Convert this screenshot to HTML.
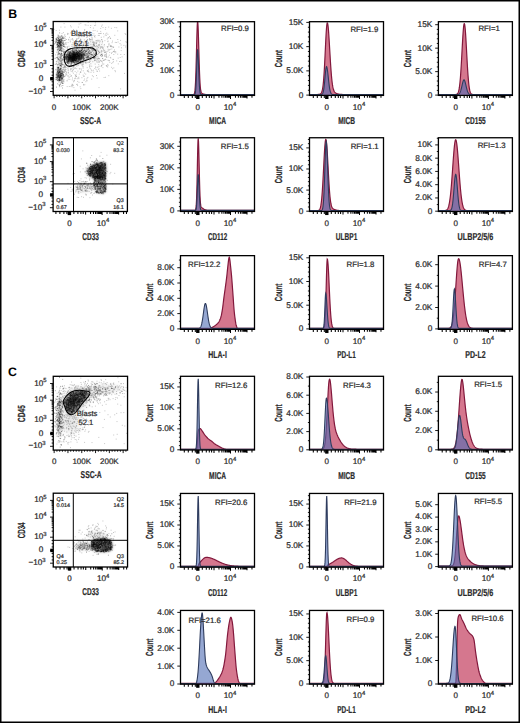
<!DOCTYPE html><html><head><meta charset="utf-8"><style>html,body{margin:0;padding:0;background:#fff;}svg{display:block;}text{font-family:"Liberation Sans",sans-serif;text-rendering:geometricPrecision;}.t{stroke:#2a2a2a;stroke-width:.22}</style></head><body><svg width="520" height="723" viewBox="0 0 520 723" font-family="Liberation Sans, sans-serif">
<rect width="520" height="723" fill="#fff"/>
<defs><filter id="b0" x="-5%" y="-5%" width="110%" height="110%"><feGaussianBlur stdDeviation="0.35"/></filter><filter id="b1" x="-50%" y="-50%" width="200%" height="200%"><feGaussianBlur stdDeviation="0.9"/></filter><filter id="b2" x="-50%" y="-50%" width="200%" height="200%"><feGaussianBlur stdDeviation="1.8"/></filter><filter id="b3" x="-50%" y="-50%" width="200%" height="200%"><feGaussianBlur stdDeviation="3.5"/></filter></defs>
<clipPath id="c0"><rect x="180.5" y="21.7" width="74" height="73.7"/></clipPath>
<g clip-path="url(#c0)">
<path d="M178.5,98.2L178.5,94.65L193,94.64L193.25,94.62L193.5,94.57L193.75,94.48L194,94.29L194.25,93.92L194.5,93.24L194.75,92.06L195,90.13L195.25,87.14L195.5,82.8L195.75,76.88L196,69.31L196.25,60.31L196.5,50.44L196.75,40.56L197,31.78L197.25,25.2L197.5,21.74L197.75,21.8L198,24.93L198.25,30.7L198.5,38.41L198.75,47.18L199,56.13L199.25,64.56L199.5,71.96L199.75,78.06L200,82.81L200.25,86.33L200.5,88.81L200.75,90.49L201,91.6L201.25,92.31L201.5,92.77L201.75,93.08L202,93.3L202.25,93.47L202.5,93.61L202.75,93.73L203,93.84L203.25,93.94L203.5,94.03L203.75,94.11L204,94.18L204.25,94.25L204.5,94.31L204.75,94.36L205,94.41L205.25,94.45L205.5,94.49L205.75,94.52L206,94.54L206.25,94.56L206.5,94.58L206.75,94.59L207,94.6L207.25,94.61L207.5,94.62L207.75,94.63L208,94.63L256.5,94.65L256.5,98.2Z" fill="rgba(192,48,84,0.66)" stroke="#82183c" stroke-width="1.2"/>
<path d="M178.5,98.2L178.5,94.65L194,94.63L194.25,94.61L194.5,94.53L194.75,94.35L195,93.96L195.25,93.16L195.5,91.69L195.75,89.21L196,85.38L196.25,80.04L196.5,73.33L196.75,65.84L197,58.62L197.25,52.93L197.5,49.93L197.75,50.15L198,53.11L198.25,58.22L198.5,64.64L198.75,71.42L199,77.76L199.25,83.11L199.5,87.25L199.75,90.19L200,92.12L200.25,93.31L200.5,93.98L200.75,94.33L201,94.51L201.25,94.59L201.5,94.63L201.75,94.64L256.5,94.65L256.5,98.2Z" fill="rgba(78,108,180,0.6)" stroke="#2e3c5e" stroke-width="1.1"/>
</g>
<rect x="180.5" y="21.7" width="74" height="73.7" fill="none" stroke="#000" stroke-width="1.3"/>
<path d="M177.3,95.2H180.5M178.9,90.31H180.5M178.9,85.43H180.5M178.9,80.54H180.5M178.9,75.65H180.5M177.3,70.77H180.5M178.9,65.88H180.5M178.9,60.99H180.5M178.9,56.11H180.5M178.9,51.22H180.5M177.3,46.33H180.5M178.9,41.45H180.5M178.9,36.56H180.5M178.9,31.67H180.5M178.9,26.79H180.5M177.3,21.9H180.5" stroke="#000" stroke-width="0.9" fill="none"/>
<text class="t" x="174.4" y="97.6" font-size="8.3" text-anchor="end" fill="#2a2a2a" font-weight="normal" >0</text>
<text class="t" x="174.4" y="73.17" font-size="8.3" text-anchor="end" fill="#2a2a2a" font-weight="normal" >10K</text>
<text class="t" x="174.4" y="48.73" font-size="8.3" text-anchor="end" fill="#2a2a2a" font-weight="normal" >20K</text>
<text class="t" x="174.4" y="24.3" font-size="8.3" text-anchor="end" fill="#2a2a2a" font-weight="normal" >30K</text>
<path d="M184.3,95.4V98M188.3,95.4V98M192.3,95.4V98M195.3,95.4V98M197.8,95.4V98.6M202.3,95.4V98M206.3,95.4V98M209.3,95.4V98M211.6,95.4V98M214,95.4V98.4M218.97,95.4V97.8M221.87,95.4V97.8M223.93,95.4V97.8M225.53,95.4V97.8M226.84,95.4V97.8M227.94,95.4V97.8M228.9,95.4V97.8M229.75,95.4V97.8M230.5,95.4V99M235.47,95.4V97.8M238.37,95.4V97.8M240.43,95.4V97.8M242.03,95.4V97.8M243.34,95.4V97.8M244.44,95.4V97.8M245.4,95.4V97.8M246.25,95.4V97.8M247,95.4V98.4M251.97,95.4V97.8" stroke="#000" stroke-width="1.05" fill="none"/>
<rect x="196.1" y="95.4" width="3.4" height="3.6" fill="#000"/>
<text class="t" x="197.8" y="109.7" font-size="8" text-anchor="middle" fill="#2a2a2a" font-weight="normal" >0</text>
<text class="t" x="223.8" y="109.7" font-size="8.2" fill="#2a2a2a">10<tspan font-size="5.9" dy="-3.5">4</tspan></text>
<text class="t" x="221" y="31.4" font-size="7.8" text-anchor="start" fill="#2a2a2a" font-weight="normal" >RFI=0.9</text>
<text transform="translate(153,58.55) rotate(-90)" font-size="10.3" font-weight="bold" text-anchor="middle" fill="#2a2a2a" stroke="#2a2a2a" stroke-width="0.2" textLength="17.3" lengthAdjust="spacingAndGlyphs">Count</text>
<text x="217.6" y="123.9" font-size="10.0" font-weight="bold" text-anchor="middle" fill="#2a2a2a" stroke="#2a2a2a" stroke-width="0.2" textLength="17" lengthAdjust="spacingAndGlyphs">MICA</text>
<clipPath id="c1"><rect x="309.5" y="21.7" width="74" height="73.7"/></clipPath>
<g clip-path="url(#c1)">
<path d="M307.5,98.1L307.5,94.55L316,94.53L316.25,94.53L316.5,94.52L316.75,94.52L317,94.51L317.25,94.5L317.5,94.48L317.75,94.47L318,94.45L318.25,94.43L318.5,94.4L318.75,94.37L319,94.33L319.25,94.28L319.5,94.22L319.75,94.14L320,94.05L320.25,93.93L320.5,93.78L320.75,93.58L321,93.32L321.25,92.99L321.5,92.56L321.75,92.01L322,91.29L322.25,90.37L322.5,89.21L322.75,87.76L323,85.98L323.25,83.81L323.5,81.21L323.75,78.17L324,74.65L324.25,70.68L324.5,66.27L324.75,61.5L325,56.44L325.25,51.21L325.5,45.97L325.75,40.87L326,36.09L326.25,31.82L326.5,28.22L326.75,25.45L327,23.63L327.25,22.83L327.5,23L327.75,23.91L328,25.54L328.25,27.8L328.5,30.65L328.75,33.98L329,37.71L329.25,41.74L329.5,45.95L329.75,50.24L330,54.53L330.25,58.73L330.5,62.77L330.75,66.58L331,70.12L331.25,73.37L331.5,76.3L331.75,78.92L332,81.22L332.25,83.22L332.5,84.95L332.75,86.42L333,87.66L333.25,88.7L333.5,89.56L333.75,90.28L334,90.88L334.25,91.37L334.5,91.77L334.75,92.11L335,92.39L335.25,92.63L335.5,92.83L335.75,93L336,93.15L336.25,93.29L336.5,93.41L336.75,93.51L337,93.61L337.25,93.7L337.5,93.78L337.75,93.85L338,93.92L338.25,93.99L338.5,94.04L338.75,94.09L339,94.14L339.25,94.19L339.5,94.23L339.75,94.26L340,94.3L340.25,94.32L340.5,94.35L340.75,94.38L341,94.4L341.25,94.42L341.5,94.43L341.75,94.45L342,94.46L342.25,94.47L342.5,94.48L342.75,94.49L343,94.5L343.25,94.51L343.5,94.51L343.75,94.52L344,94.52L344.25,94.53L344.5,94.53L385.5,94.55L385.5,98.1Z" fill="rgba(192,48,84,0.66)" stroke="#82183c" stroke-width="1.2"/>
<path d="M307.5,98.1L307.5,94.55L320.75,94.53L321,94.52L321.25,94.49L321.5,94.44L321.75,94.36L322,94.24L322.25,94.04L322.5,93.75L322.75,93.32L323,92.71L323.25,91.87L323.5,90.76L323.75,89.33L324,87.57L324.25,85.46L324.5,83.04L324.75,80.37L325,77.57L325.25,74.76L325.5,72.13L325.75,69.84L326,68.06L326.25,66.94L326.5,66.55L326.75,66.82L327,67.61L327.25,68.88L327.5,70.55L327.75,72.55L328,74.76L328.25,77.1L328.5,79.45L328.75,81.73L329,83.88L329.25,85.83L329.5,87.57L329.75,89.06L330,90.32L330.25,91.35L330.5,92.18L330.75,92.83L331,93.32L331.25,93.69L331.5,93.96L331.75,94.15L332,94.29L332.25,94.38L332.5,94.44L332.75,94.48L333,94.51L333.25,94.53L333.5,94.54L385.5,94.55L385.5,98.1Z" fill="rgba(78,108,180,0.6)" stroke="#2e3c5e" stroke-width="1.1"/>
</g>
<rect x="309.5" y="21.7" width="74" height="73.7" fill="none" stroke="#000" stroke-width="1.3"/>
<path d="M306.3,95.1H309.5M307.9,90.25H309.5M307.9,85.41H309.5M307.9,80.56H309.5M307.9,75.71H309.5M306.3,70.87H309.5M307.9,66.02H309.5M307.9,61.17H309.5M307.9,56.33H309.5M307.9,51.48H309.5M306.3,46.63H309.5M307.9,41.79H309.5M307.9,36.94H309.5M307.9,32.09H309.5M307.9,27.25H309.5M306.3,22.4H309.5" stroke="#000" stroke-width="0.9" fill="none"/>
<text class="t" x="303.4" y="97.5" font-size="8.3" text-anchor="end" fill="#2a2a2a" font-weight="normal" >0</text>
<text class="t" x="303.4" y="73.27" font-size="8.3" text-anchor="end" fill="#2a2a2a" font-weight="normal" >5.0K</text>
<text class="t" x="303.4" y="49.03" font-size="8.3" text-anchor="end" fill="#2a2a2a" font-weight="normal" >10K</text>
<text class="t" x="303.4" y="24.8" font-size="8.3" text-anchor="end" fill="#2a2a2a" font-weight="normal" >15K</text>
<path d="M313.3,95.4V98M317.3,95.4V98M321.3,95.4V98M324.3,95.4V98M326.8,95.4V98.6M331.3,95.4V98M335.3,95.4V98M338.3,95.4V98M340.6,95.4V98M343,95.4V98.4M347.97,95.4V97.8M350.87,95.4V97.8M352.93,95.4V97.8M354.53,95.4V97.8M355.84,95.4V97.8M356.94,95.4V97.8M357.9,95.4V97.8M358.75,95.4V97.8M359.5,95.4V99M364.47,95.4V97.8M367.37,95.4V97.8M369.43,95.4V97.8M371.03,95.4V97.8M372.34,95.4V97.8M373.44,95.4V97.8M374.4,95.4V97.8M375.25,95.4V97.8M376,95.4V98.4M380.97,95.4V97.8" stroke="#000" stroke-width="1.05" fill="none"/>
<rect x="325.1" y="95.4" width="3.4" height="3.6" fill="#000"/>
<text class="t" x="326.8" y="109.7" font-size="8" text-anchor="middle" fill="#2a2a2a" font-weight="normal" >0</text>
<text class="t" x="352.8" y="109.7" font-size="8.2" fill="#2a2a2a">10<tspan font-size="5.9" dy="-3.5">4</tspan></text>
<text class="t" x="350.4" y="31.7" font-size="7.8" text-anchor="start" fill="#2a2a2a" font-weight="normal" >RFI=1.9</text>
<text transform="translate(282,58.55) rotate(-90)" font-size="10.3" font-weight="bold" text-anchor="middle" fill="#2a2a2a" stroke="#2a2a2a" stroke-width="0.2" textLength="17.3" lengthAdjust="spacingAndGlyphs">Count</text>
<text x="346.6" y="123.9" font-size="10.0" font-weight="bold" text-anchor="middle" fill="#2a2a2a" stroke="#2a2a2a" stroke-width="0.2" textLength="16.9" lengthAdjust="spacingAndGlyphs">MICB</text>
<clipPath id="c2"><rect x="438.4" y="21.7" width="74" height="73.7"/></clipPath>
<g clip-path="url(#c2)">
<path d="M436.4,98.1L436.4,94.55L454.9,94.53L455.15,94.52L455.4,94.51L455.65,94.49L455.9,94.46L456.15,94.42L456.4,94.36L456.65,94.27L456.9,94.15L457.15,93.98L457.4,93.76L457.65,93.47L457.9,93.07L458.15,92.56L458.4,91.91L458.65,91.08L458.9,90.05L459.15,88.77L459.4,87.22L459.65,85.37L459.9,83.18L460.15,80.63L460.4,77.71L460.65,74.42L460.9,70.77L461.15,66.8L461.4,62.53L461.65,58.04L461.9,53.42L462.15,48.75L462.4,44.15L462.65,39.74L462.9,35.64L463.15,31.98L463.4,28.88L463.65,26.43L463.9,24.71L464.15,23.8L464.4,23.72L464.65,24.47L464.9,26.02L465.15,28.33L465.4,31.31L465.65,34.87L465.9,38.89L466.15,43.25L466.4,47.82L466.65,52.48L466.9,57.13L467.15,61.65L467.4,65.96L467.65,70L467.9,73.72L468.15,77.08L468.4,80.07L468.65,82.69L468.9,84.95L469.15,86.87L469.4,88.48L469.65,89.81L469.9,90.89L470.15,91.76L470.4,92.45L470.65,92.98L470.9,93.4L471.15,93.71L471.4,93.95L471.65,94.12L471.9,94.25L472.15,94.34L472.4,94.41L472.65,94.45L472.9,94.48L473.15,94.51L473.4,94.52L473.65,94.53L514.4,94.55L514.4,98.1Z" fill="rgba(192,48,84,0.66)" stroke="#82183c" stroke-width="1.2"/>
<path d="M436.4,98.1L436.4,94.55L456.65,94.53L456.9,94.52L457.15,94.51L457.4,94.49L457.65,94.45L457.9,94.41L458.15,94.35L458.4,94.26L458.65,94.14L458.9,93.98L459.15,93.77L459.4,93.51L459.65,93.17L459.9,92.75L460.15,92.25L460.4,91.64L460.65,90.94L460.9,90.13L461.15,89.22L461.4,88.24L461.65,87.18L461.9,86.08L462.15,84.97L462.4,83.88L462.65,82.84L462.9,81.91L463.15,81.12L463.4,80.5L463.65,80.07L463.9,79.87L464.15,79.89L464.4,80.14L464.65,80.61L464.9,81.27L465.15,82.09L465.4,83.04L465.65,84.09L465.9,85.19L466.15,86.3L466.4,87.39L466.65,88.44L466.9,89.41L467.15,90.3L467.4,91.08L467.65,91.77L467.9,92.35L468.15,92.84L468.4,93.24L468.65,93.56L468.9,93.82L469.15,94.02L469.4,94.17L469.65,94.28L469.9,94.36L470.15,94.42L470.4,94.46L470.65,94.49L470.9,94.51L471.15,94.53L471.4,94.53L514.4,94.55L514.4,98.1Z" fill="rgba(78,108,180,0.6)" stroke="#2e3c5e" stroke-width="1.1"/>
</g>
<rect x="438.4" y="21.7" width="74" height="73.7" fill="none" stroke="#000" stroke-width="1.3"/>
<path d="M435.2,95.1H438.4M436.8,90.41H438.4M436.8,85.71H438.4M436.8,81.02H438.4M436.8,76.33H438.4M435.2,71.63H438.4M436.8,66.94H438.4M436.8,62.25H438.4M436.8,57.55H438.4M436.8,52.86H438.4M435.2,48.17H438.4M436.8,43.47H438.4M436.8,38.78H438.4M436.8,34.09H438.4M436.8,29.39H438.4M435.2,24.7H438.4" stroke="#000" stroke-width="0.9" fill="none"/>
<text class="t" x="432.3" y="97.5" font-size="8.3" text-anchor="end" fill="#2a2a2a" font-weight="normal" >0</text>
<text class="t" x="432.3" y="74.03" font-size="8.3" text-anchor="end" fill="#2a2a2a" font-weight="normal" >5.0K</text>
<text class="t" x="432.3" y="50.57" font-size="8.3" text-anchor="end" fill="#2a2a2a" font-weight="normal" >10K</text>
<text class="t" x="432.3" y="27.1" font-size="8.3" text-anchor="end" fill="#2a2a2a" font-weight="normal" >15K</text>
<path d="M442.2,95.4V98M446.2,95.4V98M450.2,95.4V98M453.2,95.4V98M455.7,95.4V98.6M460.2,95.4V98M464.2,95.4V98M467.2,95.4V98M469.5,95.4V98M471.9,95.4V98.4M476.87,95.4V97.8M479.77,95.4V97.8M481.83,95.4V97.8M483.43,95.4V97.8M484.74,95.4V97.8M485.84,95.4V97.8M486.8,95.4V97.8M487.65,95.4V97.8M488.4,95.4V99M493.37,95.4V97.8M496.27,95.4V97.8M498.33,95.4V97.8M499.93,95.4V97.8M501.24,95.4V97.8M502.34,95.4V97.8M503.3,95.4V97.8M504.15,95.4V97.8M504.9,95.4V98.4M509.87,95.4V97.8" stroke="#000" stroke-width="1.05" fill="none"/>
<rect x="454" y="95.4" width="3.4" height="3.6" fill="#000"/>
<text class="t" x="455.7" y="109.7" font-size="8" text-anchor="middle" fill="#2a2a2a" font-weight="normal" >0</text>
<text class="t" x="481.7" y="109.7" font-size="8.2" fill="#2a2a2a">10<tspan font-size="5.9" dy="-3.5">4</tspan></text>
<text class="t" x="478.4" y="30.5" font-size="7.8" text-anchor="start" fill="#2a2a2a" font-weight="normal" >RFI=1</text>
<text transform="translate(410.9,58.55) rotate(-90)" font-size="10.3" font-weight="bold" text-anchor="middle" fill="#2a2a2a" stroke="#2a2a2a" stroke-width="0.2" textLength="17.3" lengthAdjust="spacingAndGlyphs">Count</text>
<text x="475.5" y="123.9" font-size="10.0" font-weight="bold" text-anchor="middle" fill="#2a2a2a" stroke="#2a2a2a" stroke-width="0.2" textLength="20.3" lengthAdjust="spacingAndGlyphs">CD155</text>
<clipPath id="c3"><rect x="180.5" y="137.75" width="74" height="73.7"/></clipPath>
<g clip-path="url(#c3)">
<path d="M178.5,213.9L178.5,210.35L194.5,210.34L194.75,210.33L195,210.29L195.25,210.17L195.5,209.88L195.75,209.21L196,207.82L196.25,205.18L196.5,200.64L196.75,193.62L197,183.91L197.25,171.99L197.5,159.29L197.75,147.99L198,140.44L198.25,138.37L198.5,141.47L198.75,148.7L199,158.66L199.25,169.63L199.5,180.07L199.75,188.92L200,195.7L200.25,200.46L200.5,203.56L200.75,205.43L201,206.49L201.25,207.07L201.5,207.41L201.75,207.64L202,207.82L202.25,207.99L202.5,208.17L202.75,208.35L203,208.53L203.25,208.71L203.5,208.89L203.75,209.06L204,209.22L204.25,209.38L204.5,209.52L204.75,209.64L205,209.76L205.25,209.86L205.5,209.94L205.75,210.02L206,210.08L206.25,210.14L206.5,210.18L206.75,210.22L207,210.25L207.25,210.27L207.5,210.29L207.75,210.31L208,210.32L208.25,210.33L208.5,210.33L256.5,210.35L256.5,213.9Z" fill="rgba(192,48,84,0.66)" stroke="#82183c" stroke-width="1.2"/>
<path d="M178.5,213.9L178.5,210.35L195,210.34L195.25,210.31L195.5,210.23L195.75,210.02L196,209.53L196.25,208.5L196.5,206.59L196.75,203.38L197,198.66L197.25,192.56L197.5,185.8L197.75,179.62L198,175.46L198.25,174.41L198.5,176.3L198.75,180.48L199,186.1L199.25,192.12L199.5,197.67L199.75,202.18L200,205.48L200.25,207.66L200.5,208.98L200.75,209.7L201,210.07L201.25,210.23L201.5,210.31L201.75,210.33L256.5,210.35L256.5,213.9Z" fill="rgba(78,108,180,0.6)" stroke="#2e3c5e" stroke-width="1.1"/>
</g>
<rect x="180.5" y="137.75" width="74" height="73.7" fill="none" stroke="#000" stroke-width="1.3"/>
<path d="M177.3,210.9H180.5M178.9,206.59H180.5M178.9,202.29H180.5M178.9,197.98H180.5M178.9,193.67H180.5M177.3,189.37H180.5M178.9,185.06H180.5M178.9,180.75H180.5M178.9,176.45H180.5M178.9,172.14H180.5M177.3,167.83H180.5M178.9,163.53H180.5M178.9,159.22H180.5M178.9,154.91H180.5M178.9,150.61H180.5M177.3,146.3H180.5M178.9,141.99H180.5" stroke="#000" stroke-width="0.9" fill="none"/>
<text class="t" x="174.4" y="213.3" font-size="8.3" text-anchor="end" fill="#2a2a2a" font-weight="normal" >0</text>
<text class="t" x="174.4" y="191.77" font-size="8.3" text-anchor="end" fill="#2a2a2a" font-weight="normal" >10K</text>
<text class="t" x="174.4" y="170.23" font-size="8.3" text-anchor="end" fill="#2a2a2a" font-weight="normal" >20K</text>
<text class="t" x="174.4" y="148.7" font-size="8.3" text-anchor="end" fill="#2a2a2a" font-weight="normal" >30K</text>
<path d="M184.3,211.45V214.05M188.3,211.45V214.05M192.3,211.45V214.05M195.3,211.45V214.05M197.8,211.45V214.65M202.3,211.45V214.05M206.3,211.45V214.05M209.3,211.45V214.05M211.6,211.45V214.05M214,211.45V214.45M218.97,211.45V213.85M221.87,211.45V213.85M223.93,211.45V213.85M225.53,211.45V213.85M226.84,211.45V213.85M227.94,211.45V213.85M228.9,211.45V213.85M229.75,211.45V213.85M230.5,211.45V215.05M235.47,211.45V213.85M238.37,211.45V213.85M240.43,211.45V213.85M242.03,211.45V213.85M243.34,211.45V213.85M244.44,211.45V213.85M245.4,211.45V213.85M246.25,211.45V213.85M247,211.45V214.45M251.97,211.45V213.85" stroke="#000" stroke-width="1.05" fill="none"/>
<rect x="196.1" y="211.45" width="3.4" height="3.6" fill="#000"/>
<text class="t" x="197.8" y="225.75" font-size="8" text-anchor="middle" fill="#2a2a2a" font-weight="normal" >0</text>
<text class="t" x="223.8" y="225.75" font-size="8.2" fill="#2a2a2a">10<tspan font-size="5.9" dy="-3.5">4</tspan></text>
<text class="t" x="220.8" y="149" font-size="7.8" text-anchor="start" fill="#2a2a2a" font-weight="normal" >RFI=1.5</text>
<text transform="translate(153,174.6) rotate(-90)" font-size="10.3" font-weight="bold" text-anchor="middle" fill="#2a2a2a" stroke="#2a2a2a" stroke-width="0.2" textLength="17.3" lengthAdjust="spacingAndGlyphs">Count</text>
<text x="217.6" y="239.95" font-size="10.0" font-weight="bold" text-anchor="middle" fill="#2a2a2a" stroke="#2a2a2a" stroke-width="0.2" textLength="19.2" lengthAdjust="spacingAndGlyphs">CD112</text>
<clipPath id="c4"><rect x="309.5" y="137.75" width="74" height="73.7"/></clipPath>
<g clip-path="url(#c4)">
<path d="M307.5,214.2L307.5,210.65L317,210.63L317.25,210.62L317.5,210.6L317.75,210.58L318,210.54L318.25,210.48L318.5,210.4L318.75,210.29L319,210.13L319.25,209.91L319.5,209.6L319.75,209.2L320,208.66L320.25,207.96L320.5,207.06L320.75,205.93L321,204.52L321.25,202.79L321.5,200.71L321.75,198.24L322,195.37L322.25,192.07L322.5,188.37L322.75,184.27L323,179.84L323.25,175.14L323.5,170.25L323.75,165.3L324,160.4L324.25,155.71L324.5,151.37L324.75,147.52L325,144.3L325.25,141.83L325.5,140.19L325.75,139.44L326,139.6L326.25,140.65L326.5,142.53L326.75,145.18L327,148.49L327.25,152.34L327.5,156.61L327.75,161.14L328,165.82L328.25,170.51L328.5,175.1L328.75,179.51L329,183.65L329.25,187.47L329.5,190.94L329.75,194.03L330,196.72L330.25,199.04L330.5,201L330.75,202.64L331,203.99L331.25,205.09L331.5,205.98L331.75,206.69L332,207.26L332.25,207.71L332.5,208.08L332.75,208.37L333,208.61L333.25,208.81L333.5,208.98L333.75,209.12L334,209.25L334.25,209.37L334.5,209.48L334.75,209.58L335,209.67L335.25,209.75L335.5,209.83L335.75,209.91L336,209.98L336.25,210.05L336.5,210.11L336.75,210.17L337,210.22L337.25,210.27L337.5,210.31L337.75,210.35L338,210.39L338.25,210.42L338.5,210.45L338.75,210.48L339,210.5L339.25,210.52L339.5,210.54L339.75,210.56L340,210.57L340.25,210.58L340.5,210.59L340.75,210.6L341,210.61L341.25,210.62L341.5,210.62L341.75,210.63L342,210.63L385.5,210.65L385.5,214.2Z" fill="rgba(192,48,84,0.66)" stroke="#82183c" stroke-width="1.2"/>
<path d="M307.5,214.2L307.5,210.65L320.75,210.63L321,210.61L321.25,210.57L321.5,210.49L321.75,210.35L322,210.1L322.25,209.7L322.5,209.04L322.75,208.02L323,206.49L323.25,204.31L323.5,201.31L323.75,197.36L324,192.36L324.25,186.34L324.5,179.42L324.75,171.89L325,164.17L325.25,156.78L325.5,150.33L325.75,145.38L326,142.4L326.25,141.69L326.5,143.11L326.75,146.44L327,151.39L327.25,157.56L327.5,164.49L327.75,171.68L328,178.72L328.25,185.25L328.5,191.04L328.75,195.95L329,199.96L329.25,203.1L329.5,205.47L329.75,207.2L330,208.42L330.25,209.25L330.5,209.8L330.75,210.15L331,210.36L331.25,210.49L331.5,210.56L331.75,210.6L332,210.63L332.25,210.64L385.5,210.65L385.5,214.2Z" fill="rgba(78,108,180,0.6)" stroke="#2e3c5e" stroke-width="1.1"/>
</g>
<rect x="309.5" y="137.75" width="74" height="73.7" fill="none" stroke="#000" stroke-width="1.3"/>
<path d="M306.3,211.2H309.5M307.9,206.98H309.5M307.9,202.76H309.5M307.9,198.54H309.5M307.9,194.32H309.5M306.3,190.1H309.5M307.9,185.88H309.5M307.9,181.66H309.5M307.9,177.44H309.5M307.9,173.22H309.5M306.3,169H309.5M307.9,164.78H309.5M307.9,160.56H309.5M307.9,156.34H309.5M307.9,152.12H309.5M306.3,147.9H309.5M307.9,143.68H309.5M307.9,139.46H309.5" stroke="#000" stroke-width="0.9" fill="none"/>
<text class="t" x="303.4" y="213.6" font-size="8.3" text-anchor="end" fill="#2a2a2a" font-weight="normal" >0</text>
<text class="t" x="303.4" y="192.5" font-size="8.3" text-anchor="end" fill="#2a2a2a" font-weight="normal" >5.0K</text>
<text class="t" x="303.4" y="171.4" font-size="8.3" text-anchor="end" fill="#2a2a2a" font-weight="normal" >10K</text>
<text class="t" x="303.4" y="150.3" font-size="8.3" text-anchor="end" fill="#2a2a2a" font-weight="normal" >15K</text>
<path d="M313.3,211.45V214.05M317.3,211.45V214.05M321.3,211.45V214.05M324.3,211.45V214.05M326.8,211.45V214.65M331.3,211.45V214.05M335.3,211.45V214.05M338.3,211.45V214.05M340.6,211.45V214.05M343,211.45V214.45M347.97,211.45V213.85M350.87,211.45V213.85M352.93,211.45V213.85M354.53,211.45V213.85M355.84,211.45V213.85M356.94,211.45V213.85M357.9,211.45V213.85M358.75,211.45V213.85M359.5,211.45V215.05M364.47,211.45V213.85M367.37,211.45V213.85M369.43,211.45V213.85M371.03,211.45V213.85M372.34,211.45V213.85M373.44,211.45V213.85M374.4,211.45V213.85M375.25,211.45V213.85M376,211.45V214.45M380.97,211.45V213.85" stroke="#000" stroke-width="1.05" fill="none"/>
<rect x="325.1" y="211.45" width="3.4" height="3.6" fill="#000"/>
<text class="t" x="326.8" y="225.75" font-size="8" text-anchor="middle" fill="#2a2a2a" font-weight="normal" >0</text>
<text class="t" x="352.8" y="225.75" font-size="8.2" fill="#2a2a2a">10<tspan font-size="5.9" dy="-3.5">4</tspan></text>
<text class="t" x="350.7" y="149" font-size="7.8" text-anchor="start" fill="#2a2a2a" font-weight="normal" >RFI=1.1</text>
<text transform="translate(282,174.6) rotate(-90)" font-size="10.3" font-weight="bold" text-anchor="middle" fill="#2a2a2a" stroke="#2a2a2a" stroke-width="0.2" textLength="17.3" lengthAdjust="spacingAndGlyphs">Count</text>
<text x="346.6" y="239.95" font-size="10.0" font-weight="bold" text-anchor="middle" fill="#2a2a2a" stroke="#2a2a2a" stroke-width="0.2" textLength="21.5" lengthAdjust="spacingAndGlyphs">ULBP1</text>
<clipPath id="c5"><rect x="438.4" y="137.75" width="74" height="73.7"/></clipPath>
<g clip-path="url(#c5)">
<path d="M436.4,214.2L436.4,210.65L443.4,210.63L443.65,210.63L443.9,210.62L444.15,210.61L444.4,210.59L444.65,210.57L444.9,210.54L445.15,210.5L445.4,210.45L445.65,210.39L445.9,210.31L446.15,210.2L446.4,210.07L446.65,209.9L446.9,209.69L447.15,209.43L447.4,209.11L447.65,208.71L447.9,208.24L448.15,207.66L448.4,206.98L448.65,206.17L448.9,205.22L449.15,204.11L449.4,202.83L449.65,201.37L449.9,199.71L450.15,197.84L450.4,195.76L450.65,193.46L450.9,190.94L451.15,188.2L451.4,185.27L451.65,182.15L451.9,178.86L452.15,175.45L452.4,171.93L452.65,168.36L452.9,164.78L453.15,161.25L453.4,157.8L453.65,154.51L453.9,151.43L454.15,148.61L454.4,146.1L454.65,143.96L454.9,142.23L455.15,140.93L455.4,140.1L455.65,139.76L455.9,139.9L456.15,140.49L456.4,141.53L456.65,143L456.9,144.87L457.15,147.1L457.4,149.65L457.65,152.48L457.9,155.53L458.15,158.77L458.4,162.13L458.65,165.57L458.9,169.03L459.15,172.48L459.4,175.87L459.65,179.17L459.9,182.33L460.15,185.35L460.4,188.19L460.65,190.84L460.9,193.29L461.15,195.53L461.4,197.57L461.65,199.41L461.9,201.05L462.15,202.51L462.4,203.79L462.65,204.91L462.9,205.87L463.15,206.7L463.4,207.41L463.65,208L463.9,208.51L464.15,208.92L464.4,209.27L464.65,209.55L464.9,209.78L465.15,209.97L465.4,210.12L465.65,210.24L465.9,210.33L466.15,210.41L466.4,210.47L466.65,210.51L466.9,210.55L467.15,210.57L467.4,210.59L467.65,210.61L467.9,210.62L468.15,210.63L468.4,210.63L514.4,210.65L514.4,214.2Z" fill="rgba(192,48,84,0.66)" stroke="#82183c" stroke-width="1.2"/>
<path d="M436.4,214.2L436.4,210.65L448.9,210.64L449.15,210.63L449.4,210.61L449.65,210.59L449.9,210.54L450.15,210.47L450.4,210.37L450.65,210.21L450.9,209.98L451.15,209.64L451.4,209.17L451.65,208.52L451.9,207.67L452.15,206.55L452.4,205.13L452.65,203.39L452.9,201.3L453.15,198.87L453.4,196.11L453.65,193.11L453.9,189.93L454.15,186.7L454.4,183.55L454.65,180.65L454.9,178.15L455.15,176.2L455.4,174.91L455.65,174.37L455.9,174.6L456.15,175.6L456.4,177.3L456.65,179.6L456.9,182.36L457.15,185.42L457.4,188.63L457.65,191.85L457.9,194.94L458.15,197.8L458.4,200.37L458.65,202.6L458.9,204.48L459.15,206.02L459.4,207.25L459.65,208.21L459.9,208.93L460.15,209.47L460.4,209.86L460.65,210.13L460.9,210.31L461.15,210.44L461.4,210.52L461.65,210.57L461.9,210.6L462.15,210.62L462.4,210.63L514.4,210.65L514.4,214.2Z" fill="rgba(78,108,180,0.6)" stroke="#2e3c5e" stroke-width="1.1"/>
</g>
<rect x="438.4" y="137.75" width="74" height="73.7" fill="none" stroke="#000" stroke-width="1.3"/>
<path d="M435.2,211.2H438.4M436.8,204.57H438.4M435.2,197.94H438.4M436.8,191.31H438.4M435.2,184.68H438.4M436.8,178.05H438.4M435.2,171.42H438.4M436.8,164.79H438.4M435.2,158.16H438.4M436.8,151.53H438.4M435.2,144.9H438.4M436.8,138.27H438.4" stroke="#000" stroke-width="0.9" fill="none"/>
<text class="t" x="432.3" y="213.6" font-size="8.3" text-anchor="end" fill="#2a2a2a" font-weight="normal" >0</text>
<text class="t" x="432.3" y="200.34" font-size="8.3" text-anchor="end" fill="#2a2a2a" font-weight="normal" >2.0K</text>
<text class="t" x="432.3" y="187.08" font-size="8.3" text-anchor="end" fill="#2a2a2a" font-weight="normal" >4.0K</text>
<text class="t" x="432.3" y="173.82" font-size="8.3" text-anchor="end" fill="#2a2a2a" font-weight="normal" >6.0K</text>
<text class="t" x="432.3" y="160.56" font-size="8.3" text-anchor="end" fill="#2a2a2a" font-weight="normal" >8.0K</text>
<text class="t" x="432.3" y="147.3" font-size="8.3" text-anchor="end" fill="#2a2a2a" font-weight="normal" >10K</text>
<path d="M442.2,211.45V214.05M446.2,211.45V214.05M450.2,211.45V214.05M453.2,211.45V214.05M455.7,211.45V214.65M460.2,211.45V214.05M464.2,211.45V214.05M467.2,211.45V214.05M469.5,211.45V214.05M471.9,211.45V214.45M476.87,211.45V213.85M479.77,211.45V213.85M481.83,211.45V213.85M483.43,211.45V213.85M484.74,211.45V213.85M485.84,211.45V213.85M486.8,211.45V213.85M487.65,211.45V213.85M488.4,211.45V215.05M493.37,211.45V213.85M496.27,211.45V213.85M498.33,211.45V213.85M499.93,211.45V213.85M501.24,211.45V213.85M502.34,211.45V213.85M503.3,211.45V213.85M504.15,211.45V213.85M504.9,211.45V214.45M509.87,211.45V213.85" stroke="#000" stroke-width="1.05" fill="none"/>
<rect x="454" y="211.45" width="3.4" height="3.6" fill="#000"/>
<text class="t" x="455.7" y="225.75" font-size="8" text-anchor="middle" fill="#2a2a2a" font-weight="normal" >0</text>
<text class="t" x="481.7" y="225.75" font-size="8.2" fill="#2a2a2a">10<tspan font-size="5.9" dy="-3.5">4</tspan></text>
<text class="t" x="477.7" y="147.8" font-size="7.8" text-anchor="start" fill="#2a2a2a" font-weight="normal" >RFI=1.3</text>
<text transform="translate(410.9,174.6) rotate(-90)" font-size="10.3" font-weight="bold" text-anchor="middle" fill="#2a2a2a" stroke="#2a2a2a" stroke-width="0.2" textLength="17.3" lengthAdjust="spacingAndGlyphs">Count</text>
<text x="475.5" y="239.95" font-size="10.0" font-weight="bold" text-anchor="middle" fill="#2a2a2a" stroke="#2a2a2a" stroke-width="0.2" textLength="35.8" lengthAdjust="spacingAndGlyphs">ULBP2/5/6</text>
<clipPath id="c6"><rect x="180.5" y="255.65" width="74" height="73.7"/></clipPath>
<g clip-path="url(#c6)">
<path d="M178.5,331.9L178.5,328.35L210.25,328.33L210.5,328.29L210.75,328.2L211,328.08L211.25,327.95L211.5,327.81L211.75,327.67L212,327.53L212.25,327.39L212.5,327.24L212.75,327.09L213,326.94L213.25,326.79L213.5,326.64L213.75,326.48L214,326.33L214.25,326.16L214.5,326L214.75,325.83L215,325.65L215.25,325.46L215.5,325.27L215.75,325.08L216,324.88L216.25,324.68L216.5,324.47L216.75,324.26L217,324.04L217.25,323.81L217.5,323.56L217.75,323.3L218,323.02L218.25,322.72L218.5,322.4L218.75,322.05L219,321.66L219.25,321.22L219.5,320.73L219.75,320.19L220,319.6L220.25,318.95L220.5,318.24L220.75,317.47L221,316.61L221.25,315.64L221.5,314.52L221.75,313.25L222,311.86L222.25,310.36L222.5,308.76L222.75,307.01L223,305.1L223.25,303.05L223.5,300.94L223.75,298.89L224,296.92L224.25,295.06L224.5,293.27L224.75,291.5L225,289.74L225.25,287.97L225.5,286.17L225.75,284.35L226,282.52L226.25,280.64L226.5,278.67L226.75,276.57L227,274.3L227.25,271.87L227.5,269.4L227.75,267.04L228,264.81L228.25,262.68L228.5,260.69L228.75,258.97L229,257.76L229.25,257.29L229.5,257.71L229.75,259.01L230,260.95L230.25,263.21L230.5,265.53L230.75,267.84L231,270.19L231.25,272.69L231.5,275.38L231.75,278.32L232,281.51L232.25,284.83L232.5,288.19L232.75,291.54L233,294.96L233.25,298.54L233.5,302.23L233.75,305.8L234,308.97L234.25,311.7L234.5,314.07L234.75,316.21L235,318.19L235.25,320.03L235.5,321.71L235.75,323.18L236,324.45L236.25,325.53L236.5,326.43L236.75,327.1L237,327.57L237.25,327.89L237.5,328.1L237.75,328.24L238,328.31L238.25,328.34L256.5,328.35L256.5,331.9Z" fill="rgba(192,48,84,0.66)" stroke="#82183c" stroke-width="1.2"/>
<path d="M178.5,331.9L178.5,328.35L197.75,328.33L198,328.32L198.25,328.31L198.5,328.29L198.75,328.25L199,328.2L199.25,328.13L199.5,328.03L199.75,327.89L200,327.7L200.25,327.45L200.5,327.11L200.75,326.68L201,326.14L201.25,325.46L201.5,324.63L201.75,323.64L202,322.48L202.25,321.15L202.5,319.65L202.75,318L203,316.23L203.25,314.38L203.5,312.49L203.75,310.63L204,308.86L204.25,307.24L204.5,305.85L204.75,304.73L205,303.94L205.25,303.52L205.5,303.48L205.75,303.79L206,304.45L206.25,305.41L206.5,306.64L206.75,308.1L207,309.72L207.25,311.46L207.5,313.25L207.75,315.04L208,316.78L208.25,318.44L208.5,319.97L208.75,321.37L209,322.62L209.25,323.71L209.5,324.65L209.75,325.44L210,326.09L210.25,326.62L210.5,327.05L210.75,327.38L211,327.64L211.25,327.84L211.5,327.98L211.75,328.09L212,328.17L212.25,328.23L212.5,328.27L212.75,328.3L213,328.31L213.25,328.33L213.5,328.34L256.5,328.35L256.5,331.9Z" fill="rgba(78,108,180,0.6)" stroke="#2e3c5e" stroke-width="1.1"/>
</g>
<rect x="180.5" y="255.65" width="74" height="73.7" fill="none" stroke="#000" stroke-width="1.3"/>
<path d="M177.3,328.9H180.5M178.9,321.25H180.5M177.3,313.6H180.5M178.9,305.95H180.5M177.3,298.3H180.5M178.9,290.65H180.5M177.3,283H180.5M178.9,275.35H180.5M177.3,267.7H180.5M178.9,260.05H180.5" stroke="#000" stroke-width="0.9" fill="none"/>
<text class="t" x="174.4" y="331.3" font-size="8.3" text-anchor="end" fill="#2a2a2a" font-weight="normal" >0</text>
<text class="t" x="174.4" y="316" font-size="8.3" text-anchor="end" fill="#2a2a2a" font-weight="normal" >2.0K</text>
<text class="t" x="174.4" y="300.7" font-size="8.3" text-anchor="end" fill="#2a2a2a" font-weight="normal" >4.0K</text>
<text class="t" x="174.4" y="285.4" font-size="8.3" text-anchor="end" fill="#2a2a2a" font-weight="normal" >6.0K</text>
<text class="t" x="174.4" y="270.1" font-size="8.3" text-anchor="end" fill="#2a2a2a" font-weight="normal" >8.0K</text>
<path d="M184.3,329.35V331.95M188.3,329.35V331.95M192.3,329.35V331.95M195.3,329.35V331.95M197.8,329.35V332.55M202.3,329.35V331.95M206.3,329.35V331.95M209.3,329.35V331.95M211.6,329.35V331.95M214,329.35V332.35M218.97,329.35V331.75M221.87,329.35V331.75M223.93,329.35V331.75M225.53,329.35V331.75M226.84,329.35V331.75M227.94,329.35V331.75M228.9,329.35V331.75M229.75,329.35V331.75M230.5,329.35V332.95M235.47,329.35V331.75M238.37,329.35V331.75M240.43,329.35V331.75M242.03,329.35V331.75M243.34,329.35V331.75M244.44,329.35V331.75M245.4,329.35V331.75M246.25,329.35V331.75M247,329.35V332.35M251.97,329.35V331.75" stroke="#000" stroke-width="1.05" fill="none"/>
<rect x="196.1" y="329.35" width="3.4" height="3.6" fill="#000"/>
<text class="t" x="197.8" y="343.65" font-size="8" text-anchor="middle" fill="#2a2a2a" font-weight="normal" >0</text>
<text class="t" x="223.8" y="343.65" font-size="8.2" fill="#2a2a2a">10<tspan font-size="5.9" dy="-3.5">4</tspan></text>
<text class="t" x="188" y="267" font-size="7.8" text-anchor="start" fill="#2a2a2a" font-weight="normal" >RFI=12.2</text>
<text transform="translate(153,292.5) rotate(-90)" font-size="10.3" font-weight="bold" text-anchor="middle" fill="#2a2a2a" stroke="#2a2a2a" stroke-width="0.2" textLength="17.3" lengthAdjust="spacingAndGlyphs">Count</text>
<text x="217.6" y="357.85" font-size="10.0" font-weight="bold" text-anchor="middle" fill="#2a2a2a" stroke="#2a2a2a" stroke-width="0.2" textLength="18.5" lengthAdjust="spacingAndGlyphs">HLA-I</text>
<clipPath id="c7"><rect x="309.5" y="255.65" width="74" height="73.7"/></clipPath>
<g clip-path="url(#c7)">
<path d="M307.5,331.9L307.5,328.35L322.75,328.34L323,328.32L323.25,328.27L323.5,328.17L323.75,327.97L324,327.58L324.25,326.87L324.5,325.64L324.75,323.63L325,320.56L325.25,316.14L325.5,310.18L325.75,302.67L326,293.88L326.25,284.41L326.5,275.15L326.75,267.19L327,261.58L327.25,259.12L327.5,259.43L327.75,260.97L328,263.6L328.25,267.19L328.5,271.58L328.75,276.56L329,281.91L329.25,287.42L329.5,292.9L329.75,298.17L330,303.1L330.25,307.59L330.5,311.57L330.75,315.02L331,317.94L331.25,320.37L331.5,322.33L331.75,323.89L332,325.1L332.25,326.02L332.5,326.71L332.75,327.22L333,327.58L333.25,327.84L333.5,328.01L333.75,328.13L334,328.21L334.25,328.26L334.5,328.3L334.75,328.32L335,328.33L385.5,328.35L385.5,331.9Z" fill="rgba(192,48,84,0.66)" stroke="#82183c" stroke-width="1.2"/>
<path d="M307.5,331.9L307.5,328.35L322.5,328.34L322.75,328.31L323,328.23L323.25,328.03L323.5,327.55L323.75,326.56L324,324.69L324.25,321.58L324.5,316.99L324.75,311.06L325,304.48L325.25,298.47L325.5,294.43L325.75,293.38L326,294.27L326.25,296.35L326.5,299.39L326.75,303.09L327,307.12L327.25,311.16L327.5,314.93L327.75,318.26L328,321.03L328.25,323.24L328.5,324.91L328.75,326.12L329,326.95L329.25,327.51L329.5,327.86L329.75,328.08L330,328.2L330.25,328.27L330.5,328.31L330.75,328.33L385.5,328.35L385.5,331.9Z" fill="rgba(78,108,180,0.6)" stroke="#2e3c5e" stroke-width="1.1"/>
</g>
<rect x="309.5" y="255.65" width="74" height="73.7" fill="none" stroke="#000" stroke-width="1.3"/>
<path d="M306.3,328.9H309.5M307.9,324.16H309.5M307.9,319.42H309.5M307.9,314.68H309.5M307.9,309.94H309.5M306.3,305.2H309.5M307.9,300.46H309.5M307.9,295.72H309.5M307.9,290.98H309.5M307.9,286.24H309.5M306.3,281.5H309.5M307.9,276.76H309.5M307.9,272.02H309.5M307.9,267.28H309.5M307.9,262.54H309.5M306.3,257.8H309.5" stroke="#000" stroke-width="0.9" fill="none"/>
<text class="t" x="303.4" y="331.3" font-size="8.3" text-anchor="end" fill="#2a2a2a" font-weight="normal" >0</text>
<text class="t" x="303.4" y="307.6" font-size="8.3" text-anchor="end" fill="#2a2a2a" font-weight="normal" >5.0K</text>
<text class="t" x="303.4" y="283.9" font-size="8.3" text-anchor="end" fill="#2a2a2a" font-weight="normal" >10K</text>
<text class="t" x="303.4" y="260.2" font-size="8.3" text-anchor="end" fill="#2a2a2a" font-weight="normal" >15K</text>
<path d="M313.3,329.35V331.95M317.3,329.35V331.95M321.3,329.35V331.95M324.3,329.35V331.95M326.8,329.35V332.55M331.3,329.35V331.95M335.3,329.35V331.95M338.3,329.35V331.95M340.6,329.35V331.95M343,329.35V332.35M347.97,329.35V331.75M350.87,329.35V331.75M352.93,329.35V331.75M354.53,329.35V331.75M355.84,329.35V331.75M356.94,329.35V331.75M357.9,329.35V331.75M358.75,329.35V331.75M359.5,329.35V332.95M364.47,329.35V331.75M367.37,329.35V331.75M369.43,329.35V331.75M371.03,329.35V331.75M372.34,329.35V331.75M373.44,329.35V331.75M374.4,329.35V331.75M375.25,329.35V331.75M376,329.35V332.35M380.97,329.35V331.75" stroke="#000" stroke-width="1.05" fill="none"/>
<rect x="325.1" y="329.35" width="3.4" height="3.6" fill="#000"/>
<text class="t" x="326.8" y="343.65" font-size="8" text-anchor="middle" fill="#2a2a2a" font-weight="normal" >0</text>
<text class="t" x="352.8" y="343.65" font-size="8.2" fill="#2a2a2a">10<tspan font-size="5.9" dy="-3.5">4</tspan></text>
<text class="t" x="346.5" y="267" font-size="7.8" text-anchor="start" fill="#2a2a2a" font-weight="normal" >RFI=1.8</text>
<text transform="translate(282,292.5) rotate(-90)" font-size="10.3" font-weight="bold" text-anchor="middle" fill="#2a2a2a" stroke="#2a2a2a" stroke-width="0.2" textLength="17.3" lengthAdjust="spacingAndGlyphs">Count</text>
<text x="346.6" y="357.85" font-size="10.0" font-weight="bold" text-anchor="middle" fill="#2a2a2a" stroke="#2a2a2a" stroke-width="0.2" textLength="18.5" lengthAdjust="spacingAndGlyphs">PD-L1</text>
<clipPath id="c8"><rect x="438.4" y="255.65" width="74" height="73.7"/></clipPath>
<g clip-path="url(#c8)">
<path d="M436.4,331.9L436.4,328.35L447.4,328.33L447.65,328.32L447.9,328.31L448.15,328.3L448.4,328.28L448.65,328.25L448.9,328.21L449.15,328.16L449.4,328.09L449.65,328L449.9,327.88L450.15,327.73L450.4,327.53L450.65,327.28L450.9,326.97L451.15,326.57L451.4,326.09L451.65,325.49L451.9,324.77L452.15,323.9L452.4,322.86L452.65,321.64L452.9,320.22L453.15,318.57L453.4,316.69L453.65,314.56L453.9,312.17L454.15,309.53L454.4,306.64L454.65,303.51L454.9,300.16L455.15,296.62L455.4,292.93L455.65,289.14L455.9,285.31L456.15,281.48L456.4,277.74L456.65,274.14L456.9,270.77L457.15,267.7L457.4,264.98L457.65,262.69L457.9,260.87L458.15,259.58L458.4,258.83L458.65,258.66L458.9,258.86L459.15,259.34L459.4,260.1L459.65,261.13L459.9,262.42L460.15,263.94L460.4,265.69L460.65,267.64L460.9,269.78L461.15,272.06L461.4,274.49L461.65,277.01L461.9,279.62L462.15,282.29L462.4,284.99L462.65,287.7L462.9,290.4L463.15,293.06L463.4,295.67L463.65,298.21L463.9,300.67L464.15,303.03L464.4,305.28L464.65,307.42L464.9,309.44L465.15,311.34L465.4,313.11L465.65,314.75L465.9,316.26L466.15,317.65L466.4,318.92L466.65,320.07L466.9,321.11L467.15,322.05L467.4,322.88L467.65,323.63L467.9,324.29L468.15,324.87L468.4,325.38L468.65,325.83L468.9,326.22L469.15,326.55L469.4,326.84L469.65,327.09L469.9,327.3L470.15,327.48L470.4,327.63L470.65,327.76L470.9,327.87L471.15,327.96L471.4,328.03L471.65,328.09L471.9,328.14L472.15,328.18L472.4,328.22L472.65,328.24L472.9,328.27L473.15,328.28L473.4,328.3L473.65,328.31L473.9,328.32L474.15,328.33L474.4,328.33L514.4,328.35L514.4,331.9Z" fill="rgba(192,48,84,0.66)" stroke="#82183c" stroke-width="1.2"/>
<path d="M436.4,331.9L436.4,328.35L449.65,328.33L449.9,328.32L450.15,328.28L450.4,328.2L450.65,328.05L450.9,327.79L451.15,327.35L451.4,326.62L451.65,325.51L451.9,323.86L452.15,321.57L452.4,318.55L452.65,314.78L452.9,310.36L453.15,305.51L453.4,300.58L453.65,296.02L453.9,292.32L454.15,289.89L454.4,289.05L454.65,289.72L454.9,291.66L455.15,294.67L455.4,298.48L455.65,302.75L455.9,307.15L456.15,311.39L456.4,315.23L456.65,318.55L456.9,321.28L457.15,323.41L457.4,325.02L457.65,326.18L457.9,326.99L458.15,327.52L458.4,327.86L458.65,328.07L458.9,328.2L459.15,328.27L459.4,328.31L459.65,328.33L459.9,328.34L514.4,328.35L514.4,331.9Z" fill="rgba(78,108,180,0.6)" stroke="#2e3c5e" stroke-width="1.1"/>
</g>
<rect x="438.4" y="255.65" width="74" height="73.7" fill="none" stroke="#000" stroke-width="1.3"/>
<path d="M435.2,328.9H438.4M436.8,318.2H438.4M435.2,307.5H438.4M436.8,296.8H438.4M435.2,286.1H438.4M436.8,275.4H438.4M435.2,264.7H438.4" stroke="#000" stroke-width="0.9" fill="none"/>
<text class="t" x="432.3" y="331.3" font-size="8.3" text-anchor="end" fill="#2a2a2a" font-weight="normal" >0</text>
<text class="t" x="432.3" y="309.9" font-size="8.3" text-anchor="end" fill="#2a2a2a" font-weight="normal" >2.0K</text>
<text class="t" x="432.3" y="288.5" font-size="8.3" text-anchor="end" fill="#2a2a2a" font-weight="normal" >4.0K</text>
<text class="t" x="432.3" y="267.1" font-size="8.3" text-anchor="end" fill="#2a2a2a" font-weight="normal" >6.0K</text>
<path d="M442.2,329.35V331.95M446.2,329.35V331.95M450.2,329.35V331.95M453.2,329.35V331.95M455.7,329.35V332.55M460.2,329.35V331.95M464.2,329.35V331.95M467.2,329.35V331.95M469.5,329.35V331.95M471.9,329.35V332.35M476.87,329.35V331.75M479.77,329.35V331.75M481.83,329.35V331.75M483.43,329.35V331.75M484.74,329.35V331.75M485.84,329.35V331.75M486.8,329.35V331.75M487.65,329.35V331.75M488.4,329.35V332.95M493.37,329.35V331.75M496.27,329.35V331.75M498.33,329.35V331.75M499.93,329.35V331.75M501.24,329.35V331.75M502.34,329.35V331.75M503.3,329.35V331.75M504.15,329.35V331.75M504.9,329.35V332.35M509.87,329.35V331.75" stroke="#000" stroke-width="1.05" fill="none"/>
<rect x="454" y="329.35" width="3.4" height="3.6" fill="#000"/>
<text class="t" x="455.7" y="343.65" font-size="8" text-anchor="middle" fill="#2a2a2a" font-weight="normal" >0</text>
<text class="t" x="481.7" y="343.65" font-size="8.2" fill="#2a2a2a">10<tspan font-size="5.9" dy="-3.5">4</tspan></text>
<text class="t" x="478.8" y="266.5" font-size="7.8" text-anchor="start" fill="#2a2a2a" font-weight="normal" >RFI=4.7</text>
<text transform="translate(410.9,292.5) rotate(-90)" font-size="10.3" font-weight="bold" text-anchor="middle" fill="#2a2a2a" stroke="#2a2a2a" stroke-width="0.2" textLength="17.3" lengthAdjust="spacingAndGlyphs">Count</text>
<text x="475.5" y="357.85" font-size="10.0" font-weight="bold" text-anchor="middle" fill="#2a2a2a" stroke="#2a2a2a" stroke-width="0.2" textLength="20.3" lengthAdjust="spacingAndGlyphs">PD-L2</text>
<clipPath id="c9"><rect x="180.5" y="376.3" width="74" height="73.7"/></clipPath>
<g clip-path="url(#c9)">
<path d="M178.5,452.8L178.5,449.25L196.25,449.25L196.5,449.2L196.75,448.87L197,447.49L197.25,444.13L197.5,439.37L197.75,435.19L198,432.56L198.25,431.06L198.5,430.17L198.75,429.61L199,429.23L199.25,428.95L199.5,428.73L199.75,428.59L200,428.53L200.25,428.56L200.5,428.7L200.75,428.94L201,429.25L201.25,429.61L201.5,429.99L201.75,430.37L202,430.74L202.25,431.1L202.5,431.46L202.75,431.82L203,432.2L203.25,432.59L203.5,432.98L203.75,433.37L204,433.75L204.25,434.13L204.5,434.49L204.75,434.85L205,435.18L205.25,435.5L205.5,435.81L205.75,436.11L206,436.4L206.25,436.69L206.5,436.97L206.75,437.24L207,437.5L207.25,437.76L207.5,438.01L207.75,438.26L208,438.49L208.25,438.72L208.5,438.94L208.75,439.15L209,439.36L209.25,439.55L209.5,439.74L209.75,439.92L210,440.1L210.25,440.27L210.5,440.44L210.75,440.62L211,440.79L211.25,440.97L211.5,441.15L211.75,441.34L212,441.54L212.25,441.74L212.5,441.95L212.75,442.17L213,442.39L213.25,442.61L213.5,442.83L213.75,443.05L214,443.26L214.25,443.47L214.5,443.67L214.75,443.86L215,444.04L215.25,444.21L215.5,444.38L215.75,444.54L216,444.69L216.25,444.84L216.5,444.98L216.75,445.13L217,445.27L217.25,445.4L217.5,445.54L217.75,445.68L218,445.82L218.25,445.96L218.5,446.1L218.75,446.24L219,446.38L219.25,446.52L219.5,446.67L219.75,446.81L220,446.96L220.25,447.1L220.5,447.24L220.75,447.37L221,447.5L221.25,447.63L221.5,447.75L221.75,447.87L222,447.98L222.25,448.1L222.5,448.21L222.75,448.32L223,448.42L223.25,448.53L223.5,448.62L223.75,448.71L224,448.8L224.25,448.88L224.5,448.95L224.75,449.01L225,449.07L225.25,449.12L225.5,449.17L225.75,449.21L226,449.23L256.5,449.25L256.5,452.8Z" fill="rgba(192,48,84,0.66)" stroke="#82183c" stroke-width="1.2"/>
<path d="M178.5,452.8L178.5,449.25L195,449.24L195.25,449.22L195.5,449.14L195.75,448.91L196,448.29L196.25,446.85L196.5,443.84L196.75,438.36L197,429.62L197.25,417.6L197.5,403.58L197.75,390.28L198,381.12L198.25,378.81L198.5,384.08L198.75,395.3L199,409.28L199.25,422.75L199.5,433.53L199.75,440.91L200,445.29L200.25,447.57L200.5,448.61L200.75,449.03L201,449.18L201.25,449.23L256.5,449.25L256.5,452.8Z" fill="rgba(78,108,180,0.6)" stroke="#2e3c5e" stroke-width="1.1"/>
</g>
<rect x="180.5" y="376.3" width="74" height="73.7" fill="none" stroke="#000" stroke-width="1.3"/>
<path d="M177.3,449.8H180.5M178.9,445.61H180.5M178.9,441.42H180.5M178.9,437.23H180.5M178.9,433.04H180.5M177.3,428.85H180.5M178.9,424.66H180.5M178.9,420.47H180.5M178.9,416.28H180.5M178.9,412.09H180.5M177.3,407.9H180.5M178.9,403.71H180.5M178.9,399.52H180.5M178.9,395.33H180.5M178.9,391.14H180.5M177.3,386.95H180.5M178.9,382.76H180.5M178.9,378.57H180.5" stroke="#000" stroke-width="0.9" fill="none"/>
<text class="t" x="174.4" y="452.2" font-size="8.3" text-anchor="end" fill="#2a2a2a" font-weight="normal" >0</text>
<text class="t" x="174.4" y="431.25" font-size="8.3" text-anchor="end" fill="#2a2a2a" font-weight="normal" >5.0K</text>
<text class="t" x="174.4" y="410.3" font-size="8.3" text-anchor="end" fill="#2a2a2a" font-weight="normal" >10K</text>
<text class="t" x="174.4" y="389.35" font-size="8.3" text-anchor="end" fill="#2a2a2a" font-weight="normal" >15K</text>
<path d="M184.3,450V452.6M188.3,450V452.6M192.3,450V452.6M195.3,450V452.6M197.8,450V453.2M202.3,450V452.6M206.3,450V452.6M209.3,450V452.6M211.6,450V452.6M214,450V453M218.97,450V452.4M221.87,450V452.4M223.93,450V452.4M225.53,450V452.4M226.84,450V452.4M227.94,450V452.4M228.9,450V452.4M229.75,450V452.4M230.5,450V453.6M235.47,450V452.4M238.37,450V452.4M240.43,450V452.4M242.03,450V452.4M243.34,450V452.4M244.44,450V452.4M245.4,450V452.4M246.25,450V452.4M247,450V453M251.97,450V452.4" stroke="#000" stroke-width="1.05" fill="none"/>
<rect x="196.1" y="450" width="3.4" height="3.6" fill="#000"/>
<text class="t" x="197.8" y="464.3" font-size="8" text-anchor="middle" fill="#2a2a2a" font-weight="normal" >0</text>
<text class="t" x="223.8" y="464.3" font-size="8.2" fill="#2a2a2a">10<tspan font-size="5.9" dy="-3.5">4</tspan></text>
<text class="t" x="215" y="388.1" font-size="7.8" text-anchor="start" fill="#2a2a2a" font-weight="normal" >RFI=12.6</text>
<text transform="translate(153,413.15) rotate(-90)" font-size="10.3" font-weight="bold" text-anchor="middle" fill="#2a2a2a" stroke="#2a2a2a" stroke-width="0.2" textLength="17.3" lengthAdjust="spacingAndGlyphs">Count</text>
<text x="217.6" y="478.5" font-size="10.0" font-weight="bold" text-anchor="middle" fill="#2a2a2a" stroke="#2a2a2a" stroke-width="0.2" textLength="17" lengthAdjust="spacingAndGlyphs">MICA</text>
<clipPath id="c10"><rect x="309.5" y="376.3" width="74" height="73.7"/></clipPath>
<g clip-path="url(#c10)">
<path d="M307.5,452.8L307.5,449.25L320.75,449.24L321,449.23L321.25,449.22L321.5,449.2L321.75,449.18L322,449.14L322.25,449.09L322.5,449.02L322.75,448.91L323,448.76L323.25,448.55L323.5,448.26L323.75,447.86L324,447.32L324.25,446.6L324.5,445.67L324.75,444.47L325,442.95L325.25,441.06L325.5,438.77L325.75,436.02L326,432.79L326.25,429.08L326.5,424.92L326.75,420.34L327,415.42L327.25,410.27L327.5,405.03L327.75,399.87L328,394.95L328.25,390.45L328.5,386.56L328.75,383.41L329,381.15L329.25,379.84L329.5,379.27L329.75,379.32L330,380L330.25,381.28L330.5,383.13L330.75,385.4L331,387.96L331.25,390.73L331.5,393.66L331.75,396.69L332,399.75L332.25,402.8L332.5,405.79L332.75,408.67L333,411.43L333.25,414.02L333.5,416.44L333.75,418.68L334,420.74L334.25,422.61L334.5,424.3L334.75,425.83L335,427.2L335.25,428.44L335.5,429.55L335.75,430.55L336,431.46L336.25,432.28L336.5,433.04L336.75,433.74L337,434.4L337.25,435.02L337.5,435.6L337.75,436.16L338,436.7L338.25,437.21L338.5,437.72L338.75,438.21L339,438.68L339.25,439.15L339.5,439.6L339.75,440.05L340,440.48L340.25,440.9L340.5,441.32L340.75,441.72L341,442.11L341.25,442.48L341.5,442.85L341.75,443.2L342,443.54L342.25,443.87L342.5,444.19L342.75,444.49L343,444.78L343.25,445.06L343.5,445.33L343.75,445.58L344,445.82L344.25,446.05L344.5,446.27L344.75,446.48L345,446.68L345.25,446.86L345.5,447.04L345.75,447.2L346,447.35L346.25,447.5L346.5,447.64L346.75,447.76L347,447.88L347.25,447.99L347.5,448.1L347.75,448.19L348,448.28L348.25,448.37L348.5,448.44L348.75,448.51L349,448.58L349.25,448.64L349.5,448.7L349.75,448.75L350,448.8L350.25,448.84L350.5,448.88L350.75,448.91L351,448.95L351.25,448.98L351.5,449.01L351.75,449.03L352,449.05L352.25,449.07L352.5,449.09L352.75,449.11L353,449.12L353.25,449.14L353.5,449.15L353.75,449.16L354,449.17L354.25,449.18L354.5,449.19L354.75,449.2L355,449.2L355.25,449.21L355.5,449.21L355.75,449.22L356,449.22L356.25,449.22L356.5,449.23L356.75,449.23L385.5,449.25L385.5,452.8Z" fill="rgba(192,48,84,0.66)" stroke="#82183c" stroke-width="1.2"/>
<path d="M307.5,452.8L307.5,449.25L320.75,449.24L321,449.22L321.25,449.19L321.5,449.14L321.75,449.04L322,448.88L322.25,448.62L322.5,448.2L322.75,447.55L323,446.58L323.25,445.19L323.5,443.28L323.75,440.75L324,437.52L324.25,433.57L324.5,428.94L324.75,423.78L325,418.32L325.25,412.85L325.5,407.77L325.75,403.46L326,400.29L326.25,398.54L326.5,398.3L326.75,398.89L327,400.11L327.25,401.92L327.5,404.24L327.75,407L328,410.1L328.25,413.44L328.5,416.91L328.75,420.42L329,423.88L329.25,427.21L329.5,430.35L329.75,433.25L330,435.88L330.25,438.22L330.5,440.27L330.75,442.03L331,443.52L331.25,444.76L331.5,445.78L331.75,446.6L332,447.25L332.25,447.76L332.5,448.16L332.75,448.46L333,448.68L333.25,448.85L333.5,448.97L333.75,449.06L334,449.12L334.25,449.16L334.5,449.19L334.75,449.21L335,449.23L335.25,449.23L385.5,449.25L385.5,452.8Z" fill="rgba(78,108,180,0.6)" stroke="#2e3c5e" stroke-width="1.1"/>
</g>
<rect x="309.5" y="376.3" width="74" height="73.7" fill="none" stroke="#000" stroke-width="1.3"/>
<path d="M306.3,449.8H309.5M307.9,440.7H309.5M306.3,431.6H309.5M307.9,422.5H309.5M306.3,413.4H309.5M307.9,404.3H309.5M306.3,395.2H309.5M307.9,386.1H309.5M306.3,377H309.5" stroke="#000" stroke-width="0.9" fill="none"/>
<text class="t" x="303.4" y="452.2" font-size="8.3" text-anchor="end" fill="#2a2a2a" font-weight="normal" >0</text>
<text class="t" x="303.4" y="434" font-size="8.3" text-anchor="end" fill="#2a2a2a" font-weight="normal" >2.0K</text>
<text class="t" x="303.4" y="415.8" font-size="8.3" text-anchor="end" fill="#2a2a2a" font-weight="normal" >4.0K</text>
<text class="t" x="303.4" y="397.6" font-size="8.3" text-anchor="end" fill="#2a2a2a" font-weight="normal" >6.0K</text>
<text class="t" x="303.4" y="379.4" font-size="8.3" text-anchor="end" fill="#2a2a2a" font-weight="normal" >8.0K</text>
<path d="M313.3,450V452.6M317.3,450V452.6M321.3,450V452.6M324.3,450V452.6M326.8,450V453.2M331.3,450V452.6M335.3,450V452.6M338.3,450V452.6M340.6,450V452.6M343,450V453M347.97,450V452.4M350.87,450V452.4M352.93,450V452.4M354.53,450V452.4M355.84,450V452.4M356.94,450V452.4M357.9,450V452.4M358.75,450V452.4M359.5,450V453.6M364.47,450V452.4M367.37,450V452.4M369.43,450V452.4M371.03,450V452.4M372.34,450V452.4M373.44,450V452.4M374.4,450V452.4M375.25,450V452.4M376,450V453M380.97,450V452.4" stroke="#000" stroke-width="1.05" fill="none"/>
<rect x="325.1" y="450" width="3.4" height="3.6" fill="#000"/>
<text class="t" x="326.8" y="464.3" font-size="8" text-anchor="middle" fill="#2a2a2a" font-weight="normal" >0</text>
<text class="t" x="352.8" y="464.3" font-size="8.2" fill="#2a2a2a">10<tspan font-size="5.9" dy="-3.5">4</tspan></text>
<text class="t" x="343" y="388.1" font-size="7.8" text-anchor="start" fill="#2a2a2a" font-weight="normal" >RFI=4.3</text>
<text transform="translate(282,413.15) rotate(-90)" font-size="10.3" font-weight="bold" text-anchor="middle" fill="#2a2a2a" stroke="#2a2a2a" stroke-width="0.2" textLength="17.3" lengthAdjust="spacingAndGlyphs">Count</text>
<text x="346.6" y="478.5" font-size="10.0" font-weight="bold" text-anchor="middle" fill="#2a2a2a" stroke="#2a2a2a" stroke-width="0.2" textLength="16.9" lengthAdjust="spacingAndGlyphs">MICB</text>
<clipPath id="c11"><rect x="438.4" y="376.3" width="74" height="73.7"/></clipPath>
<g clip-path="url(#c11)">
<path d="M436.4,452.8L436.4,449.25L450.4,449.23L450.65,449.23L450.9,449.22L451.15,449.2L451.4,449.18L451.65,449.16L451.9,449.12L452.15,449.08L452.4,449.02L452.65,448.94L452.9,448.84L453.15,448.71L453.4,448.54L453.65,448.33L453.9,448.06L454.15,447.73L454.4,447.32L454.65,446.82L454.9,446.21L455.15,445.49L455.4,444.62L455.65,443.59L455.9,442.4L456.15,441.01L456.4,439.41L456.65,437.6L456.9,435.56L457.15,433.29L457.4,430.78L457.65,428.03L457.9,425.07L458.15,421.9L458.4,418.54L458.65,415.04L458.9,411.43L459.15,407.75L459.4,404.06L459.65,400.41L459.9,396.87L460.15,393.49L460.4,390.34L460.65,387.48L460.9,384.96L461.15,382.85L461.4,381.17L461.65,379.98L461.9,379.4L462.15,379.47L462.4,380.19L462.65,381.5L462.9,383.18L463.15,385.16L463.4,387.39L463.65,389.81L463.9,392.34L464.15,394.94L464.4,397.55L464.65,400.13L464.9,402.65L465.15,405.08L465.4,407.41L465.65,409.61L465.9,411.7L466.15,413.67L466.4,415.53L466.65,417.28L466.9,418.94L467.15,420.52L467.4,422.02L467.65,423.46L467.9,424.84L468.15,426.17L468.4,427.46L468.65,428.7L468.9,429.9L469.15,431.07L469.4,432.19L469.65,433.28L469.9,434.33L470.15,435.34L470.4,436.31L470.65,437.24L470.9,438.13L471.15,438.97L471.4,439.77L471.65,440.53L471.9,441.25L472.15,441.92L472.4,442.56L472.65,443.15L472.9,443.7L473.15,444.22L473.4,444.69L473.65,445.13L473.9,445.54L474.15,445.92L474.4,446.26L474.65,446.58L474.9,446.86L475.15,447.12L475.4,447.36L475.65,447.57L475.9,447.77L476.15,447.94L476.4,448.1L476.65,448.24L476.9,448.36L477.15,448.48L477.4,448.57L477.65,448.66L477.9,448.74L478.15,448.81L478.4,448.87L478.65,448.92L478.9,448.97L479.15,449.01L479.4,449.04L479.65,449.07L479.9,449.1L480.15,449.12L480.4,449.14L480.65,449.16L480.9,449.17L481.15,449.18L481.4,449.19L481.65,449.2L481.9,449.21L482.15,449.22L482.4,449.22L482.65,449.23L482.9,449.23L514.4,449.25L514.4,452.8Z" fill="rgba(192,48,84,0.66)" stroke="#82183c" stroke-width="1.2"/>
<path d="M436.4,452.8L436.4,449.25L452.15,449.23L452.4,449.22L452.65,449.2L452.9,449.17L453.15,449.13L453.4,449.06L453.65,448.96L453.9,448.82L454.15,448.62L454.4,448.35L454.65,447.98L454.9,447.49L455.15,446.85L455.4,446.03L455.65,445.01L455.9,443.76L456.15,442.26L456.4,440.51L456.65,438.5L456.9,436.26L457.15,433.82L457.4,431.24L457.65,428.58L457.9,425.93L458.15,423.39L458.4,421.05L458.65,419.02L458.9,417.37L459.15,416.19L459.4,415.52L459.65,415.39L459.9,415.79L460.15,416.68L460.4,418L460.65,419.68L460.9,421.62L461.15,423.71L461.4,425.87L461.65,427.98L461.9,429.99L462.15,431.81L462.4,433.42L462.65,434.79L462.9,435.92L463.15,436.81L463.4,437.5L463.65,438L463.9,438.37L464.15,438.63L464.4,438.83L464.65,439L464.9,439.18L465.15,439.38L465.4,439.64L465.65,439.98L465.9,440.4L466.15,440.89L466.4,441.45L466.65,442.05L466.9,442.69L467.15,443.35L467.4,444L467.65,444.65L467.9,445.26L468.15,445.84L468.4,446.37L468.65,446.85L468.9,447.28L469.15,447.65L469.4,447.96L469.65,448.23L469.9,448.45L470.15,448.64L470.4,448.78L470.65,448.9L470.9,448.99L471.15,449.06L471.4,449.11L471.65,449.15L471.9,449.18L472.15,449.2L472.4,449.22L472.65,449.23L472.9,449.23L514.4,449.25L514.4,452.8Z" fill="rgba(78,108,180,0.6)" stroke="#2e3c5e" stroke-width="1.1"/>
</g>
<rect x="438.4" y="376.3" width="74" height="73.7" fill="none" stroke="#000" stroke-width="1.3"/>
<path d="M435.2,449.8H438.4M436.8,440.17H438.4M435.2,430.54H438.4M436.8,420.91H438.4M435.2,411.28H438.4M436.8,401.65H438.4M435.2,392.02H438.4M436.8,382.39H438.4" stroke="#000" stroke-width="0.9" fill="none"/>
<text class="t" x="432.3" y="452.2" font-size="8.3" text-anchor="end" fill="#2a2a2a" font-weight="normal" >0</text>
<text class="t" x="432.3" y="432.94" font-size="8.3" text-anchor="end" fill="#2a2a2a" font-weight="normal" >2.0K</text>
<text class="t" x="432.3" y="413.68" font-size="8.3" text-anchor="end" fill="#2a2a2a" font-weight="normal" >4.0K</text>
<text class="t" x="432.3" y="394.42" font-size="8.3" text-anchor="end" fill="#2a2a2a" font-weight="normal" >6.0K</text>
<path d="M442.2,450V452.6M446.2,450V452.6M450.2,450V452.6M453.2,450V452.6M455.7,450V453.2M460.2,450V452.6M464.2,450V452.6M467.2,450V452.6M469.5,450V452.6M471.9,450V453M476.87,450V452.4M479.77,450V452.4M481.83,450V452.4M483.43,450V452.4M484.74,450V452.4M485.84,450V452.4M486.8,450V452.4M487.65,450V452.4M488.4,450V453.6M493.37,450V452.4M496.27,450V452.4M498.33,450V452.4M499.93,450V452.4M501.24,450V452.4M502.34,450V452.4M503.3,450V452.4M504.15,450V452.4M504.9,450V453M509.87,450V452.4" stroke="#000" stroke-width="1.05" fill="none"/>
<rect x="454" y="450" width="3.4" height="3.6" fill="#000"/>
<text class="t" x="455.7" y="464.3" font-size="8" text-anchor="middle" fill="#2a2a2a" font-weight="normal" >0</text>
<text class="t" x="481.7" y="464.3" font-size="8.2" fill="#2a2a2a">10<tspan font-size="5.9" dy="-3.5">4</tspan></text>
<text class="t" x="474.2" y="387.4" font-size="7.8" text-anchor="start" fill="#2a2a2a" font-weight="normal" >RFI=1.5</text>
<text transform="translate(410.9,413.15) rotate(-90)" font-size="10.3" font-weight="bold" text-anchor="middle" fill="#2a2a2a" stroke="#2a2a2a" stroke-width="0.2" textLength="17.3" lengthAdjust="spacingAndGlyphs">Count</text>
<text x="475.5" y="478.5" font-size="10.0" font-weight="bold" text-anchor="middle" fill="#2a2a2a" stroke="#2a2a2a" stroke-width="0.2" textLength="20.3" lengthAdjust="spacingAndGlyphs">CD155</text>
<clipPath id="c12"><rect x="180.5" y="493.45" width="74" height="73.7"/></clipPath>
<g clip-path="url(#c12)">
<path d="M178.5,569.9L178.5,566.35L197.25,566.34L197.5,566.33L197.75,566.28L198,566.16L198.25,565.86L198.5,565.28L198.75,564.49L199,563.77L199.25,563.25L199.5,562.88L199.75,562.57L200,562.3L200.25,562.03L200.5,561.76L200.75,561.49L201,561.22L201.25,560.95L201.5,560.67L201.75,560.4L202,560.13L202.25,559.87L202.5,559.61L202.75,559.36L203,559.11L203.25,558.88L203.5,558.66L203.75,558.45L204,558.25L204.25,558.08L204.5,557.91L204.75,557.77L205,557.65L205.25,557.55L205.5,557.46L205.75,557.4L206,557.37L206.25,557.35L206.5,557.35L206.75,557.36L207,557.37L207.25,557.38L207.5,557.4L207.75,557.43L208,557.46L208.25,557.49L208.5,557.53L208.75,557.57L209,557.62L209.25,557.67L209.5,557.72L209.75,557.78L210,557.84L210.25,557.91L210.5,557.98L210.75,558.06L211,558.14L211.25,558.22L211.5,558.3L211.75,558.39L212,558.48L212.25,558.57L212.5,558.67L212.75,558.77L213,558.87L213.25,558.98L213.5,559.09L213.75,559.19L214,559.31L214.25,559.42L214.5,559.53L214.75,559.65L215,559.77L215.25,559.89L215.5,560.01L215.75,560.13L216,560.25L216.25,560.37L216.5,560.49L216.75,560.62L217,560.74L217.25,560.87L217.5,560.99L217.75,561.11L218,561.24L218.25,561.36L218.5,561.48L218.75,561.61L219,561.73L219.25,561.85L219.5,561.97L219.75,562.09L220,562.21L220.25,562.32L220.5,562.44L220.75,562.55L221,562.66L221.25,562.78L221.5,562.89L221.75,562.99L222,563.1L222.25,563.2L222.5,563.31L222.75,563.41L223,563.51L223.25,563.6L223.5,563.7L223.75,563.79L224,563.88L224.25,563.97L224.5,564.06L224.75,564.15L225,564.23L225.25,564.31L225.5,564.39L225.75,564.46L226,564.54L226.25,564.61L226.5,564.68L226.75,564.75L227,564.82L227.25,564.88L227.5,564.95L227.75,565.01L228,565.06L228.25,565.12L228.5,565.18L228.75,565.23L229,565.28L229.25,565.33L229.5,565.38L229.75,565.42L230,565.47L230.25,565.51L230.5,565.55L230.75,565.59L231,565.63L231.25,565.66L231.5,565.7L231.75,565.73L232,565.76L232.25,565.79L232.5,565.82L232.75,565.85L233,565.88L233.25,565.9L233.5,565.93L233.75,565.95L234,565.97L234.25,565.99L234.5,566.01L234.75,566.03L235,566.05L235.25,566.07L235.5,566.08L235.75,566.1L236,566.11L236.25,566.13L236.5,566.14L236.75,566.15L237,566.17L237.25,566.18L237.5,566.19L237.75,566.2L238,566.21L238.25,566.22L238.5,566.23L238.75,566.23L239,566.24L239.25,566.25L239.5,566.26L239.75,566.26L240,566.27L240.25,566.27L240.5,566.28L240.75,566.28L241,566.29L241.25,566.29L241.5,566.3L241.75,566.3L242,566.3L242.25,566.31L242.5,566.31L242.75,566.31L243,566.32L243.25,566.32L243.5,566.32L243.75,566.32L244,566.32L244.25,566.33L244.5,566.33L244.75,566.33L245,566.33L256.5,566.35L256.5,569.9Z" fill="rgba(192,48,84,0.66)" stroke="#82183c" stroke-width="1.2"/>
<path d="M178.5,569.9L178.5,566.35L195.25,566.34L195.5,566.31L195.75,566.2L196,565.84L196.25,564.89L196.5,562.65L196.75,558.09L197,550.11L197.25,538.24L197.5,523.53L197.75,508.93L198,498.57L198.25,495.93L198.5,501.94L198.75,514.5L199,529.61L199.25,543.43L199.5,553.76L199.75,560.27L200,563.76L200.25,565.38L200.5,566.03L200.75,566.26L201,566.33L201.25,566.34L256.5,566.35L256.5,569.9Z" fill="rgba(78,108,180,0.6)" stroke="#2e3c5e" stroke-width="1.1"/>
</g>
<rect x="180.5" y="493.45" width="74" height="73.7" fill="none" stroke="#000" stroke-width="1.3"/>
<path d="M177.3,566.9H180.5M178.9,562.71H180.5M178.9,558.52H180.5M178.9,554.33H180.5M178.9,550.14H180.5M177.3,545.95H180.5M178.9,541.76H180.5M178.9,537.57H180.5M178.9,533.38H180.5M178.9,529.19H180.5M177.3,525H180.5M178.9,520.81H180.5M178.9,516.62H180.5M178.9,512.43H180.5M178.9,508.24H180.5M177.3,504.05H180.5M178.9,499.86H180.5M178.9,495.67H180.5" stroke="#000" stroke-width="0.9" fill="none"/>
<text class="t" x="174.4" y="569.3" font-size="8.3" text-anchor="end" fill="#2a2a2a" font-weight="normal" >0</text>
<text class="t" x="174.4" y="548.35" font-size="8.3" text-anchor="end" fill="#2a2a2a" font-weight="normal" >5.0K</text>
<text class="t" x="174.4" y="527.4" font-size="8.3" text-anchor="end" fill="#2a2a2a" font-weight="normal" >10K</text>
<text class="t" x="174.4" y="506.45" font-size="8.3" text-anchor="end" fill="#2a2a2a" font-weight="normal" >15K</text>
<path d="M184.3,567.15V569.75M188.3,567.15V569.75M192.3,567.15V569.75M195.3,567.15V569.75M197.8,567.15V570.35M202.3,567.15V569.75M206.3,567.15V569.75M209.3,567.15V569.75M211.6,567.15V569.75M214,567.15V570.15M218.97,567.15V569.55M221.87,567.15V569.55M223.93,567.15V569.55M225.53,567.15V569.55M226.84,567.15V569.55M227.94,567.15V569.55M228.9,567.15V569.55M229.75,567.15V569.55M230.5,567.15V570.75M235.47,567.15V569.55M238.37,567.15V569.55M240.43,567.15V569.55M242.03,567.15V569.55M243.34,567.15V569.55M244.44,567.15V569.55M245.4,567.15V569.55M246.25,567.15V569.55M247,567.15V570.15M251.97,567.15V569.55" stroke="#000" stroke-width="1.05" fill="none"/>
<rect x="196.1" y="567.15" width="3.4" height="3.6" fill="#000"/>
<text class="t" x="197.8" y="581.45" font-size="8" text-anchor="middle" fill="#2a2a2a" font-weight="normal" >0</text>
<text class="t" x="223.8" y="581.45" font-size="8.2" fill="#2a2a2a">10<tspan font-size="5.9" dy="-3.5">4</tspan></text>
<text class="t" x="215" y="505.1" font-size="7.8" text-anchor="start" fill="#2a2a2a" font-weight="normal" >RFI=20.6</text>
<text transform="translate(153,530.3) rotate(-90)" font-size="10.3" font-weight="bold" text-anchor="middle" fill="#2a2a2a" stroke="#2a2a2a" stroke-width="0.2" textLength="17.3" lengthAdjust="spacingAndGlyphs">Count</text>
<text x="217.6" y="595.65" font-size="10.0" font-weight="bold" text-anchor="middle" fill="#2a2a2a" stroke="#2a2a2a" stroke-width="0.2" textLength="19.2" lengthAdjust="spacingAndGlyphs">CD112</text>
<clipPath id="c13"><rect x="309.5" y="493.45" width="74" height="73.7"/></clipPath>
<g clip-path="url(#c13)">
<path d="M307.5,569.9L307.5,566.35L326.25,566.34L326.5,566.31L326.75,566.24L327,566.06L327.25,565.76L327.5,565.38L327.75,565.07L328,564.85L328.25,564.7L328.5,564.57L328.75,564.45L329,564.34L329.25,564.22L329.5,564.09L329.75,563.97L330,563.84L330.25,563.71L330.5,563.57L330.75,563.43L331,563.28L331.25,563.13L331.5,562.98L331.75,562.82L332,562.67L332.25,562.5L332.5,562.34L332.75,562.17L333,562.01L333.25,561.84L333.5,561.67L333.75,561.5L334,561.32L334.25,561.15L334.5,560.98L334.75,560.81L335,560.64L335.25,560.47L335.5,560.3L335.75,560.14L336,559.98L336.25,559.82L336.5,559.66L336.75,559.51L337,559.37L337.25,559.23L337.5,559.09L337.75,558.96L338,558.84L338.25,558.72L338.5,558.61L338.75,558.51L339,558.42L339.25,558.33L339.5,558.25L339.75,558.18L340,558.12L340.25,558.07L340.5,558.03L340.75,557.99L341,557.97L341.25,557.95L341.5,557.95L341.75,557.96L342,557.98L342.25,558.02L342.5,558.08L342.75,558.16L343,558.25L343.25,558.35L343.5,558.47L343.75,558.6L344,558.75L344.25,558.9L344.5,559.07L344.75,559.25L345,559.44L345.25,559.64L345.5,559.84L345.75,560.05L346,560.27L346.25,560.49L346.5,560.71L346.75,560.94L347,561.16L347.25,561.39L347.5,561.62L347.75,561.84L348,562.07L348.25,562.29L348.5,562.5L348.75,562.72L349,562.92L349.25,563.13L349.5,563.32L349.75,563.51L350,563.7L350.25,563.87L350.5,564.04L350.75,564.2L351,564.36L351.25,564.5L351.5,564.64L351.75,564.78L352,564.9L352.25,565.02L352.5,565.13L352.75,565.23L353,565.33L353.25,565.42L353.5,565.5L353.75,565.58L354,565.65L354.25,565.72L354.5,565.78L354.75,565.84L355,565.89L355.25,565.94L355.5,565.98L355.75,566.02L356,566.06L356.25,566.09L356.5,566.12L356.75,566.14L357,566.17L357.25,566.19L357.5,566.21L357.75,566.23L358,566.24L358.25,566.25L358.5,566.27L358.75,566.28L359,566.29L359.25,566.29L359.5,566.3L359.75,566.31L360,566.31L360.25,566.32L360.5,566.32L360.75,566.33L361,566.33L385.5,566.35L385.5,569.9Z" fill="rgba(192,48,84,0.66)" stroke="#82183c" stroke-width="1.2"/>
<path d="M307.5,569.9L307.5,566.35L323.75,566.34L324,566.31L324.25,566.2L324.5,565.84L324.75,564.89L325,562.65L325.25,558.09L325.5,550.11L325.75,538.24L326,523.53L326.25,508.93L326.5,498.57L326.75,495.93L327,501.94L327.25,514.5L327.5,529.61L327.75,543.43L328,553.76L328.25,560.27L328.5,563.76L328.75,565.38L329,566.03L329.25,566.26L329.5,566.33L329.75,566.34L385.5,566.35L385.5,569.9Z" fill="rgba(78,108,180,0.6)" stroke="#2e3c5e" stroke-width="1.1"/>
</g>
<rect x="309.5" y="493.45" width="74" height="73.7" fill="none" stroke="#000" stroke-width="1.3"/>
<path d="M306.3,566.9H309.5M307.9,562.71H309.5M307.9,558.52H309.5M307.9,554.33H309.5M307.9,550.14H309.5M306.3,545.95H309.5M307.9,541.76H309.5M307.9,537.57H309.5M307.9,533.38H309.5M307.9,529.19H309.5M306.3,525H309.5M307.9,520.81H309.5M307.9,516.62H309.5M307.9,512.43H309.5M307.9,508.24H309.5M306.3,504.05H309.5M307.9,499.86H309.5M307.9,495.67H309.5" stroke="#000" stroke-width="0.9" fill="none"/>
<text class="t" x="303.4" y="569.3" font-size="8.3" text-anchor="end" fill="#2a2a2a" font-weight="normal" >0</text>
<text class="t" x="303.4" y="548.35" font-size="8.3" text-anchor="end" fill="#2a2a2a" font-weight="normal" >5.0K</text>
<text class="t" x="303.4" y="527.4" font-size="8.3" text-anchor="end" fill="#2a2a2a" font-weight="normal" >10K</text>
<text class="t" x="303.4" y="506.45" font-size="8.3" text-anchor="end" fill="#2a2a2a" font-weight="normal" >15K</text>
<path d="M313.3,567.15V569.75M317.3,567.15V569.75M321.3,567.15V569.75M324.3,567.15V569.75M326.8,567.15V570.35M331.3,567.15V569.75M335.3,567.15V569.75M338.3,567.15V569.75M340.6,567.15V569.75M343,567.15V570.15M347.97,567.15V569.55M350.87,567.15V569.55M352.93,567.15V569.55M354.53,567.15V569.55M355.84,567.15V569.55M356.94,567.15V569.55M357.9,567.15V569.55M358.75,567.15V569.55M359.5,567.15V570.75M364.47,567.15V569.55M367.37,567.15V569.55M369.43,567.15V569.55M371.03,567.15V569.55M372.34,567.15V569.55M373.44,567.15V569.55M374.4,567.15V569.55M375.25,567.15V569.55M376,567.15V570.15M380.97,567.15V569.55" stroke="#000" stroke-width="1.05" fill="none"/>
<rect x="325.1" y="567.15" width="3.4" height="3.6" fill="#000"/>
<text class="t" x="326.8" y="581.45" font-size="8" text-anchor="middle" fill="#2a2a2a" font-weight="normal" >0</text>
<text class="t" x="352.8" y="581.45" font-size="8.2" fill="#2a2a2a">10<tspan font-size="5.9" dy="-3.5">4</tspan></text>
<text class="t" x="344.2" y="505.1" font-size="7.8" text-anchor="start" fill="#2a2a2a" font-weight="normal" >RFI=21.9</text>
<text transform="translate(282,530.3) rotate(-90)" font-size="10.3" font-weight="bold" text-anchor="middle" fill="#2a2a2a" stroke="#2a2a2a" stroke-width="0.2" textLength="17.3" lengthAdjust="spacingAndGlyphs">Count</text>
<text x="346.6" y="595.65" font-size="10.0" font-weight="bold" text-anchor="middle" fill="#2a2a2a" stroke="#2a2a2a" stroke-width="0.2" textLength="21.5" lengthAdjust="spacingAndGlyphs">ULBP1</text>
<clipPath id="c14"><rect x="438.4" y="493.45" width="74" height="73.7"/></clipPath>
<g clip-path="url(#c14)">
<path d="M436.4,569.6L436.4,566.05L450.4,566.03L450.65,566.02L450.9,566.01L451.15,565.99L451.4,565.96L451.65,565.91L451.9,565.85L452.15,565.77L452.4,565.64L452.65,565.47L452.9,565.23L453.15,564.9L453.4,564.45L453.65,563.86L453.9,563.08L454.15,562.07L454.4,560.79L454.65,559.21L454.9,557.27L455.15,554.97L455.4,552.28L455.65,549.22L455.9,545.82L456.15,542.13L456.4,538.25L456.65,534.3L456.9,530.4L457.15,526.71L457.4,523.38L457.65,520.56L457.9,518.38L458.15,516.95L458.4,516.27L458.65,516.01L458.9,516.08L459.15,516.49L459.4,517.24L459.65,518.29L459.9,519.53L460.15,520.95L460.4,522.5L460.65,524.18L460.9,525.96L461.15,527.8L461.4,529.69L461.65,531.6L461.9,533.52L462.15,535.41L462.4,537.26L462.65,539.06L462.9,540.8L463.15,542.45L463.4,544.02L463.65,545.5L463.9,546.89L464.15,548.18L464.4,549.37L464.65,550.47L464.9,551.49L465.15,552.42L465.4,553.27L465.65,554.04L465.9,554.75L466.15,555.4L466.4,555.99L466.65,556.53L466.9,557.03L467.15,557.49L467.4,557.92L467.65,558.31L467.9,558.68L468.15,559.03L468.4,559.36L468.65,559.67L468.9,559.97L469.15,560.25L469.4,560.52L469.65,560.78L469.9,561.03L470.15,561.27L470.4,561.5L470.65,561.72L470.9,561.94L471.15,562.15L471.4,562.35L471.65,562.54L471.9,562.73L472.15,562.91L472.4,563.09L472.65,563.25L472.9,563.41L473.15,563.57L473.4,563.72L473.65,563.86L473.9,563.99L474.15,564.12L474.4,564.24L474.65,564.36L474.9,564.47L475.15,564.58L475.4,564.68L475.65,564.77L475.9,564.86L476.15,564.94L476.4,565.02L476.65,565.1L476.9,565.17L477.15,565.23L477.4,565.3L477.65,565.35L477.9,565.41L478.15,565.46L478.4,565.51L478.65,565.55L478.9,565.59L479.15,565.63L479.4,565.67L479.65,565.7L479.9,565.73L480.15,565.76L480.4,565.78L480.65,565.81L480.9,565.83L481.15,565.85L481.4,565.87L481.65,565.88L481.9,565.9L482.15,565.91L482.4,565.93L482.65,565.94L482.9,565.95L483.15,565.96L483.4,565.97L483.65,565.98L483.9,565.98L484.15,565.99L484.4,566L484.65,566L484.9,566.01L485.15,566.01L485.4,566.02L485.65,566.02L485.9,566.02L486.15,566.03L486.4,566.03L486.65,566.03L514.4,566.05L514.4,569.6Z" fill="rgba(192,48,84,0.66)" stroke="#82183c" stroke-width="1.2"/>
<path d="M436.4,569.6L436.4,566.05L447.9,566.03L448.15,566.02L448.4,566.01L448.65,565.98L448.9,565.93L449.15,565.86L449.4,565.76L449.65,565.61L449.9,565.38L450.15,565.06L450.4,564.61L450.65,563.99L450.9,563.15L451.15,562.04L451.4,560.61L451.65,558.78L451.9,556.51L452.15,553.74L452.4,550.45L452.65,546.61L452.9,542.25L453.15,537.4L453.4,532.17L453.65,526.66L453.9,521.04L454.15,515.51L454.4,510.26L454.65,505.53L454.9,501.53L455.15,498.44L455.4,496.42L455.65,495.57L455.9,495.98L456.15,497.72L456.4,500.68L456.65,504.72L456.9,509.6L457.15,515.08L457.4,520.92L457.65,526.84L457.9,532.65L458.15,538.13L458.4,543.16L458.65,547.64L458.9,551.53L459.15,554.82L459.4,557.53L459.65,559.7L459.9,561.42L460.15,562.73L460.4,563.72L460.65,564.44L460.9,564.96L461.15,565.33L461.4,565.58L461.65,565.75L461.9,565.86L462.15,565.94L462.4,565.98L462.65,566.01L462.9,566.03L463.15,566.04L514.4,566.05L514.4,569.6Z" fill="rgba(78,108,180,0.6)" stroke="#2e3c5e" stroke-width="1.1"/>
</g>
<rect x="438.4" y="493.45" width="74" height="73.7" fill="none" stroke="#000" stroke-width="1.3"/>
<path d="M435.2,566.6H438.4M435.2,554.22H438.4M435.2,541.84H438.4M435.2,529.46H438.4M435.2,517.08H438.4M435.2,504.7H438.4" stroke="#000" stroke-width="0.9" fill="none"/>
<text class="t" x="432.3" y="569" font-size="8.3" text-anchor="end" fill="#2a2a2a" font-weight="normal" >0</text>
<text class="t" x="432.3" y="556.62" font-size="8.3" text-anchor="end" fill="#2a2a2a" font-weight="normal" >1.0K</text>
<text class="t" x="432.3" y="544.24" font-size="8.3" text-anchor="end" fill="#2a2a2a" font-weight="normal" >2.0K</text>
<text class="t" x="432.3" y="531.86" font-size="8.3" text-anchor="end" fill="#2a2a2a" font-weight="normal" >3.0K</text>
<text class="t" x="432.3" y="519.48" font-size="8.3" text-anchor="end" fill="#2a2a2a" font-weight="normal" >4.0K</text>
<text class="t" x="432.3" y="507.1" font-size="8.3" text-anchor="end" fill="#2a2a2a" font-weight="normal" >5.0K</text>
<path d="M442.2,567.15V569.75M446.2,567.15V569.75M450.2,567.15V569.75M453.2,567.15V569.75M455.7,567.15V570.35M460.2,567.15V569.75M464.2,567.15V569.75M467.2,567.15V569.75M469.5,567.15V569.75M471.9,567.15V570.15M476.87,567.15V569.55M479.77,567.15V569.55M481.83,567.15V569.55M483.43,567.15V569.55M484.74,567.15V569.55M485.84,567.15V569.55M486.8,567.15V569.55M487.65,567.15V569.55M488.4,567.15V570.75M493.37,567.15V569.55M496.27,567.15V569.55M498.33,567.15V569.55M499.93,567.15V569.55M501.24,567.15V569.55M502.34,567.15V569.55M503.3,567.15V569.55M504.15,567.15V569.55M504.9,567.15V570.15M509.87,567.15V569.55" stroke="#000" stroke-width="1.05" fill="none"/>
<rect x="454" y="567.15" width="3.4" height="3.6" fill="#000"/>
<text class="t" x="455.7" y="581.45" font-size="8" text-anchor="middle" fill="#2a2a2a" font-weight="normal" >0</text>
<text class="t" x="481.7" y="581.45" font-size="8.2" fill="#2a2a2a">10<tspan font-size="5.9" dy="-3.5">4</tspan></text>
<text class="t" x="474.2" y="504.4" font-size="7.8" text-anchor="start" fill="#2a2a2a" font-weight="normal" >RFI=5.5</text>
<text transform="translate(410.9,530.3) rotate(-90)" font-size="10.3" font-weight="bold" text-anchor="middle" fill="#2a2a2a" stroke="#2a2a2a" stroke-width="0.2" textLength="17.3" lengthAdjust="spacingAndGlyphs">Count</text>
<text x="475.5" y="595.65" font-size="10.0" font-weight="bold" text-anchor="middle" fill="#2a2a2a" stroke="#2a2a2a" stroke-width="0.2" textLength="35.8" lengthAdjust="spacingAndGlyphs">ULBP2/5/6</text>
<clipPath id="c15"><rect x="180.5" y="610.45" width="74" height="73.7"/></clipPath>
<g clip-path="url(#c15)">
<path d="M178.5,687L178.5,683.45L214,683.45L214.25,683.43L214.5,683.36L214.75,683.23L215,683.03L215.25,682.81L215.5,682.57L215.75,682.32L216,682.05L216.25,681.77L216.5,681.48L216.75,681.18L217,680.87L217.25,680.54L217.5,680.21L217.75,679.87L218,679.52L218.25,679.16L218.5,678.79L218.75,678.42L219,678.04L219.25,677.66L219.5,677.27L219.75,676.86L220,676.45L220.25,676.01L220.5,675.56L220.75,675.08L221,674.58L221.25,674.06L221.5,673.5L221.75,672.91L222,672.28L222.25,671.62L222.5,670.9L222.75,670.11L223,669.24L223.25,668.27L223.5,667.19L223.75,666.02L224,664.76L224.25,663.41L224.5,661.97L224.75,660.46L225,658.87L225.25,657.17L225.5,655.31L225.75,653.2L226,650.81L226.25,648.21L226.5,645.48L226.75,642.72L227,640.02L227.25,637.48L227.5,635.16L227.75,633.03L228,631.04L228.25,629.15L228.5,627.35L228.75,625.67L229,624.13L229.25,622.75L229.5,621.51L229.75,620.38L230,619.34L230.25,618.42L230.5,617.72L230.75,617.32L231,617.3L231.25,617.67L231.5,618.39L231.75,619.37L232,620.55L232.25,621.93L232.5,623.57L232.75,625.53L233,627.79L233.25,630.35L233.5,633.23L233.75,636.4L234,639.77L234.25,643.21L234.5,646.63L234.75,649.96L235,653.23L235.25,656.5L235.5,659.73L235.75,662.84L236,665.72L236.25,668.25L236.5,670.42L236.75,672.29L237,673.96L237.25,675.5L237.5,676.91L237.75,678.19L238,679.31L238.25,680.26L238.5,681.05L238.75,681.69L239,682.21L239.25,682.66L239.5,683.01L239.75,683.25L240,683.38L240.25,683.44L256.5,683.45L256.5,687Z" fill="rgba(192,48,84,0.66)" stroke="#82183c" stroke-width="1.2"/>
<path d="M178.5,687L178.5,683.45L195.75,683.44L196,683.38L196.25,683.17L196.5,682.65L196.75,681.74L197,680.46L197.25,678.84L197.5,676.97L197.75,674.88L198,672.49L198.25,669.64L198.5,666.19L198.75,662.21L199,657.86L199.25,653.27L199.5,648.43L199.75,643.33L200,638.16L200.25,633.29L200.5,629.01L200.75,625.27L201,621.91L201.25,618.85L201.5,616.23L201.75,614.24L202,613.1L202.25,613.09L202.5,614.4L202.75,616.98L203,620.48L203.25,624.47L203.5,628.69L203.75,633.1L204,637.69L204.25,642.32L204.5,646.85L204.75,651.23L205,655.26L205.25,658.62L205.5,661.1L205.75,662.8L206,664.01L206.25,664.95L206.5,665.72L206.75,666.39L207,666.99L207.25,667.54L207.5,668.04L207.75,668.5L208,668.91L208.25,669.3L208.5,669.66L208.75,670.01L209,670.36L209.25,670.73L209.5,671.11L209.75,671.51L210,671.94L210.25,672.38L210.5,672.83L210.75,673.29L211,673.77L211.25,674.27L211.5,674.79L211.75,675.35L212,675.96L212.25,676.64L212.5,677.42L212.75,678.28L213,679.17L213.25,680.02L213.5,680.8L213.75,681.45L214,681.99L214.25,682.45L214.5,682.83L214.75,683.13L215,683.33L215.25,683.42L215.5,683.45L256.5,683.45L256.5,687Z" fill="rgba(78,108,180,0.6)" stroke="#2e3c5e" stroke-width="1.1"/>
</g>
<rect x="180.5" y="610.45" width="74" height="73.7" fill="none" stroke="#000" stroke-width="1.3"/>
<path d="M177.3,684H180.5M177.3,666.1H180.5M177.3,648.2H180.5M177.3,630.3H180.5M177.3,612.4H180.5" stroke="#000" stroke-width="0.9" fill="none"/>
<text class="t" x="174.4" y="686.4" font-size="8.3" text-anchor="end" fill="#2a2a2a" font-weight="normal" >0</text>
<text class="t" x="174.4" y="668.5" font-size="8.3" text-anchor="end" fill="#2a2a2a" font-weight="normal" >1.0K</text>
<text class="t" x="174.4" y="650.6" font-size="8.3" text-anchor="end" fill="#2a2a2a" font-weight="normal" >2.0K</text>
<text class="t" x="174.4" y="632.7" font-size="8.3" text-anchor="end" fill="#2a2a2a" font-weight="normal" >3.0K</text>
<text class="t" x="174.4" y="614.8" font-size="8.3" text-anchor="end" fill="#2a2a2a" font-weight="normal" >4.0K</text>
<path d="M184.3,684.15V686.75M188.3,684.15V686.75M192.3,684.15V686.75M195.3,684.15V686.75M197.8,684.15V687.35M202.3,684.15V686.75M206.3,684.15V686.75M209.3,684.15V686.75M211.6,684.15V686.75M214,684.15V687.15M218.97,684.15V686.55M221.87,684.15V686.55M223.93,684.15V686.55M225.53,684.15V686.55M226.84,684.15V686.55M227.94,684.15V686.55M228.9,684.15V686.55M229.75,684.15V686.55M230.5,684.15V687.75M235.47,684.15V686.55M238.37,684.15V686.55M240.43,684.15V686.55M242.03,684.15V686.55M243.34,684.15V686.55M244.44,684.15V686.55M245.4,684.15V686.55M246.25,684.15V686.55M247,684.15V687.15M251.97,684.15V686.55" stroke="#000" stroke-width="1.05" fill="none"/>
<rect x="196.1" y="684.15" width="3.4" height="3.6" fill="#000"/>
<text class="t" x="197.8" y="698.45" font-size="8" text-anchor="middle" fill="#2a2a2a" font-weight="normal" >0</text>
<text class="t" x="223.8" y="698.45" font-size="8.2" fill="#2a2a2a">10<tspan font-size="5.9" dy="-3.5">4</tspan></text>
<text class="t" x="188.5" y="622.8" font-size="7.8" text-anchor="start" fill="#2a2a2a" font-weight="normal" >RFI=21.6</text>
<text transform="translate(153,647.3) rotate(-90)" font-size="10.3" font-weight="bold" text-anchor="middle" fill="#2a2a2a" stroke="#2a2a2a" stroke-width="0.2" textLength="17.3" lengthAdjust="spacingAndGlyphs">Count</text>
<text x="217.6" y="712.65" font-size="10.0" font-weight="bold" text-anchor="middle" fill="#2a2a2a" stroke="#2a2a2a" stroke-width="0.2" textLength="18.5" lengthAdjust="spacingAndGlyphs">HLA-I</text>
<clipPath id="c16"><rect x="309.5" y="610.45" width="74" height="73.7"/></clipPath>
<g clip-path="url(#c16)">
<path d="M307.5,687L307.5,683.45L322,683.43L322.25,683.41L322.5,683.36L322.75,683.27L323,683.09L323.25,682.76L323.5,682.17L323.75,681.19L324,679.63L324.25,677.26L324.5,673.85L324.75,669.21L325,663.21L325.25,655.9L325.5,647.55L325.75,638.66L326,629.93L326.25,622.22L326.5,616.38L326.75,613.1L327,612.64L327.25,613.63L327.5,615.67L327.75,618.67L328,622.5L328.25,626.99L328.5,631.97L328.75,637.23L329,642.6L329.25,647.9L329.5,652.99L329.75,657.76L330,662.12L330.25,666.02L330.5,669.42L330.75,672.33L331,674.78L331.25,676.79L331.5,678.42L331.75,679.7L332,680.7L332.25,681.47L332.5,682.04L332.75,682.47L333,682.77L333.25,682.99L333.5,683.14L333.75,683.25L334,683.32L334.25,683.37L334.5,683.4L334.75,683.42L335,683.43L385.5,683.45L385.5,687Z" fill="rgba(192,48,84,0.66)" stroke="#82183c" stroke-width="1.2"/>
<path d="M307.5,687L307.5,683.45L321,683.44L321.25,683.42L321.5,683.39L321.75,683.33L322,683.21L322.25,683.01L322.5,682.66L322.75,682.1L323,681.25L323.25,680L323.5,678.29L323.75,676.05L324,673.3L324.25,670.1L324.5,666.65L324.75,663.2L325,660.08L325.25,657.63L325.5,656.13L325.75,655.77L326,656.6L326.25,658.51L326.5,661.27L326.75,664.56L327,668.05L327.25,671.42L327.5,674.46L327.75,677.01L328,679.04L328.25,680.55L328.5,681.63L328.75,682.35L329,682.82L329.25,683.1L329.5,683.27L329.75,683.36L330,683.4L330.25,683.43L330.5,683.44L385.5,683.45L385.5,687Z" fill="rgba(78,108,180,0.6)" stroke="#2e3c5e" stroke-width="1.1"/>
</g>
<rect x="309.5" y="610.45" width="74" height="73.7" fill="none" stroke="#000" stroke-width="1.3"/>
<path d="M306.3,684H309.5M307.9,679.33H309.5M307.9,674.66H309.5M307.9,669.99H309.5M307.9,665.32H309.5M306.3,660.65H309.5M307.9,655.98H309.5M307.9,651.31H309.5M307.9,646.64H309.5M307.9,641.97H309.5M306.3,637.3H309.5M307.9,632.63H309.5M307.9,627.96H309.5M307.9,623.29H309.5M307.9,618.62H309.5M306.3,613.95H309.5" stroke="#000" stroke-width="0.9" fill="none"/>
<text class="t" x="303.4" y="686.4" font-size="8.3" text-anchor="end" fill="#2a2a2a" font-weight="normal" >0</text>
<text class="t" x="303.4" y="663.05" font-size="8.3" text-anchor="end" fill="#2a2a2a" font-weight="normal" >5.0K</text>
<text class="t" x="303.4" y="639.7" font-size="8.3" text-anchor="end" fill="#2a2a2a" font-weight="normal" >10K</text>
<text class="t" x="303.4" y="616.35" font-size="8.3" text-anchor="end" fill="#2a2a2a" font-weight="normal" >15K</text>
<path d="M313.3,684.15V686.75M317.3,684.15V686.75M321.3,684.15V686.75M324.3,684.15V686.75M326.8,684.15V687.35M331.3,684.15V686.75M335.3,684.15V686.75M338.3,684.15V686.75M340.6,684.15V686.75M343,684.15V687.15M347.97,684.15V686.55M350.87,684.15V686.55M352.93,684.15V686.55M354.53,684.15V686.55M355.84,684.15V686.55M356.94,684.15V686.55M357.9,684.15V686.55M358.75,684.15V686.55M359.5,684.15V687.75M364.47,684.15V686.55M367.37,684.15V686.55M369.43,684.15V686.55M371.03,684.15V686.55M372.34,684.15V686.55M373.44,684.15V686.55M374.4,684.15V686.55M375.25,684.15V686.55M376,684.15V687.15M380.97,684.15V686.55" stroke="#000" stroke-width="1.05" fill="none"/>
<rect x="325.1" y="684.15" width="3.4" height="3.6" fill="#000"/>
<text class="t" x="326.8" y="698.45" font-size="8" text-anchor="middle" fill="#2a2a2a" font-weight="normal" >0</text>
<text class="t" x="352.8" y="698.45" font-size="8.2" fill="#2a2a2a">10<tspan font-size="5.9" dy="-3.5">4</tspan></text>
<text class="t" x="346.5" y="622.1" font-size="7.8" text-anchor="start" fill="#2a2a2a" font-weight="normal" >RFI=0.9</text>
<text transform="translate(282,647.3) rotate(-90)" font-size="10.3" font-weight="bold" text-anchor="middle" fill="#2a2a2a" stroke="#2a2a2a" stroke-width="0.2" textLength="17.3" lengthAdjust="spacingAndGlyphs">Count</text>
<text x="346.6" y="712.65" font-size="10.0" font-weight="bold" text-anchor="middle" fill="#2a2a2a" stroke="#2a2a2a" stroke-width="0.2" textLength="18.5" lengthAdjust="spacingAndGlyphs">PD-L1</text>
<clipPath id="c17"><rect x="438.4" y="610.45" width="74" height="73.7"/></clipPath>
<g clip-path="url(#c17)">
<path d="M436.4,687L436.4,683.45L455.15,683.44L455.4,683.35L455.65,682.85L455.9,681.16L456.15,677.11L456.4,669.58L456.65,658.51L456.9,645.96L457.15,634.83L457.4,626.64L457.65,621.48L457.9,618.75L458.15,617.37L458.4,616.52L458.65,615.88L458.9,615.37L459.15,614.99L459.4,614.73L459.65,614.59L459.9,614.6L460.15,614.81L460.4,615.24L460.65,615.85L460.9,616.58L461.15,617.34L461.4,618.06L461.65,618.7L461.9,619.27L462.15,619.8L462.4,620.3L462.65,620.79L462.9,621.27L463.15,621.76L463.4,622.25L463.65,622.75L463.9,623.28L464.15,623.82L464.4,624.38L464.65,624.95L464.9,625.53L465.15,626.11L465.4,626.68L465.65,627.24L465.9,627.78L466.15,628.29L466.4,628.77L466.65,629.22L466.9,629.64L467.15,630.04L467.4,630.42L467.65,630.79L467.9,631.15L468.15,631.5L468.4,631.83L468.65,632.15L468.9,632.46L469.15,632.76L469.4,633.05L469.65,633.32L469.9,633.56L470.15,633.79L470.4,634.01L470.65,634.21L470.9,634.42L471.15,634.63L471.4,634.85L471.65,635.09L471.9,635.35L472.15,635.63L472.4,635.95L472.65,636.31L472.9,636.74L473.15,637.24L473.4,637.84L473.65,638.57L473.9,639.49L474.15,640.71L474.4,642.31L474.65,644.25L474.9,646.38L475.15,648.51L475.4,650.51L475.65,652.37L475.9,654.12L476.15,655.81L476.4,657.44L476.65,659.02L476.9,660.54L477.15,662.02L477.4,663.47L477.65,664.9L477.9,666.3L478.15,667.66L478.4,668.95L478.65,670.16L478.9,671.26L479.15,672.24L479.4,673.13L479.65,673.93L479.9,674.69L480.15,675.4L480.4,676.09L480.65,676.73L480.9,677.34L481.15,677.92L481.4,678.46L481.65,678.96L481.9,679.42L482.15,679.85L482.4,680.24L482.65,680.6L482.9,680.92L483.15,681.23L483.4,681.51L483.65,681.76L483.9,682.01L484.15,682.23L484.4,682.44L484.65,682.63L484.9,682.81L485.15,682.98L485.4,683.13L485.65,683.26L485.9,683.36L486.15,683.42L486.4,683.44L514.4,683.45L514.4,687Z" fill="rgba(192,48,84,0.66)" stroke="#82183c" stroke-width="1.2"/>
<path d="M436.4,687L436.4,683.45L446.15,683.43L446.4,683.42L446.65,683.41L446.9,683.38L447.15,683.35L447.4,683.3L447.65,683.23L447.9,683.14L448.15,683L448.4,682.82L448.65,682.56L448.9,682.23L449.15,681.79L449.4,681.21L449.65,680.48L449.9,679.56L450.15,678.42L450.4,677.03L450.65,675.37L450.9,673.39L451.15,671.1L451.4,668.48L451.65,665.54L451.9,662.29L452.15,658.78L452.4,655.05L452.65,651.17L452.9,647.24L453.15,643.36L453.4,639.62L453.65,636.15L453.9,633.06L454.15,630.46L454.4,628.43L454.65,627.07L454.9,626.41L455.15,626.62L455.4,628.22L455.65,631.16L455.9,635.21L456.15,640.09L456.4,645.48L456.65,651.05L456.9,656.51L457.15,661.63L457.4,666.23L457.65,670.21L457.9,673.53L458.15,676.21L458.4,678.3L458.65,679.88L458.9,681.04L459.15,681.87L459.4,682.43L459.65,682.82L459.9,683.06L460.15,683.22L460.4,683.32L460.65,683.38L460.9,683.41L461.15,683.43L461.4,683.44L514.4,683.45L514.4,687Z" fill="rgba(78,108,180,0.6)" stroke="#2e3c5e" stroke-width="1.1"/>
</g>
<rect x="438.4" y="610.45" width="74" height="73.7" fill="none" stroke="#000" stroke-width="1.3"/>
<path d="M435.2,684H438.4M435.2,660.5H438.4M435.2,637H438.4M435.2,613.5H438.4" stroke="#000" stroke-width="0.9" fill="none"/>
<text class="t" x="432.3" y="686.4" font-size="8.3" text-anchor="end" fill="#2a2a2a" font-weight="normal" >0</text>
<text class="t" x="432.3" y="662.9" font-size="8.3" text-anchor="end" fill="#2a2a2a" font-weight="normal" >1.0K</text>
<text class="t" x="432.3" y="639.4" font-size="8.3" text-anchor="end" fill="#2a2a2a" font-weight="normal" >2.0K</text>
<text class="t" x="432.3" y="615.9" font-size="8.3" text-anchor="end" fill="#2a2a2a" font-weight="normal" >3.0K</text>
<path d="M442.2,684.15V686.75M446.2,684.15V686.75M450.2,684.15V686.75M453.2,684.15V686.75M455.7,684.15V687.35M460.2,684.15V686.75M464.2,684.15V686.75M467.2,684.15V686.75M469.5,684.15V686.75M471.9,684.15V687.15M476.87,684.15V686.55M479.77,684.15V686.55M481.83,684.15V686.55M483.43,684.15V686.55M484.74,684.15V686.55M485.84,684.15V686.55M486.8,684.15V686.55M487.65,684.15V686.55M488.4,684.15V687.75M493.37,684.15V686.55M496.27,684.15V686.55M498.33,684.15V686.55M499.93,684.15V686.55M501.24,684.15V686.55M502.34,684.15V686.55M503.3,684.15V686.55M504.15,684.15V686.55M504.9,684.15V687.15M509.87,684.15V686.55" stroke="#000" stroke-width="1.05" fill="none"/>
<rect x="454" y="684.15" width="3.4" height="3.6" fill="#000"/>
<text class="t" x="455.7" y="698.45" font-size="8" text-anchor="middle" fill="#2a2a2a" font-weight="normal" >0</text>
<text class="t" x="481.7" y="698.45" font-size="8.2" fill="#2a2a2a">10<tspan font-size="5.9" dy="-3.5">4</tspan></text>
<text class="t" x="471.4" y="621.4" font-size="7.8" text-anchor="start" fill="#2a2a2a" font-weight="normal" >RFI=10.6</text>
<text transform="translate(410.9,647.3) rotate(-90)" font-size="10.3" font-weight="bold" text-anchor="middle" fill="#2a2a2a" stroke="#2a2a2a" stroke-width="0.2" textLength="17.3" lengthAdjust="spacingAndGlyphs">Count</text>
<text x="475.5" y="712.65" font-size="10.0" font-weight="bold" text-anchor="middle" fill="#2a2a2a" stroke="#2a2a2a" stroke-width="0.2" textLength="20.3" lengthAdjust="spacingAndGlyphs">PD-L2</text>
<clipPath id="d1"><rect x="53.8" y="22.1" width="73.1" height="72.6"/></clipPath>
<g clip-path="url(#d1)">
<ellipse cx="75" cy="56.8" rx="9" ry="5.2" transform="rotate(-12 75 56.8)" fill="#000" fill-opacity="0.55" filter="url(#b2)"/>
<ellipse cx="72" cy="57.5" rx="5" ry="3.5" transform="rotate(-10 72 57.5)" fill="#000" fill-opacity="0.35" filter="url(#b1)"/>
<ellipse cx="60" cy="43.5" rx="2.6" ry="5" transform="rotate(0 60 43.5)" fill="#000" fill-opacity="0.32" filter="url(#b1)"/>
<ellipse cx="59.8" cy="75.5" rx="2.8" ry="6" transform="rotate(0 59.8 75.5)" fill="#000" fill-opacity="0.38" filter="url(#b1)"/>
<ellipse cx="60" cy="60" rx="2.2" ry="9" transform="rotate(0 60 60)" fill="#000" fill-opacity="0.12" filter="url(#b1)"/>
<ellipse cx="86" cy="52" rx="17" ry="10" transform="rotate(-10 86 52)" fill="#000" fill-opacity="0.07" filter="url(#b3)"/>
<g filter="url(#b0)">
<path d="M86.0 57.9h0M73.8 58.9h0M60.0 44.7h0M59.0 80.6h0M84.3 54.9h0M62.9 55.3h0M70.1 53.2h0M56.5 38.9h0M92.3 55.0h0M71.8 52.7h0M88.2 58.5h0M80.6 55.6h0M75.8 53.2h0M74.9 57.8h0M66.2 74.2h0M81.4 55.9h0M56.5 77.3h0M57.1 78.5h0M80.9 54.5h0M59.3 79.7h0M60.3 43.1h0M55.3 64.3h0M68.5 59.5h0M66.2 58.1h0M57.5 76.9h0M63.2 51.3h0M58.9 79.4h0M59.5 77.5h0M58.9 47.6h0M75.8 56.3h0M60.6 76.7h0M75.2 57.8h0M76.3 53.0h0M60.4 77.0h0M59.7 44.0h0M70.7 57.1h0M85.9 51.3h0M70.8 56.6h0M72.5 57.2h0M60.8 39.4h0M87.6 54.2h0M66.7 56.9h0M65.6 57.7h0M76.4 52.1h0M58.4 58.8h0M73.3 60.8h0M82.7 53.6h0M61.2 47.2h0M57.5 46.9h0M62.9 72.0h0M82.2 52.2h0M73.3 59.9h0M59.0 79.7h0M61.5 73.7h0M69.7 54.0h0M82.7 58.1h0M72.2 59.3h0M57.6 43.2h0M75.9 55.7h0M61.0 68.3h0M70.5 57.8h0M61.6 41.0h0M73.9 60.5h0M79.6 53.3h0M78.4 59.5h0M76.6 56.4h0M77.8 54.4h0M80.7 50.1h0M78.3 56.8h0M79.6 54.4h0M72.9 57.7h0M58.9 72.4h0M69.5 55.2h0M57.1 39.6h0M88.2 56.5h0M69.6 53.5h0M68.0 58.0h0M71.3 62.0h0M71.7 58.0h0M91.3 54.5h0M69.2 54.9h0M79.0 48.9h0M69.7 53.0h0M67.9 56.5h0M62.1 55.7h0M63.0 67.6h0M72.8 61.6h0M60.0 72.0h0M72.8 51.4h0M75.0 56.0h0M68.4 59.4h0M64.9 62.1h0M63.0 37.9h0M69.0 57.4h0M61.0 75.6h0M80.4 57.8h0M75.9 52.7h0M77.0 52.6h0M77.9 55.6h0M62.1 74.0h0M75.2 54.6h0M64.6 66.3h0M73.8 52.7h0M81.8 54.9h0M77.3 57.7h0M90.2 51.0h0M61.7 49.7h0M58.6 69.1h0M74.1 54.2h0M82.4 49.6h0M76.3 58.9h0M70.1 58.6h0M101.9 61.1h0M76.9 51.9h0M66.3 58.0h0M67.6 56.8h0M81.5 58.8h0M73.1 58.7h0M67.5 55.4h0M60.7 40.9h0M57.4 77.2h0M67.1 80.8h0M63.6 72.0h0M75.8 58.7h0M60.3 42.0h0M72.3 60.0h0M87.6 55.1h0M81.8 58.8h0M75.3 55.6h0M57.3 40.4h0M72.2 56.3h0M72.0 56.5h0M64.0 76.2h0M78.7 65.0h0M79.4 56.0h0M77.4 53.9h0M64.5 61.7h0M58.6 64.2h0M63.6 64.9h0M74.0 60.7h0M60.3 80.2h0M83.4 56.2h0M78.7 52.5h0M74.6 55.2h0M73.0 51.0h0M59.1 84.4h0M72.5 58.0h0M78.2 58.3h0M60.3 44.8h0M84.3 54.9h0M60.3 72.2h0M73.5 51.0h0M70.9 52.0h0M71.6 53.5h0M78.0 54.5h0M80.2 54.2h0M84.1 50.7h0M63.4 46.5h0M72.9 56.5h0M83.0 61.5h0M88.4 56.2h0M66.8 56.4h0M71.0 57.8h0M74.0 52.8h0M66.3 54.7h0M93.4 48.9h0M59.2 42.8h0M77.7 58.5h0M76.6 56.0h0M78.8 63.4h0M64.2 76.6h0M59.4 54.1h0M61.8 55.3h0M80.0 52.8h0M56.4 74.4h0M57.3 74.1h0M69.5 54.8h0M90.7 52.4h0M82.0 57.0h0M86.2 49.8h0M85.7 55.8h0M79.4 47.0h0M59.3 72.1h0M58.6 67.5h0M67.8 61.8h0M60.9 75.5h0M77.5 55.2h0M76.8 50.3h0M74.3 57.7h0M58.0 68.9h0M83.1 59.0h0M80.3 58.3h0M90.5 53.9h0M60.8 42.1h0M71.0 55.3h0M81.0 58.0h0M66.5 58.1h0M68.4 61.4h0M67.3 53.5h0M62.1 58.4h0M71.0 48.7h0M59.9 48.6h0M67.3 56.6h0M62.2 78.6h0M75.5 55.4h0M59.5 77.2h0M65.6 56.6h0M81.9 56.5h0M59.7 40.6h0M78.0 58.3h0M76.5 57.8h0M81.6 50.0h0M77.9 53.6h0M83.2 57.0h0M83.5 54.9h0M73.3 54.9h0M60.2 72.9h0M77.4 51.6h0M60.3 49.6h0M57.5 45.0h0M73.4 58.9h0M66.4 60.6h0M79.3 51.1h0M61.4 70.3h0M71.0 52.6h0M58.5 74.1h0M84.6 55.4h0M59.3 77.0h0M58.4 59.1h0M76.5 56.7h0M73.3 54.0h0M80.0 51.2h0M75.9 60.7h0M60.2 65.6h0M81.0 50.7h0M56.8 44.9h0M63.9 43.3h0M78.2 52.8h0M58.7 46.2h0M88.2 52.2h0M75.1 59.2h0M76.8 55.9h0M61.2 54.1h0M72.5 50.1h0M66.8 59.7h0M75.2 55.6h0M74.2 57.1h0M72.4 55.5h0M59.8 39.6h0M86.7 54.3h0M70.8 60.4h0M73.1 55.1h0M72.5 60.5h0M67.6 57.2h0M67.9 63.3h0M59.6 50.4h0M75.4 55.3h0M74.6 54.1h0M103.9 50.9h0M68.6 55.1h0M72.1 59.2h0M78.6 55.6h0M79.6 57.7h0M73.4 57.4h0M77.7 53.6h0M74.4 54.0h0M77.5 51.7h0M67.6 61.7h0M67.0 56.8h0M72.7 58.2h0M60.5 83.1h0M67.0 56.4h0M57.8 42.6h0M72.9 51.5h0M61.0 58.0h0M99.5 58.7h0M76.6 56.5h0M81.6 54.7h0M59.8 43.3h0M63.3 43.3h0M60.4 73.5h0M81.6 50.5h0M77.2 54.0h0M74.0 54.6h0M80.3 53.6h0M65.4 58.2h0M61.6 50.8h0M83.9 57.3h0M97.2 54.6h0M84.2 58.6h0M77.8 56.1h0M60.2 57.5h0M60.0 50.5h0M89.8 54.7h0M61.3 79.0h0M75.9 55.5h0M76.5 54.3h0M68.9 55.7h0M60.0 46.6h0M79.0 62.4h0M59.0 45.7h0M60.3 65.5h0M72.1 61.9h0M61.8 35.7h0M77.3 56.6h0M73.2 54.2h0M77.9 55.5h0M70.2 58.9h0M59.9 41.9h0M73.3 59.2h0M56.8 40.9h0M75.3 57.6h0M84.0 51.0h0M73.0 58.5h0M77.4 56.1h0M76.4 47.9h0M57.7 58.9h0M60.8 76.5h0M60.7 65.5h0M58.3 67.8h0M61.9 81.5h0M60.8 49.5h0M58.3 36.1h0M78.8 58.0h0M73.0 53.3h0M73.8 61.0h0M75.0 60.7h0M74.3 54.3h0M60.2 43.8h0M73.3 54.9h0M58.3 42.1h0M56.0 40.2h0M62.2 40.8h0M86.7 55.6h0M93.3 55.5h0M77.0 62.8h0M62.2 38.0h0M76.8 53.9h0M57.3 79.4h0M69.0 56.4h0M67.0 54.3h0M73.0 58.3h0M78.5 56.2h0M61.6 71.2h0M72.6 60.5h0M60.7 44.2h0M64.5 56.5h0M62.4 50.9h0M73.6 59.9h0M62.1 83.5h0M77.1 47.4h0M72.7 58.6h0M68.1 61.9h0" fill="none" stroke="#000" stroke-width="0.8" stroke-linecap="square" stroke-opacity="0.42"/>
<path d="M66.3 64.8h0M81.6 52.2h0M91.8 55.2h0M57.8 54.1h0M61.1 61.0h0M85.2 62.4h0M58.9 76.5h0M77.3 55.5h0M68.9 61.3h0M66.0 67.5h0M73.2 60.0h0M61.4 75.6h0M71.5 64.1h0M71.3 61.3h0M70.6 61.3h0M91.8 49.8h0M78.9 53.6h0M57.1 37.7h0M69.3 53.6h0M61.1 51.2h0M78.2 59.2h0M73.3 58.1h0M60.6 42.1h0M85.3 52.1h0M85.3 51.8h0M75.5 59.1h0M77.8 56.8h0M78.8 60.7h0M72.2 60.4h0M67.4 63.2h0M63.0 59.4h0M79.9 54.5h0M92.8 57.6h0M61.1 67.1h0M99.4 52.3h0M71.7 59.1h0M74.2 58.5h0M72.1 54.6h0M60.6 47.7h0M59.6 78.5h0M81.3 58.6h0M72.3 56.7h0M61.1 50.8h0M58.0 61.0h0M71.5 65.2h0M59.1 45.3h0M58.4 48.8h0M69.9 55.4h0M60.9 43.5h0M78.8 55.8h0M73.8 62.7h0M81.5 55.6h0M71.3 61.0h0M74.4 58.0h0M74.2 59.5h0M94.1 45.8h0M59.7 86.7h0M60.8 58.7h0M68.8 52.1h0M59.8 69.8h0M74.6 63.1h0M83.7 59.1h0M58.1 73.0h0M64.2 46.1h0M68.5 60.7h0M58.0 74.4h0M90.1 57.5h0M73.2 55.2h0M76.0 62.0h0M74.3 52.6h0M72.1 57.8h0M76.9 60.3h0M98.2 58.4h0M73.3 52.4h0M67.3 53.0h0M80.1 51.7h0M73.0 58.7h0M61.5 63.2h0M58.8 49.5h0M75.4 54.2h0M69.7 58.4h0M71.8 53.8h0M76.7 48.3h0M78.4 56.3h0M69.5 54.3h0M75.1 56.1h0M66.5 59.2h0M55.8 77.6h0M70.7 58.4h0M71.0 53.8h0M81.3 57.5h0M79.4 57.8h0M78.3 57.2h0M68.2 57.3h0M68.1 54.7h0M79.0 52.3h0M61.3 54.5h0M58.9 76.9h0M59.6 80.3h0M83.4 57.5h0M59.0 79.9h0M80.9 54.8h0M79.4 59.5h0M61.3 50.6h0M74.2 56.9h0M57.6 71.4h0M57.3 57.9h0M62.8 85.5h0M84.6 58.3h0M77.7 54.2h0M74.3 55.0h0M71.7 59.6h0M70.6 60.0h0M68.8 60.3h0M73.6 54.4h0M60.4 74.9h0M68.4 51.6h0M74.4 56.2h0M63.5 57.0h0M66.8 57.1h0M73.4 56.9h0M70.7 55.3h0M59.7 41.7h0M62.6 43.4h0M62.5 36.9h0M60.9 56.8h0M73.0 56.9h0M64.2 57.2h0M76.7 54.4h0M56.3 39.8h0M68.3 59.9h0M63.1 49.2h0M75.2 51.3h0M76.3 56.9h0M68.8 57.8h0M75.0 54.6h0M57.4 42.8h0M79.4 57.8h0M67.5 60.6h0M64.9 70.6h0M68.8 57.2h0M93.5 58.3h0M57.4 80.4h0M67.8 63.8h0M56.7 75.1h0M80.4 59.7h0M74.6 59.1h0M59.4 39.4h0M88.3 58.1h0M72.1 59.8h0M79.9 59.0h0M76.7 52.7h0M65.9 69.6h0M60.4 69.0h0M57.9 70.5h0M61.4 65.7h0M79.3 57.0h0M76.0 55.2h0M61.2 48.3h0M71.2 57.9h0M77.2 54.1h0M83.7 59.3h0M72.4 59.4h0M73.4 58.8h0M67.6 59.7h0M70.2 51.0h0M60.3 77.0h0M81.8 52.6h0M75.3 54.6h0M87.7 56.6h0M74.8 58.8h0M75.0 60.8h0M62.0 81.3h0M79.5 50.7h0M62.7 59.8h0M73.0 60.1h0M61.9 77.3h0M59.6 32.9h0M77.2 53.5h0M61.8 38.9h0M78.4 53.8h0M70.1 65.5h0M72.4 58.0h0M61.6 64.5h0M61.7 74.8h0M62.9 48.7h0M77.3 61.3h0M74.0 52.2h0M60.4 76.9h0M81.8 55.9h0M70.5 59.7h0M63.3 81.7h0M78.2 55.1h0M58.9 75.7h0M92.1 46.5h0M59.6 40.4h0M79.0 54.0h0M58.0 48.2h0M59.6 72.2h0M70.5 61.0h0M80.7 55.5h0M71.1 56.9h0M62.4 64.9h0M76.9 54.6h0M69.3 57.3h0M83.3 55.1h0M61.3 63.9h0M65.6 56.5h0M61.6 48.5h0M68.2 58.7h0M64.8 51.9h0M64.3 37.9h0M72.1 60.1h0M78.0 53.9h0M62.6 79.7h0M74.9 60.1h0M73.1 61.4h0M82.6 57.3h0M58.3 38.0h0M63.0 37.9h0M91.4 54.4h0M58.7 67.7h0M61.0 73.4h0M77.5 54.0h0M63.8 44.5h0M67.2 62.6h0M59.3 72.4h0M71.6 50.7h0M76.5 52.4h0M59.1 47.4h0M71.2 57.3h0M73.7 62.1h0M81.7 57.2h0M73.7 57.5h0M96.9 49.4h0M58.2 76.9h0M77.2 56.6h0M85.6 51.0h0M58.6 38.8h0M86.4 57.6h0M59.4 85.6h0M78.6 61.5h0M68.7 63.2h0M61.6 42.5h0M85.2 55.8h0M69.1 51.4h0M60.7 68.3h0M58.6 77.2h0M60.0 74.7h0M70.0 53.0h0M84.2 53.8h0M65.3 66.0h0M76.7 58.1h0M72.4 48.9h0M81.5 57.3h0M76.7 53.4h0M58.9 73.2h0M60.7 45.5h0M59.6 40.6h0M73.0 56.2h0M85.9 51.2h0M73.9 55.8h0M70.5 64.0h0M62.0 80.3h0M82.2 54.8h0M58.1 76.4h0M73.7 53.7h0M78.1 52.0h0M56.8 42.4h0M60.3 41.9h0M69.7 56.2h0M71.7 58.0h0M64.8 56.9h0M82.2 54.8h0M87.6 57.1h0M75.5 57.5h0M74.2 59.3h0M80.1 53.5h0M60.3 75.1h0M75.0 65.3h0M60.0 46.1h0M57.7 71.6h0M82.3 57.9h0M78.1 58.2h0M78.4 57.6h0M72.2 60.3h0M94.4 54.3h0M73.1 52.5h0M79.7 56.3h0M74.5 53.3h0M57.2 44.0h0M60.4 42.0h0M78.3 63.4h0M57.4 44.7h0M61.0 39.6h0M73.7 57.8h0M98.3 51.1h0M76.8 60.2h0M64.0 69.3h0M86.5 51.6h0M58.1 69.0h0M62.7 72.6h0M65.6 63.5h0M69.1 55.9h0M73.8 51.4h0M67.7 62.5h0M60.1 48.7h0M81.2 55.5h0M85.0 53.4h0M82.0 61.0h0M60.9 45.7h0M73.8 59.8h0M78.8 55.2h0M82.5 56.0h0M68.6 59.8h0M83.8 60.5h0M79.1 54.6h0M63.2 38.5h0M58.2 67.9h0M73.7 54.5h0M74.0 62.0h0M72.6 53.0h0M76.4 50.1h0M65.4 55.1h0M78.1 50.7h0M73.6 56.5h0M80.4 56.1h0M81.6 55.5h0M85.3 52.3h0M70.9 59.8h0M61.9 51.4h0M75.9 56.5h0M74.1 59.3h0M76.1 50.6h0M70.8 58.7h0M62.0 45.5h0M65.8 57.6h0M59.7 71.3h0M69.6 58.7h0M80.2 59.4h0M86.9 56.0h0M56.0 79.7h0M74.4 56.0h0M57.9 49.7h0M60.2 80.0h0M71.5 59.3h0M76.0 57.1h0M82.0 55.6h0M58.1 68.2h0M70.1 52.7h0M61.1 44.8h0" fill="none" stroke="#000" stroke-width="0.8" stroke-linecap="square" stroke-opacity="0.42"/>
<path d="M75.1 56.4h0M80.7 54.3h0M62.5 88.0h0M75.2 60.6h0M73.8 54.8h0M62.5 75.5h0M74.6 59.1h0M58.7 52.6h0M73.8 56.7h0M74.3 57.3h0M70.8 57.8h0M78.4 55.8h0M71.2 53.9h0M63.7 80.6h0M71.6 55.9h0M67.6 52.0h0M76.5 64.7h0M74.7 59.3h0M77.3 55.2h0M79.2 55.4h0M67.7 59.6h0M72.8 59.2h0M88.3 52.1h0M72.7 60.2h0M58.9 42.2h0M61.0 75.2h0M89.3 50.2h0M94.1 57.8h0M95.5 53.1h0M80.6 52.0h0M78.4 55.0h0M79.2 56.8h0M66.0 59.7h0M56.3 75.9h0M74.4 56.0h0M61.9 53.6h0M71.0 51.2h0M59.8 43.6h0M87.9 57.3h0M60.1 47.1h0M78.3 57.7h0M73.2 52.1h0M59.2 69.5h0M74.2 52.7h0M61.8 79.0h0M70.9 57.7h0M75.5 55.6h0M77.8 53.1h0M94.1 54.6h0M68.9 55.3h0M65.0 46.8h0M73.7 56.1h0M77.5 48.4h0M72.7 57.2h0M59.1 77.7h0M69.0 61.7h0M79.8 56.6h0M73.5 58.9h0M60.8 76.1h0M93.5 49.0h0M59.2 46.7h0M59.3 53.5h0M78.2 52.0h0M63.5 46.4h0M70.2 57.8h0M69.4 60.8h0M63.1 60.4h0M68.8 53.2h0M74.5 58.8h0M59.6 74.2h0M71.9 59.8h0M79.7 60.8h0M60.7 48.0h0M67.2 61.1h0M72.4 54.0h0M60.0 42.4h0M76.4 57.8h0M72.0 60.5h0M79.8 56.2h0M74.3 63.0h0M69.1 58.7h0M71.1 57.2h0M81.6 59.1h0M82.5 61.7h0M71.9 62.0h0M76.7 57.0h0M58.1 71.8h0M57.3 72.2h0M63.0 83.3h0M78.8 56.0h0M58.0 35.1h0M73.1 60.7h0M72.5 56.4h0M58.2 70.6h0M61.5 42.0h0M72.6 61.1h0M78.4 55.4h0M79.1 54.4h0M73.8 57.2h0M81.6 56.6h0M75.1 53.7h0M79.6 56.8h0M59.0 42.2h0M70.0 51.5h0M61.0 39.3h0M70.3 57.9h0M80.5 61.2h0M78.5 57.0h0M57.6 44.2h0M73.5 54.5h0M79.2 56.2h0M69.4 59.2h0M80.2 55.6h0M60.9 68.9h0M59.4 43.6h0M59.2 44.0h0M61.2 53.7h0M61.0 76.1h0M70.0 57.9h0M94.9 50.3h0M72.5 56.9h0M73.6 60.0h0M62.3 70.9h0M57.9 70.1h0M69.6 57.8h0M62.1 47.2h0M75.8 54.6h0M71.4 57.5h0M70.3 54.1h0M60.2 75.0h0M68.6 53.1h0M59.4 72.4h0M83.5 58.7h0M74.8 54.2h0M58.2 40.9h0M70.1 55.8h0M75.4 54.8h0M64.8 40.4h0M57.0 72.9h0M85.9 61.1h0M57.3 72.0h0M75.1 60.0h0M74.2 55.9h0M74.0 54.5h0M76.2 59.1h0M75.7 60.6h0M57.2 57.7h0M88.9 62.3h0M84.9 54.7h0M62.1 72.0h0M68.6 57.6h0M80.8 61.5h0M56.5 87.1h0M75.8 54.7h0M72.5 58.3h0M85.9 59.6h0M62.4 82.7h0M63.9 79.3h0M74.6 56.2h0M73.7 54.0h0M77.0 58.5h0M63.6 41.1h0M73.8 54.5h0M74.5 56.3h0M81.8 54.1h0M58.5 72.8h0M60.1 49.8h0M67.7 51.0h0M59.4 40.1h0M64.6 46.8h0M59.0 76.8h0M63.8 52.9h0M67.9 52.9h0M57.4 37.2h0M72.9 55.0h0M59.0 80.9h0M96.5 52.8h0M56.4 61.4h0M101.6 54.3h0M58.5 36.1h0M69.1 60.2h0M60.8 38.0h0M67.1 62.0h0M59.4 60.0h0M72.0 54.6h0M76.6 59.0h0M70.2 55.0h0M75.5 56.6h0M64.9 40.5h0M57.9 56.9h0M61.9 41.3h0M60.4 69.7h0M58.1 38.3h0M73.9 59.2h0M61.4 56.2h0M80.6 54.3h0M75.7 57.9h0M74.3 52.1h0M74.0 56.8h0M65.8 59.2h0M58.9 71.1h0M57.3 74.6h0M69.3 59.8h0M67.4 61.5h0M61.5 45.2h0M64.0 57.3h0M59.5 79.1h0M71.0 58.4h0M74.0 56.3h0M76.9 53.5h0M80.7 61.1h0M74.5 49.9h0M65.2 62.6h0M76.5 62.9h0M74.2 62.8h0M81.0 59.3h0M83.4 54.0h0M64.4 62.0h0M75.0 53.8h0M75.1 54.6h0M79.5 51.4h0M61.2 53.3h0M73.1 55.8h0M63.6 44.8h0M70.8 55.2h0M58.5 45.3h0M71.7 62.2h0M76.3 58.4h0M57.1 67.1h0M78.9 50.7h0M73.9 56.9h0M84.3 50.1h0M76.9 58.4h0M61.2 40.1h0M77.0 54.5h0M73.7 57.3h0M76.5 58.3h0M74.3 54.8h0M94.9 56.6h0M75.3 57.9h0M73.2 55.7h0M67.1 55.8h0M56.6 77.3h0M76.9 56.7h0M68.1 62.8h0M73.7 52.5h0M101.6 50.9h0M63.6 57.8h0M59.2 46.5h0M77.4 57.3h0M58.3 40.5h0M87.8 56.9h0M75.7 64.5h0M80.7 58.4h0M72.8 56.2h0M63.2 45.0h0M79.8 53.8h0M57.7 65.0h0M70.6 57.4h0M76.0 59.9h0M66.4 55.6h0M61.4 60.4h0M73.1 58.8h0M75.0 58.1h0M72.5 56.7h0M72.1 63.1h0M70.6 55.8h0M83.6 51.7h0M68.7 57.5h0M63.5 54.2h0M57.7 69.7h0M75.6 58.5h0M55.9 69.4h0M84.6 52.8h0M60.2 61.7h0M69.1 55.8h0M58.4 45.6h0M60.6 41.9h0M85.2 55.1h0M73.2 58.9h0M66.4 55.6h0M60.7 45.0h0M62.9 40.5h0M77.7 57.0h0M59.2 43.1h0M89.0 51.6h0M84.0 56.0h0M57.1 64.6h0M79.3 58.9h0M79.4 53.8h0M66.3 54.9h0M60.3 50.0h0M57.6 67.5h0M64.4 51.5h0M76.7 52.0h0M75.9 59.1h0M58.8 41.0h0M71.2 60.9h0M75.0 60.6h0M94.7 60.1h0M61.9 78.4h0M69.9 52.2h0M89.4 53.5h0M58.2 37.9h0M79.3 59.0h0M89.2 53.4h0M62.9 74.1h0M78.5 55.9h0M75.0 55.3h0M61.6 66.6h0M75.3 57.1h0M61.1 59.6h0M58.8 59.5h0M64.1 72.5h0M73.9 55.5h0M64.2 49.9h0M75.8 57.0h0M76.5 59.2h0M83.8 54.4h0M61.9 78.1h0M60.1 80.5h0M58.1 68.8h0M86.3 59.7h0M63.0 77.6h0M62.8 37.8h0M69.8 59.8h0M74.3 57.3h0M55.6 42.7h0M76.1 61.4h0M59.8 50.2h0M77.4 54.7h0M79.3 58.2h0M75.3 52.8h0M78.6 52.7h0M61.0 46.0h0M58.2 52.0h0M56.0 38.6h0M79.5 51.7h0M94.0 57.5h0M61.0 57.0h0M73.9 57.5h0M58.2 76.0h0M60.7 77.9h0M69.1 56.3h0M73.8 56.8h0M83.0 62.9h0M78.9 52.6h0M59.6 78.1h0M62.1 71.6h0M92.0 49.8h0M57.7 80.5h0" fill="none" stroke="#000" stroke-width="0.8" stroke-linecap="square" stroke-opacity="0.42"/>
<path d="M71.5 63.1h0M59.9 43.0h0M93.2 50.2h0M69.1 54.3h0M81.0 51.4h0M78.0 61.6h0M73.5 61.1h0M57.0 78.1h0M65.7 57.1h0M58.6 75.3h0M71.5 55.4h0M59.4 71.2h0M74.8 58.0h0M60.1 63.8h0M76.9 57.0h0M71.7 58.6h0M71.7 54.2h0M80.2 61.4h0M59.4 68.9h0M62.4 69.8h0M59.0 43.5h0M82.6 48.2h0M75.8 54.4h0M73.9 60.8h0M77.9 59.3h0M81.2 62.8h0M82.8 52.1h0M73.2 58.6h0M72.2 52.0h0M83.1 54.3h0M88.6 48.3h0M57.2 49.8h0M75.0 55.9h0M58.7 45.2h0M57.3 44.3h0M70.4 56.7h0M73.8 54.5h0M73.0 53.7h0M94.5 57.9h0M73.8 58.0h0M59.6 40.1h0M79.7 63.0h0M63.5 74.7h0M82.7 55.1h0M54.5 43.9h0M59.9 63.4h0M57.6 83.8h0M83.8 52.3h0M77.5 62.2h0M83.8 55.9h0M61.6 75.8h0M75.3 59.4h0M76.3 58.6h0M75.2 63.1h0M84.1 54.7h0M63.8 52.8h0M71.7 58.7h0M84.0 59.6h0M65.5 63.7h0M60.9 65.4h0M69.8 56.4h0M73.7 60.3h0M59.4 79.2h0M66.2 39.5h0M75.0 55.6h0M59.2 70.9h0M56.4 39.4h0M63.5 75.3h0M74.4 56.1h0M78.8 55.3h0M92.4 54.9h0M62.2 73.5h0M73.8 56.9h0M70.2 57.0h0M61.9 39.0h0M74.6 52.2h0M60.2 44.4h0M60.2 66.1h0M74.4 56.6h0M72.7 61.6h0M79.1 56.7h0M64.0 44.7h0M73.9 58.0h0M88.7 53.0h0M73.4 57.7h0M75.5 60.3h0M73.6 57.7h0M64.5 57.6h0M70.0 56.3h0M93.4 57.5h0M82.5 56.1h0M76.9 53.1h0M82.2 47.5h0M57.4 75.5h0M69.7 55.0h0M88.0 52.1h0M60.1 60.5h0M58.9 43.0h0M56.9 52.2h0M63.0 76.3h0M63.2 69.0h0M59.0 78.0h0M73.3 56.2h0M69.1 58.2h0M56.8 57.5h0M87.6 57.6h0M74.2 59.7h0M75.4 60.6h0M80.7 56.4h0M83.8 53.6h0M73.1 53.7h0M74.3 59.0h0M82.0 55.2h0M71.2 57.3h0M82.0 52.8h0M82.3 58.3h0M66.4 51.8h0M58.8 38.2h0M71.0 56.7h0M74.8 56.6h0M57.6 50.0h0M74.8 55.7h0M63.6 76.9h0M66.4 54.4h0M61.5 82.5h0M88.6 49.5h0M59.3 75.4h0M86.2 53.3h0M69.2 60.8h0M58.7 75.6h0M57.8 45.7h0M77.7 54.7h0M66.5 61.3h0M73.7 55.4h0M76.2 50.8h0M74.7 55.4h0M59.4 77.2h0M79.8 58.3h0M68.5 58.7h0M71.0 49.0h0M59.6 85.2h0M72.1 59.8h0M67.9 54.7h0M57.9 76.1h0M75.7 54.3h0M60.5 45.6h0M69.4 52.8h0M72.2 59.3h0M62.1 45.1h0M76.8 57.7h0M75.9 55.9h0M67.5 54.4h0M71.3 56.2h0M81.4 53.0h0M81.4 56.6h0M58.7 53.9h0M69.1 63.6h0M72.3 58.0h0M73.1 58.4h0M59.0 53.5h0M68.9 61.9h0M79.9 57.1h0M57.8 75.6h0M77.3 57.5h0M58.0 40.2h0M74.4 56.8h0M65.3 66.8h0M68.3 58.5h0M74.3 60.1h0M76.3 54.2h0M76.5 59.5h0M81.8 54.4h0M64.9 70.9h0M70.4 59.3h0M60.8 79.0h0M71.3 61.1h0M88.3 55.7h0M75.7 61.0h0M57.6 46.6h0M61.7 73.0h0M74.6 54.1h0M71.1 63.9h0M63.2 75.2h0M73.6 55.1h0M67.1 58.0h0M60.7 70.8h0M70.8 58.8h0M83.6 57.1h0M77.9 51.8h0M57.5 77.1h0M58.5 40.5h0M57.8 73.5h0M78.6 59.0h0M75.7 53.1h0M59.8 36.2h0M73.7 54.2h0M60.6 77.1h0M68.8 62.0h0M70.1 53.2h0M73.7 55.7h0M79.5 55.7h0M64.0 57.0h0M59.7 40.2h0M77.0 53.1h0M59.0 50.9h0M84.8 50.2h0M80.4 59.2h0M61.4 36.6h0M74.5 58.0h0M74.6 58.8h0M61.0 62.0h0M61.1 44.7h0M81.3 57.3h0M75.9 49.6h0M63.3 42.5h0M78.3 60.3h0M63.0 74.5h0M71.8 58.1h0M72.3 50.4h0M61.3 77.5h0M80.4 51.1h0M74.8 56.4h0M79.8 54.2h0M71.1 56.6h0M58.5 73.5h0M72.1 59.5h0M75.1 54.0h0M74.5 59.8h0M81.8 54.7h0M60.5 84.6h0M60.2 36.3h0M60.6 55.8h0M57.5 46.8h0M91.5 52.8h0M59.9 76.2h0M68.8 56.5h0M59.2 71.1h0M55.2 41.6h0M72.1 58.4h0M87.3 53.4h0M58.3 67.2h0M71.8 57.9h0M56.4 41.5h0M73.0 54.3h0M80.7 57.9h0M75.6 57.6h0M65.8 58.9h0M72.8 53.4h0M73.7 56.3h0M61.0 48.8h0M68.8 60.1h0M56.3 74.1h0M60.6 74.8h0M73.9 51.5h0M62.4 78.6h0M68.0 50.5h0M72.5 60.5h0M75.7 56.2h0M61.4 40.5h0M76.8 56.3h0M69.5 57.5h0M78.2 60.6h0M74.8 57.6h0M71.3 57.6h0M59.6 37.4h0M91.2 51.9h0M68.6 61.4h0M62.3 43.1h0M73.7 49.5h0M61.4 47.2h0M77.1 56.5h0M71.3 61.7h0M62.7 64.5h0M70.3 61.8h0M76.6 60.9h0M85.0 50.2h0M83.9 58.2h0M57.7 42.5h0M72.5 59.5h0M69.3 58.8h0M72.6 54.3h0M70.8 55.5h0M58.3 72.6h0M60.8 64.3h0M58.0 67.2h0M60.5 54.7h0M81.6 50.5h0M69.0 54.7h0M58.5 46.4h0M75.1 53.7h0M72.7 56.0h0M83.3 54.1h0M66.2 58.2h0M59.9 69.2h0M78.0 58.7h0M69.7 58.2h0M61.9 78.2h0M61.5 62.0h0M64.3 61.3h0M73.8 57.8h0M59.0 80.1h0M73.0 51.0h0M77.3 54.5h0M72.8 54.9h0M79.7 59.0h0M85.0 54.0h0M72.3 56.1h0M70.0 55.7h0M59.2 43.3h0M77.1 61.4h0M75.7 58.0h0M60.9 75.2h0M56.4 79.6h0M65.0 57.2h0M74.0 60.3h0M87.8 49.7h0M63.4 59.0h0M69.5 59.4h0M76.0 64.5h0M80.2 61.4h0M86.7 51.6h0M83.7 50.8h0M59.2 41.8h0M73.5 56.9h0M77.0 52.9h0M91.0 56.1h0M61.2 73.3h0M77.0 54.6h0M77.6 61.2h0M61.5 80.0h0M59.5 80.4h0M59.2 75.1h0M73.4 62.1h0M58.7 67.4h0M57.1 47.6h0M70.9 57.2h0M62.8 83.4h0M65.3 75.9h0M68.6 60.7h0M78.0 56.3h0M69.7 55.6h0M72.8 57.4h0M58.6 41.8h0M78.4 55.4h0M65.8 59.1h0M69.3 59.3h0M70.0 57.2h0M68.4 54.9h0M58.4 39.7h0M88.2 48.4h0M79.8 58.9h0M79.3 55.3h0" fill="none" stroke="#000" stroke-width="0.8" stroke-linecap="square" stroke-opacity="0.42"/>
</g>
<g filter="url(#b0)">
<path d="M76.2 44.0h0M98.3 45.8h0M90.2 61.5h0M89.5 38.5h0M59.3 50.3h0M104.7 54.9h0M73.8 61.1h0M69.8 66.3h0M104.5 60.0h0M72.4 38.5h0M99.1 33.6h0M113.4 47.3h0M82.1 41.7h0M64.7 35.9h0M58.5 74.8h0M68.1 42.6h0M66.0 42.7h0M85.5 42.4h0M62.5 76.9h0M68.3 73.1h0M87.2 67.7h0M98.2 66.7h0M58.5 51.3h0M85.7 74.1h0M86.5 46.8h0M103.5 60.5h0M87.0 46.2h0M91.0 72.3h0M65.1 38.5h0M80.8 72.1h0M101.5 26.2h0M80.3 45.7h0M92.9 50.8h0M73.6 54.0h0M88.9 57.4h0M89.3 50.9h0M55.8 43.0h0M60.7 37.5h0M99.9 41.0h0M89.4 55.5h0M112.1 42.7h0M76.6 30.2h0M90.7 34.9h0M81.1 49.8h0M100.5 55.2h0M111.6 67.3h0M88.9 57.5h0M94.6 60.7h0M90.1 66.0h0M99.6 71.0h0M73.0 58.1h0M107.3 39.0h0M98.5 51.3h0M95.2 64.1h0M62.0 33.6h0M75.4 56.2h0M76.4 75.0h0M111.5 53.4h0M88.1 54.8h0M93.8 53.5h0M107.8 41.7h0M72.2 86.8h0M90.9 44.4h0M102.6 41.6h0M82.0 50.5h0M81.4 53.7h0M83.5 43.9h0M107.8 51.2h0M101.7 47.2h0M77.1 78.8h0M84.9 54.8h0M61.7 35.8h0M98.4 69.3h0M102.0 46.5h0M87.4 71.0h0M69.5 59.2h0M91.1 57.0h0M111.7 63.4h0M62.9 71.4h0M84.4 76.2h0M62.0 40.0h0M73.9 67.2h0M90.1 39.6h0M124.5 73.4h0M61.0 69.4h0M110.3 46.6h0M96.1 58.7h0M80.6 39.2h0M81.1 32.7h0M83.1 44.9h0M63.7 70.1h0M105.2 52.6h0M83.3 70.8h0M79.8 62.5h0M73.0 60.3h0M80.7 39.4h0M96.6 50.8h0M112.8 62.6h0M61.9 63.5h0M84.8 84.7h0M68.5 64.8h0M83.4 51.4h0M76.6 84.4h0M94.9 50.5h0M71.4 66.3h0M65.1 68.3h0M76.0 45.5h0M68.5 39.8h0M72.1 69.9h0M59.4 30.2h0M83.9 59.2h0M90.6 68.8h0M88.1 25.3h0M70.0 74.3h0M112.7 46.9h0M93.2 30.7h0M93.3 42.6h0M106.3 65.5h0M106.3 55.8h0M72.2 84.2h0M62.7 77.9h0M106.8 33.1h0M76.1 50.3h0M84.6 79.0h0M93.7 43.3h0M82.8 34.5h0M60.5 71.6h0M108.1 41.0h0M72.5 57.2h0M97.3 31.2h0M88.4 70.0h0M97.2 41.8h0M91.5 39.6h0M65.5 53.8h0M61.8 74.3h0M95.9 57.7h0M76.9 64.7h0M89.3 51.8h0M114.1 51.2h0M106.1 56.4h0M101.8 61.2h0M69.5 37.3h0M69.3 86.5h0M109.3 44.9h0M99.1 62.2h0M89.5 62.2h0M113.6 47.1h0M84.5 36.2h0M87.3 58.4h0M76.1 61.0h0M59.4 64.7h0M91.4 70.0h0M91.7 66.2h0M82.8 46.6h0M54.8 58.4h0M103.8 64.0h0M62.3 60.1h0M108.1 46.6h0M64.7 65.5h0M70.4 41.9h0M103.5 33.7h0M98.4 53.8h0M90.1 48.0h0M87.1 47.6h0M71.9 44.7h0M82.8 52.7h0M82.7 60.1h0M87.4 59.1h0M92.6 47.7h0M86.6 37.3h0M88.3 71.5h0M90.9 59.6h0M72.1 61.2h0M71.0 86.4h0M65.5 56.8h0M71.3 27.0h0M75.3 78.6h0M112.5 41.1h0M113.8 54.5h0M112.6 68.7h0M101.9 65.6h0M67.4 49.0h0M80.2 86.8h0M93.4 76.7h0M104.9 55.6h0M78.0 78.0h0M77.7 65.0h0M88.7 43.9h0M84.6 30.4h0M87.2 53.6h0M70.7 32.9h0M70.6 48.7h0M68.2 68.9h0M73.0 44.7h0M84.7 29.5h0M111.4 28.3h0M116.7 27.7h0M96.2 60.3h0M61.1 38.6h0M68.2 79.2h0M70.4 52.1h0M87.0 78.3h0M67.5 33.4h0M110.3 57.4h0M86.1 57.5h0M66.4 62.6h0M75.5 75.5h0M83.3 64.6h0M72.5 78.0h0M99.0 33.5h0M81.9 50.1h0M76.2 35.8h0M77.0 38.7h0M83.5 84.4h0M81.8 45.6h0M80.6 63.4h0M79.3 68.8h0M56.3 39.0h0M73.2 46.1h0M97.8 46.8h0M85.7 45.6h0M99.9 66.2h0M70.4 52.1h0M68.9 67.6h0M92.2 38.2h0M102.5 58.5h0M92.9 50.1h0M99.3 35.5h0M56.2 30.5h0M81.5 61.9h0M108.6 44.9h0M85.9 62.6h0M72.6 71.8h0M70.8 69.3h0M94.3 44.3h0M123.9 45.4h0M96.5 75.5h0M85.9 63.5h0M100.4 60.8h0M106.5 54.8h0M67.2 46.7h0M66.7 72.7h0M85.0 43.7h0M88.4 42.6h0M86.6 40.5h0M75.1 71.6h0M73.9 68.7h0M72.9 85.0h0M93.2 42.8h0M88.2 22.4h0M102.5 55.2h0M78.0 43.9h0M75.5 43.6h0M113.1 59.3h0M70.0 59.1h0M121.1 45.0h0M64.8 67.2h0M108.7 37.7h0M97.1 46.4h0M75.8 49.7h0M79.7 40.5h0M82.7 53.4h0M59.8 50.5h0M64.3 62.9h0M69.2 57.1h0M84.8 47.4h0M79.2 59.6h0M94.9 58.8h0M103.5 49.7h0M72.3 56.1h0M81.9 56.7h0M83.6 76.3h0M66.7 57.8h0M91.0 54.5h0M97.5 40.3h0M89.1 50.3h0M95.0 46.5h0M78.1 36.4h0M99.0 53.0h0M94.7 25.5h0M75.1 45.0h0M92.9 35.5h0M70.5 25.8h0M86.3 57.6h0M90.5 41.8h0M88.7 45.6h0M95.8 67.6h0M125.9 41.7h0M92.4 75.7h0M72.6 39.7h0M72.9 53.5h0M120.6 88.9h0M58.4 62.8h0M80.9 40.1h0M82.5 51.6h0M62.6 73.4h0M84.0 80.4h0M90.1 57.9h0M105.2 35.1h0M115.8 52.9h0M80.4 57.3h0M86.4 53.6h0M100.7 55.6h0M96.7 45.4h0M95.4 60.2h0M97.2 50.4h0M102.0 47.2h0M74.4 47.1h0M88.9 72.1h0M115.3 42.4h0M106.7 57.5h0M105.6 52.2h0M74.5 46.8h0M94.5 42.4h0M99.6 45.8h0M90.5 53.0h0M98.7 45.0h0M98.3 58.7h0M82.9 47.8h0M99.5 61.8h0M88.7 57.2h0M76.2 76.5h0M69.1 77.6h0M120.6 40.4h0M82.1 64.6h0M105.7 27.5h0M86.6 50.4h0M63.8 66.8h0M95.0 35.5h0M68.2 70.8h0M64.9 71.8h0M80.7 72.0h0M81.6 43.7h0M80.6 53.0h0M81.3 59.0h0M108.1 49.2h0M101.5 54.6h0M79.8 68.9h0M71.0 66.6h0M78.8 55.6h0M54.9 79.0h0M92.4 51.4h0M86.3 56.5h0M121.2 61.4h0M67.5 34.4h0M118.3 63.9h0M62.3 55.0h0M117.7 54.2h0M103.8 36.9h0M79.6 60.5h0M74.7 78.8h0M63.2 59.7h0M71.2 60.7h0M82.4 62.6h0M98.3 60.9h0M65.4 36.7h0M107.9 34.3h0M73.2 40.2h0M109.1 60.5h0M95.5 54.0h0M74.2 61.2h0M63.0 61.2h0M78.7 38.5h0M101.3 37.3h0M101.3 52.2h0M60.3 70.0h0M81.2 50.9h0M70.4 70.0h0M74.7 58.7h0M70.2 40.9h0M65.9 59.0h0M105.0 51.7h0M113.2 59.6h0M102.2 56.0h0M89.6 58.6h0M73.3 66.6h0M124.3 54.5h0M97.7 67.6h0M75.7 57.8h0M115.7 51.6h0M72.4 60.8h0M70.6 58.0h0M60.8 73.6h0M94.8 57.7h0M119.6 61.5h0M64.1 23.6h0M78.9 78.7h0M91.7 36.0h0M81.9 77.7h0M76.3 55.3h0M86.7 80.1h0M92.0 33.3h0M68.2 70.0h0M84.0 49.2h0M77.4 84.3h0M83.4 56.0h0M102.4 62.9h0M104.9 40.7h0M68.9 46.3h0M75.7 40.5h0M81.1 68.8h0M106.2 56.8h0M101.5 65.3h0M93.5 52.3h0M61.5 86.0h0M55.6 58.2h0M65.3 54.3h0M109.8 62.4h0M94.2 50.4h0M61.0 76.4h0M100.7 31.4h0M93.7 46.1h0M97.0 48.2h0M81.4 61.2h0M93.7 41.4h0M63.2 36.7h0M101.7 44.6h0M86.9 44.7h0M74.6 30.7h0M76.3 76.5h0M114.8 35.3h0M87.5 43.8h0M109.7 52.4h0M80.8 23.4h0M63.4 51.1h0M89.0 56.8h0M87.0 50.2h0M102.3 42.9h0M97.8 59.2h0M71.3 75.9h0M93.8 56.1h0M101.7 56.5h0M120.8 54.5h0M103.1 47.8h0M58.7 42.4h0M99.1 44.8h0M111.0 46.2h0M72.6 48.5h0M93.7 72.2h0M86.1 46.7h0M105.9 59.7h0M78.9 37.7h0M65.4 44.0h0M65.1 69.4h0M98.5 41.0h0M114.0 51.6h0M90.3 58.6h0M109.3 55.2h0M63.4 32.6h0M108.1 65.3h0M114.9 27.5h0M105.4 59.2h0M102.4 55.7h0M96.9 56.6h0M87.5 41.1h0M90.7 59.6h0M96.1 53.7h0M85.9 81.7h0M110.9 46.4h0M81.1 52.9h0M84.2 47.8h0M108.9 50.6h0M57.4 55.1h0M95.9 46.7h0M79.8 35.8h0M94.5 43.9h0M70.1 65.2h0M71.8 61.4h0M90.4 27.5h0M62.9 73.9h0M80.0 45.4h0M78.8 47.0h0M83.2 66.8h0M65.8 43.0h0M68.6 33.8h0M92.0 70.8h0M70.1 76.4h0M89.8 40.1h0M109.5 36.6h0M105.9 33.9h0M73.9 87.6h0M67.3 47.2h0M65.1 71.6h0M97.2 59.0h0M82.6 42.0h0M100.7 28.4h0M80.5 62.3h0M120.0 43.6h0M96.1 69.4h0M96.5 55.2h0M108.7 27.1h0M75.1 56.3h0M107.7 64.4h0M117.7 30.9h0M102.8 58.7h0M105.4 29.3h0M60.6 68.4h0M64.8 64.4h0M95.7 66.8h0M84.2 48.5h0M80.8 88.6h0M89.6 53.7h0M108.0 60.2h0M97.5 71.3h0M88.3 59.4h0M66.6 64.3h0M70.4 52.5h0M65.9 50.3h0M89.7 31.7h0M75.3 77.1h0M93.4 70.2h0M96.3 43.2h0M75.6 43.3h0M84.4 39.9h0M85.4 45.1h0M95.3 57.4h0M89.8 52.8h0M114.7 52.1h0M118.2 58.1h0M90.7 25.5h0M95.0 37.1h0M106.7 51.8h0M83.7 42.3h0M116.7 60.9h0M76.7 46.4h0M114.5 49.9h0M87.6 39.6h0M73.6 81.8h0M63.7 67.6h0M56.4 63.1h0M88.6 53.8h0M72.5 49.5h0M91.9 37.7h0M94.7 56.3h0M69.8 79.4h0M89.5 65.0h0M64.9 27.1h0M71.5 85.3h0M83.8 85.2h0M105.5 77.3h0M90.9 56.3h0M97.1 78.1h0M93.9 49.8h0M71.3 75.9h0M108.2 56.9h0M80.3 43.0h0M72.8 32.1h0M102.9 67.6h0M75.0 90.2h0M61.5 53.2h0M125.8 45.9h0M77.1 62.2h0M110.8 58.0h0M113.3 51.6h0M100.7 33.5h0M93.8 45.4h0M90.8 46.7h0M125.1 33.5h0M64.8 34.7h0M92.4 42.2h0M96.0 40.6h0M79.1 24.0h0M83.9 53.6h0M77.0 39.0h0M85.1 24.8h0M69.0 52.8h0M96.6 61.9h0M94.5 36.4h0M84.1 36.2h0M125.6 47.1h0M81.5 70.0h0M74.1 54.2h0M65.2 47.7h0M87.6 57.0h0M67.2 86.6h0M81.9 36.6h0M67.3 60.6h0M76.7 72.8h0M72.7 70.6h0M93.1 57.2h0M89.7 60.6h0M93.9 33.9h0M90.1 39.8h0M94.5 45.5h0M94.2 58.1h0M98.3 35.4h0M113.8 67.9h0M77.7 56.0h0M111.9 46.8h0M83.7 44.8h0M87.5 36.9h0M81.8 48.1h0M95.0 30.6h0M74.6 51.1h0M104.0 60.0h0M106.3 35.4h0M75.1 74.7h0M82.1 65.4h0M82.8 66.2h0M102.3 54.2h0M92.2 54.3h0M87.8 77.4h0M95.9 53.9h0M66.7 62.5h0M115.0 70.5h0M101.4 66.6h0M82.6 51.8h0M107.7 67.0h0M87.1 62.5h0M111.8 49.0h0M98.9 40.2h0M98.5 47.6h0M79.1 53.7h0M61.0 68.5h0M68.4 72.4h0M95.6 25.1h0M71.2 68.7h0M81.8 48.4h0M87.4 70.8h0M87.7 50.2h0M109.2 60.8h0M86.3 35.4h0M92.5 39.7h0M102.3 25.0h0M78.8 77.2h0M126.4 42.3h0M82.2 48.9h0M68.1 75.4h0M118.1 42.0h0M83.2 75.1h0M95.1 52.3h0M75.7 50.3h0M101.7 39.5h0M103.0 27.6h0M68.1 76.5h0M79.0 82.3h0M104.8 56.4h0M100.1 41.2h0M99.9 52.1h0M67.3 68.1h0M105.7 54.5h0M96.5 42.9h0M75.9 40.4h0M68.1 49.9h0M77.9 71.1h0M82.2 82.5h0M72.3 79.9h0M106.5 53.3h0M73.9 66.3h0M92.4 49.1h0M98.7 64.7h0M91.4 34.9h0M88.3 49.5h0M77.7 47.3h0M70.2 60.7h0M83.1 68.1h0M60.7 58.8h0M80.7 51.3h0M107.6 47.4h0M68.6 57.6h0M86.3 54.6h0M59.6 57.0h0M77.0 49.0h0M101.1 33.3h0M76.0 62.5h0M79.4 50.8h0M93.4 28.1h0M92.8 61.7h0M55.5 54.9h0M75.3 63.8h0M83.6 33.1h0M72.7 51.2h0M70.6 57.6h0M79.0 58.8h0M82.6 49.6h0M104.2 45.9h0M99.0 87.6h0M74.5 50.3h0M73.5 69.6h0M82.3 82.4h0M92.1 41.0h0M67.4 58.3h0M79.3 74.1h0M98.1 57.0h0M102.8 47.8h0M65.8 73.8h0M118.9 47.0h0M101.0 54.9h0M87.1 80.8h0M64.5 67.3h0M96.8 71.1h0M74.2 81.0h0M62.0 42.8h0M108.8 75.7h0M73.5 29.6h0M110.6 38.4h0M71.9 46.5h0M88.1 43.1h0M73.4 73.2h0M100.2 60.3h0M58.4 54.4h0M90.8 63.8h0M79.5 56.1h0M73.7 66.9h0M78.4 59.1h0M75.1 62.4h0M99.7 42.8h0M86.4 58.2h0M113.4 61.6h0M93.5 44.3h0M72.8 42.8h0M57.1 68.8h0M97.9 62.6h0M101.8 39.8h0M102.3 41.0h0M102.8 64.2h0M95.2 54.2h0M59.0 82.2h0M72.3 58.0h0M60.9 27.1h0M121.5 47.8h0M82.2 64.2h0M65.9 55.2h0M104.7 50.3h0M77.6 85.6h0M81.4 45.1h0M94.7 50.9h0M110.5 45.4h0M110.3 49.3h0M70.9 68.3h0M87.1 50.1h0M56.0 47.4h0M111.4 45.9h0M104.4 44.5h0M120.2 57.5h0M90.6 48.6h0M84.9 48.0h0M122.1 56.9h0M99.2 44.6h0M95.8 42.2h0M62.0 73.2h0M93.5 44.4h0M67.1 48.0h0M76.6 39.6h0M115.4 71.7h0M96.0 43.6h0M75.4 46.8h0M83.5 62.8h0M78.6 49.7h0M78.4 27.1h0M82.0 49.0h0M74.9 68.3h0M68.9 39.3h0M54.2 29.3h0M78.5 52.8h0M100.4 48.4h0M89.7 67.9h0M93.3 57.4h0M80.3 72.2h0M94.8 68.5h0M84.4 73.1h0M56.6 63.8h0M84.9 60.4h0M74.4 58.2h0M125.7 34.5h0M63.6 52.2h0M69.8 62.5h0M109.2 49.5h0M100.3 47.0h0M72.6 85.0h0M74.2 80.5h0M86.0 25.1h0M93.0 44.8h0M121.2 50.6h0M87.4 39.9h0M116.6 42.5h0M66.3 44.3h0M73.1 85.6h0M76.7 68.7h0M104.1 77.5h0M117.8 39.5h0M75.5 68.0h0M78.5 63.1h0M71.1 39.3h0M89.6 66.6h0M85.8 47.1h0M102.9 48.5h0M110.3 38.1h0M97.9 61.1h0M108.1 37.9h0M96.7 40.7h0M82.2 49.9h0M102.1 51.2h0M69.3 57.9h0M106.8 65.9h0M109.0 43.4h0M107.3 46.5h0M66.4 71.9h0M106.9 66.4h0M78.5 61.6h0M71.2 71.6h0M80.8 63.7h0M77.8 47.2h0M72.6 68.0h0M62.6 62.9h0M88.3 55.1h0M56.2 70.2h0M90.0 39.4h0M64.1 81.8h0M88.9 53.0h0M91.7 79.1h0M100.6 47.1h0M66.9 75.1h0M112.1 52.5h0M84.6 34.3h0M95.4 22.8h0M76.8 66.2h0M63.1 38.7h0M104.6 52.5h0M72.8 62.4h0M99.1 68.8h0M59.0 59.0h0M57.7 78.0h0M77.7 81.4h0M74.1 41.8h0" fill="none" stroke="#000" stroke-width="0.75" stroke-linecap="square" stroke-opacity="0.3"/>
</g>
</g>
<path d="M64.2,57 C64,50.5 69.5,48 77,47.8 L89.5,47.6 C94.5,47.8 97,50.5 96.4,54 C95.8,57.2 90.5,58.8 84.5,60.8 C78.5,62.8 73.5,66.4 69.3,66.4 C65.2,66.4 64.3,61.5 64.2,57 Z" fill="none" stroke="#000" stroke-width="1.1"/>
<text class="t" x="81.4" y="36.2" font-size="7.6" text-anchor="middle" fill="#2a2a2a" font-weight="normal" >Blasts</text>
<text class="t" x="81.2" y="45.6" font-size="7.6" text-anchor="middle" fill="#2a2a2a" font-weight="normal" >62.1</text>
<rect x="53.2" y="21.5" width="74.3" height="73.8" fill="none" stroke="#000" stroke-width="1.3"/>
<path d="M50,28.7H53.2M50,45.4H53.2M50,65.5H53.2M50,78.7H53.2M50,91.5H53.2M51.6,40.37H53.2M51.6,37.43H53.2M51.6,35.35H53.2M51.6,33.73H53.2M51.6,32.4H53.2M51.6,31.29H53.2M51.6,30.32H53.2M51.6,29.46H53.2M51.6,59.45H53.2M51.6,55.91H53.2M51.6,53.4H53.2M51.6,51.45H53.2M51.6,49.86H53.2M51.6,48.51H53.2M51.6,47.35H53.2M51.6,46.32H53.2M51.6,68.75H53.2M51.6,72H53.2M51.6,75.25H53.2M51.6,78.5H53.2M51.6,81.75H53.2M51.6,85H53.2M51.6,88.25H53.2" stroke="#000" stroke-width="0.9" fill="none"/>
<rect x="50.2" y="77" width="3" height="3.4" fill="#000"/>
<text class="t" x="34.1" y="30.7" font-size="8.2" fill="#2a2a2a">10<tspan font-size="5.9" dy="-3.5">5</tspan></text>
<text class="t" x="34.1" y="47.4" font-size="8.2" fill="#2a2a2a">10<tspan font-size="5.9" dy="-3.5">4</tspan></text>
<text class="t" x="34.1" y="67.5" font-size="8.2" fill="#2a2a2a">10<tspan font-size="5.9" dy="-3.5">3</tspan></text>
<text class="t" x="43.2" y="80.7" font-size="8.2" text-anchor="end" fill="#2a2a2a" font-weight="normal" >0</text>
<text class="t" x="28.4" y="93.5" font-size="8.2" fill="#2a2a2a">&#8722;10<tspan font-size="5.9" dy="-3.5">3</tspan></text>
<path d="M54.1,95.3V98.3M56.86,95.3V96.9M59.62,95.3V96.9M62.38,95.3V96.9M65.14,95.3V96.9M67.9,95.3V98.3M70.66,95.3V96.9M73.42,95.3V96.9M76.18,95.3V96.9M78.94,95.3V96.9M81.7,95.3V98.3M84.46,95.3V96.9M87.22,95.3V96.9M89.98,95.3V96.9M92.74,95.3V96.9M95.5,95.3V98.3M98.26,95.3V96.9M101.02,95.3V96.9M103.78,95.3V96.9M106.54,95.3V96.9M109.3,95.3V98.3M112.06,95.3V96.9M114.82,95.3V96.9M117.58,95.3V96.9M120.34,95.3V96.9M123.1,95.3V98.3M125.86,95.3V96.9" stroke="#000" stroke-width="0.9" fill="none"/>
<text class="t" x="54.1" y="109.5" font-size="8" text-anchor="middle" fill="#2a2a2a" font-weight="normal" >0</text>
<text class="t" x="81.7" y="109.5" font-size="8" text-anchor="middle" fill="#2a2a2a" font-weight="normal" >100K</text>
<text class="t" x="109.3" y="109.5" font-size="8" text-anchor="middle" fill="#2a2a2a" font-weight="normal" >200K</text>
<text transform="translate(25,58.7) rotate(-90)" font-size="10.3" font-weight="bold" text-anchor="middle" fill="#2a2a2a" stroke="#2a2a2a" stroke-width="0.2" textLength="16.8" lengthAdjust="spacingAndGlyphs">CD45</text>
<text x="90.5" y="123.6" font-size="10.0" font-weight="bold" text-anchor="middle" fill="#2a2a2a" stroke="#2a2a2a" stroke-width="0.2" textLength="21.2" lengthAdjust="spacingAndGlyphs">SSC-A</text>
<clipPath id="d2"><rect x="53.7" y="138.3" width="73.1" height="72.6"/></clipPath>
<g clip-path="url(#d2)">
<path d="M86.5,171L89.5,166.5L95,164L103,162.3L105.8,163.5L106,171L105.2,177L100,179L93,178L88.5,175Z" fill="#000" fill-opacity="0.58" filter="url(#b2)"/>
<path d="M94,176L105.6,176L106.2,184L106.4,192L103,194L96,193L93.5,185Z" fill="#000" fill-opacity="0.25" filter="url(#b1)"/>
<ellipse cx="84" cy="188" rx="9" ry="4.5" transform="rotate(0 84 188)" fill="#000" fill-opacity="0.08" filter="url(#b2)"/>
<g filter="url(#b0)">
<path d="M97.5 169.7h0M100.5 167.0h0M102.7 179.7h0M93.1 176.5h0M104.9 177.1h0M104.6 191.4h0M104.5 164.2h0M91.3 167.9h0M103.2 190.0h0M98.3 169.3h0M90.3 171.7h0M100.8 175.0h0M96.0 172.8h0M100.1 184.1h0M96.6 179.4h0M93.7 170.4h0M96.3 163.8h0M102.9 165.5h0M99.6 176.5h0M92.7 168.6h0M92.1 166.5h0M88.1 172.1h0M102.4 173.2h0M98.6 178.4h0M104.2 182.8h0M101.8 178.0h0M100.2 175.0h0M102.0 170.3h0M91.0 166.5h0M99.7 184.8h0M102.1 165.0h0M93.8 165.9h0M104.9 168.7h0M97.4 184.1h0M100.7 170.4h0M92.9 170.8h0M104.9 174.1h0M95.5 170.4h0M93.7 169.2h0M100.0 162.2h0M100.6 170.5h0M92.3 171.9h0M100.3 167.1h0M90.8 173.3h0M87.7 171.8h0M97.4 165.1h0M105.7 176.8h0M93.8 173.1h0M105.2 165.4h0M102.6 178.0h0M104.4 179.3h0M95.8 176.4h0M102.4 173.4h0M98.8 169.1h0M96.2 177.2h0M100.3 190.0h0M96.2 176.8h0M92.7 167.2h0M103.9 175.3h0M92.1 176.9h0M101.6 166.9h0M104.6 168.9h0M94.1 177.8h0M89.9 168.5h0M102.8 158.5h0M103.8 164.2h0M97.8 169.8h0M105.5 189.2h0M99.6 177.6h0M97.1 191.5h0M100.7 178.0h0M101.1 172.0h0M90.9 171.5h0M98.7 189.4h0M104.6 190.5h0M95.2 186.6h0M93.3 170.3h0M96.5 172.3h0M97.6 174.2h0M102.1 182.8h0M99.4 167.5h0M101.5 162.8h0M100.2 191.5h0M100.8 179.9h0M96.0 164.6h0M96.4 173.7h0M97.6 185.6h0M105.4 172.7h0M99.2 189.2h0M90.5 174.0h0M99.2 171.6h0M102.6 187.8h0M96.7 171.7h0M98.9 188.5h0M102.6 188.2h0M104.3 163.5h0M99.8 174.1h0M98.1 176.8h0M95.4 179.1h0M90.8 166.6h0M95.1 176.7h0M95.6 178.0h0M98.0 165.1h0M101.3 164.7h0M100.2 176.9h0M89.0 170.9h0M88.5 170.0h0M105.5 164.7h0M97.7 164.9h0M104.4 169.2h0M100.4 170.0h0M105.0 175.6h0M98.9 165.3h0M105.6 182.4h0M95.9 189.2h0M96.6 166.8h0M100.4 188.2h0M99.6 167.7h0M94.8 164.9h0M97.2 180.5h0M103.9 179.9h0M96.8 185.4h0M101.7 165.7h0M99.2 168.2h0M93.4 174.8h0M94.0 185.5h0M89.8 171.2h0M104.7 175.6h0M101.2 171.1h0M103.3 169.1h0M90.6 172.1h0M97.9 191.8h0M94.1 168.0h0M90.6 169.1h0M101.1 172.4h0M89.4 171.6h0M96.3 164.5h0M104.9 175.2h0M97.0 176.6h0M97.4 191.4h0M101.7 188.9h0M99.8 179.0h0M100.4 181.2h0M90.5 172.1h0M97.9 174.7h0M98.5 167.0h0M103.9 176.6h0M101.2 187.1h0M96.7 177.3h0M101.2 176.2h0M94.3 185.2h0M106.2 186.5h0M99.9 156.1h0M97.3 164.0h0M97.5 175.0h0M95.6 191.5h0M103.4 175.9h0M97.6 176.0h0M92.6 167.8h0M105.7 188.1h0M102.9 176.5h0M92.4 166.7h0M97.3 184.4h0M98.6 180.7h0M99.8 179.3h0M98.7 169.8h0M103.1 164.0h0M89.4 167.5h0M101.7 164.7h0M106.2 173.7h0M106.1 175.8h0M99.8 167.5h0M95.0 176.5h0M98.5 181.5h0M102.5 167.9h0M99.8 166.5h0M96.9 185.9h0M102.1 174.2h0M102.7 178.0h0M101.7 177.4h0M90.7 171.1h0M102.1 170.3h0M102.6 183.5h0M100.9 177.8h0M97.9 176.3h0M103.4 184.9h0M93.7 184.0h0M103.9 171.0h0M100.7 183.8h0M94.1 168.1h0M95.7 187.5h0M101.7 184.3h0M96.8 176.7h0M95.1 186.9h0M90.5 164.0h0M104.8 173.8h0M95.3 178.2h0M102.3 173.8h0M101.7 177.2h0M94.5 165.9h0M99.0 173.2h0M104.3 190.8h0M99.8 169.2h0M100.1 177.8h0M88.9 172.0h0M95.0 173.0h0M104.0 176.6h0M93.8 167.2h0M105.8 188.6h0M101.2 192.9h0M96.8 167.8h0M93.2 175.4h0M99.5 165.8h0M95.4 165.0h0M96.0 186.1h0M103.4 177.4h0M97.8 168.8h0M100.9 162.6h0M102.6 182.9h0M96.2 167.4h0M94.7 182.3h0M97.4 173.8h0M102.0 193.1h0M103.2 174.8h0M100.7 167.9h0M101.5 170.2h0M104.0 191.4h0M99.6 179.7h0M99.9 169.6h0M99.5 167.5h0M105.0 189.0h0M99.7 169.3h0M97.8 192.6h0M102.0 172.1h0M96.3 184.6h0M95.0 180.4h0M94.6 167.8h0M97.5 178.5h0M102.1 180.1h0M98.5 169.3h0M102.4 191.7h0M100.8 192.6h0M107.1 171.6h0M97.9 177.7h0M101.7 174.0h0M97.7 191.3h0M93.1 170.5h0M101.2 192.8h0M99.1 171.7h0M105.0 186.0h0M98.7 165.5h0M97.4 167.1h0M104.0 186.1h0M99.6 177.6h0M102.3 165.3h0M98.1 165.2h0M100.9 190.1h0M98.4 164.6h0M100.4 172.6h0M103.0 170.7h0M103.5 166.2h0M92.3 172.9h0M94.8 172.8h0M102.0 181.7h0M104.7 175.5h0M96.2 176.4h0M102.9 170.8h0M94.0 164.6h0M98.1 190.0h0M102.6 173.7h0M94.7 161.6h0M105.8 168.3h0M101.1 183.2h0M96.6 168.3h0M95.0 170.1h0M90.6 174.7h0M104.5 165.1h0M91.6 174.7h0M93.4 173.9h0M104.8 189.5h0M95.0 184.1h0M95.5 178.3h0M105.3 189.1h0M100.5 188.5h0M98.8 172.4h0M100.5 170.7h0M93.3 173.2h0M100.0 192.5h0M100.8 185.7h0M101.5 185.2h0M95.8 161.8h0M98.3 166.8h0M97.9 161.8h0M95.4 184.3h0M90.8 175.8h0" fill="none" stroke="#000" stroke-width="0.8" stroke-linecap="square" stroke-opacity="0.42"/>
<path d="M104.7 182.7h0M101.0 162.8h0M97.4 188.4h0M102.0 175.6h0M98.0 175.4h0M99.0 168.5h0M102.7 170.3h0M102.8 173.2h0M100.3 192.4h0M96.6 178.2h0M100.5 176.0h0M97.5 164.1h0M93.4 175.0h0M91.1 170.7h0M102.0 192.0h0M105.7 178.5h0M104.1 166.9h0M97.4 171.6h0M92.6 172.0h0M99.3 172.7h0M99.5 170.3h0M104.1 168.7h0M97.3 165.3h0M100.9 183.0h0M96.5 171.1h0M104.8 178.6h0M95.8 183.8h0M104.8 174.9h0M99.0 166.7h0M102.5 167.1h0M99.4 188.1h0M98.9 163.2h0M100.1 193.0h0M97.6 176.8h0M93.5 165.6h0M98.7 182.2h0M100.9 167.1h0M89.4 167.5h0M88.8 169.3h0M105.5 174.2h0M100.2 177.4h0M105.2 167.5h0M105.3 184.4h0M92.8 174.3h0M101.7 176.2h0M90.9 168.9h0M105.9 184.8h0M94.3 181.8h0M95.9 186.4h0M97.3 177.1h0M94.4 185.1h0M93.6 168.0h0M97.0 185.7h0M95.8 168.8h0M90.1 176.6h0M89.6 174.0h0M93.4 162.6h0M98.2 192.7h0M104.0 173.2h0M88.1 170.7h0M95.1 187.9h0M100.2 176.5h0M101.8 165.8h0M101.6 170.7h0M104.4 171.0h0M103.6 191.1h0M101.3 176.6h0M101.8 169.4h0M96.0 181.5h0M94.6 185.3h0M104.2 191.4h0M93.8 167.5h0M92.2 168.6h0M99.0 169.8h0M99.7 180.5h0M102.7 168.2h0M99.8 172.8h0M105.5 165.1h0M97.5 177.1h0M103.3 169.2h0M97.8 179.0h0M103.2 167.1h0M90.9 172.2h0M90.4 170.1h0M103.5 187.6h0M91.9 174.6h0M97.5 176.6h0M97.4 176.9h0M101.7 176.5h0M93.3 169.9h0M101.4 180.1h0M100.0 171.2h0M95.7 173.0h0M89.7 179.0h0M101.9 192.3h0M100.7 171.2h0M102.6 183.8h0M96.4 163.8h0M96.3 184.8h0M99.2 167.4h0M90.0 175.3h0M95.1 188.8h0M100.0 174.8h0M103.6 179.5h0M97.4 176.7h0M96.1 172.2h0M88.8 174.4h0M100.3 178.0h0M99.6 170.2h0M94.6 174.0h0M101.1 166.3h0M103.1 167.8h0M100.0 165.6h0M104.4 191.3h0M100.9 180.1h0M104.6 187.4h0M97.4 174.7h0M104.9 180.8h0M104.2 172.2h0M94.4 173.7h0M105.5 188.5h0M88.9 171.3h0M101.9 190.9h0M103.3 170.1h0M104.3 174.6h0M99.4 186.4h0M105.5 181.3h0M104.9 171.4h0M98.2 180.4h0M99.5 175.4h0M99.9 181.8h0M95.0 167.5h0M92.1 170.3h0M103.8 174.5h0M102.8 181.1h0M99.0 182.3h0M106.1 183.6h0M103.4 183.0h0M105.6 184.5h0M104.0 186.8h0M90.7 176.2h0M101.8 167.0h0M97.6 189.8h0M89.6 172.8h0M96.9 177.4h0M99.2 166.4h0M99.8 168.7h0M105.3 192.1h0M102.7 177.6h0M98.6 175.8h0M105.6 190.1h0M96.3 169.6h0M99.2 178.4h0M89.4 188.1h0M87.3 175.4h0M95.9 160.5h0M100.2 186.4h0M94.9 167.8h0M95.3 176.7h0M104.0 178.1h0M105.2 178.1h0M94.1 165.7h0M96.0 172.8h0M95.0 178.7h0M97.6 174.0h0M98.8 173.1h0M96.1 170.7h0M95.2 181.4h0M92.3 176.2h0M96.9 177.4h0M95.3 178.2h0M94.9 178.5h0M104.8 168.3h0M97.7 164.5h0M98.5 171.0h0M104.5 164.8h0M94.8 170.9h0M105.7 172.5h0M89.9 169.5h0M92.6 169.3h0M102.0 173.1h0M97.1 169.6h0M95.5 168.9h0M104.8 185.7h0M100.3 187.7h0M101.5 181.9h0M99.1 193.4h0M97.3 185.2h0M104.4 176.2h0M98.7 175.5h0M105.7 178.0h0M99.7 169.7h0M99.8 163.8h0M92.9 177.1h0M89.8 173.8h0M95.9 192.2h0M101.8 191.2h0M99.9 174.3h0M101.1 168.4h0M97.0 160.0h0M101.5 176.6h0M89.2 174.7h0M94.4 178.4h0M95.0 170.3h0M104.3 177.6h0M91.2 170.2h0M103.1 162.7h0M93.6 185.3h0M94.9 165.5h0M94.4 166.7h0M105.3 176.0h0M105.8 186.1h0M96.7 192.8h0M97.1 165.3h0M96.5 172.6h0M94.0 173.1h0M95.2 176.7h0M98.7 173.3h0M103.6 193.2h0M96.4 169.6h0M104.0 183.9h0M95.5 178.1h0M94.2 171.3h0M88.4 174.1h0M97.8 169.9h0M102.1 187.2h0M102.6 163.7h0M93.7 164.9h0M92.5 170.3h0M97.8 173.6h0M96.7 173.5h0M94.3 185.9h0M102.5 164.1h0M101.4 166.7h0M100.5 190.4h0M98.7 170.7h0M106.3 189.3h0M101.2 163.2h0M93.3 170.8h0M99.8 171.9h0M100.0 169.6h0M100.3 163.4h0M99.2 170.5h0M95.7 168.0h0M103.4 186.6h0M96.1 163.8h0M96.2 182.3h0M102.8 173.3h0M102.3 177.4h0M94.9 173.8h0M97.8 164.2h0M104.6 166.4h0M104.4 176.8h0M94.6 187.8h0M97.7 184.5h0M99.7 178.3h0M97.9 178.5h0M104.5 188.1h0M90.0 168.8h0M97.3 173.7h0M92.4 173.9h0M91.4 172.8h0M105.1 172.9h0M97.3 170.2h0M90.0 174.1h0M102.3 185.5h0M92.3 173.3h0M95.6 177.0h0M100.4 163.0h0M101.8 163.0h0M101.2 169.7h0M103.7 172.5h0M97.6 165.0h0M93.9 184.0h0M100.4 191.6h0M91.9 173.6h0M99.1 174.2h0M96.6 176.3h0M102.4 177.6h0M101.4 169.3h0M99.6 174.3h0M94.9 168.7h0M89.4 171.5h0M103.2 186.2h0M105.4 164.3h0M102.3 168.0h0M103.5 171.4h0M94.1 185.6h0M101.9 179.5h0M94.2 186.0h0M105.7 191.6h0M103.9 181.8h0M86.7 163.1h0M92.1 172.3h0M104.8 163.3h0" fill="none" stroke="#000" stroke-width="0.8" stroke-linecap="square" stroke-opacity="0.42"/>
<path d="M96.6 162.7h0M95.2 174.6h0M103.9 171.1h0M102.4 168.5h0M93.4 177.5h0M93.7 175.5h0M92.1 173.0h0M104.6 175.1h0M98.4 188.0h0M102.5 176.2h0M95.7 176.4h0M94.3 170.1h0M102.2 192.4h0M100.5 166.1h0M99.8 176.1h0M87.2 173.6h0M93.3 165.7h0M105.2 178.7h0M91.7 165.7h0M99.1 177.0h0M87.2 170.1h0M98.2 179.8h0M94.1 175.8h0M91.8 171.7h0M100.0 167.3h0M94.4 176.4h0M96.7 170.1h0M104.0 191.5h0M101.6 175.3h0M93.1 166.8h0M94.9 165.5h0M98.2 171.3h0M98.2 188.3h0M105.7 167.9h0M103.0 179.2h0M96.8 172.0h0M94.5 166.5h0M96.8 172.2h0M99.2 186.8h0M97.6 178.9h0M104.2 179.9h0M100.7 167.2h0M93.9 177.2h0M99.9 176.1h0M102.4 192.3h0M99.5 169.9h0M100.7 168.7h0M90.3 168.7h0M104.6 165.5h0M101.7 190.5h0M104.6 169.0h0M103.5 188.8h0M102.4 174.8h0M99.2 171.3h0M94.0 175.9h0M93.0 177.6h0M103.7 170.7h0M100.1 172.2h0M105.3 178.1h0M98.9 173.0h0M100.6 172.2h0M96.7 167.5h0M96.3 170.3h0M94.3 179.2h0M102.2 184.3h0M94.0 168.6h0M98.7 168.6h0M95.0 178.6h0M102.1 178.6h0M105.3 169.2h0M99.0 171.4h0M99.9 176.0h0M95.3 189.0h0M99.7 168.7h0M98.0 173.5h0M94.9 165.8h0M103.7 161.4h0M95.4 168.1h0M87.2 168.6h0M102.8 172.3h0M94.2 186.9h0M104.5 167.4h0M99.7 188.7h0M96.7 182.1h0M95.7 164.1h0M101.2 183.0h0M100.5 169.0h0M103.9 184.4h0M91.4 170.1h0M100.2 176.7h0M105.2 174.9h0M94.4 180.2h0M102.6 176.2h0M99.5 190.2h0M86.8 163.4h0M87.1 170.5h0M101.0 180.9h0M104.6 178.7h0M100.6 182.5h0M91.9 172.7h0M100.4 175.1h0M91.8 168.1h0M98.3 192.7h0M99.2 176.0h0M98.7 182.7h0M102.7 173.1h0M104.5 187.3h0M103.5 180.3h0M98.6 176.8h0M97.6 177.0h0M105.6 164.3h0M90.5 164.6h0M98.7 183.7h0M103.5 168.8h0M103.3 175.5h0M105.1 176.5h0M91.2 172.3h0M98.9 180.8h0M97.8 178.0h0M100.3 172.2h0M98.9 164.5h0M95.1 170.0h0M89.0 174.1h0M105.9 176.0h0M105.8 188.4h0M105.8 170.2h0M92.5 165.3h0M104.7 177.2h0M94.2 172.3h0M97.5 175.0h0M95.9 163.9h0M103.9 192.5h0M105.5 176.9h0M101.7 165.2h0M97.2 164.2h0M100.3 177.6h0M97.3 178.5h0M97.4 187.8h0M94.7 180.0h0M104.4 180.1h0M96.7 172.6h0M101.2 168.8h0M104.9 191.7h0M100.7 168.3h0M96.5 192.0h0M94.5 168.2h0M97.5 172.0h0M94.8 174.4h0M93.7 169.8h0M97.9 186.4h0M95.3 180.2h0M100.4 178.0h0M105.9 171.1h0M102.9 177.0h0M105.5 165.3h0M98.5 165.8h0M95.9 186.8h0M92.3 166.7h0M99.2 164.2h0M99.7 167.5h0M103.6 174.4h0M99.4 177.6h0M99.3 174.2h0M96.7 177.5h0M88.9 173.4h0M92.1 171.5h0M89.7 175.8h0M105.7 167.9h0M97.5 186.4h0M103.2 178.0h0M95.4 167.1h0M104.9 173.3h0M101.5 162.8h0M105.5 172.4h0M100.8 165.9h0M98.5 182.9h0M101.2 170.9h0M103.2 192.6h0M100.8 177.0h0M105.5 165.7h0M102.5 178.0h0M98.3 186.3h0M92.8 170.6h0M97.4 184.6h0M102.5 172.4h0M91.7 170.8h0M103.2 167.0h0M97.5 189.2h0M105.4 187.8h0M97.0 169.4h0M92.0 173.4h0M98.9 183.0h0M90.4 175.8h0M102.2 162.9h0M94.5 163.8h0M90.9 164.7h0M96.8 181.6h0M100.1 175.1h0M105.4 172.5h0M95.3 167.5h0M98.3 167.3h0M96.2 180.6h0M94.4 177.3h0M99.4 173.5h0M99.6 168.8h0M97.8 166.9h0M98.4 178.0h0M103.7 186.4h0M95.5 170.0h0M100.0 185.5h0M96.4 171.7h0M100.5 168.7h0M102.1 162.1h0M96.8 177.7h0M94.4 174.4h0M95.0 178.1h0M96.3 178.4h0M97.6 168.3h0M104.9 165.1h0M93.4 168.1h0M105.7 167.0h0M98.1 186.8h0M93.8 166.8h0M96.4 173.5h0M103.0 189.5h0M93.7 176.6h0M103.5 178.6h0M105.0 173.1h0M90.4 173.4h0M96.4 168.8h0M89.6 174.3h0M105.1 163.7h0M93.7 183.7h0M105.5 190.6h0M99.1 182.3h0M97.5 176.8h0M101.2 163.6h0M99.7 183.8h0M90.8 175.3h0M86.9 173.7h0M96.5 173.0h0M92.3 171.5h0M96.9 192.8h0M104.0 165.9h0M102.3 170.3h0M96.3 166.5h0M95.6 179.9h0M97.9 182.0h0M97.4 170.3h0M95.1 171.6h0M89.8 168.4h0M93.4 175.0h0M94.1 177.0h0M97.0 162.6h0M95.4 168.5h0M97.8 165.6h0M91.3 170.8h0M99.2 193.0h0M99.4 163.3h0M97.3 174.6h0M106.0 185.6h0M97.4 164.1h0M99.4 184.1h0M96.6 169.0h0M97.5 170.5h0M91.1 168.2h0M96.9 186.5h0M100.8 175.8h0M96.0 168.2h0M97.4 166.0h0M101.3 170.5h0M99.2 171.3h0M98.0 178.2h0M100.8 166.5h0M100.8 184.0h0M106.1 187.6h0M98.5 175.8h0M99.9 176.3h0M96.9 171.2h0M101.1 168.6h0M105.4 173.0h0M102.1 182.5h0M98.7 179.6h0M105.3 166.7h0M90.0 168.8h0M100.0 189.4h0M102.8 182.8h0M89.8 168.2h0M100.7 177.5h0M101.0 187.8h0M104.1 188.5h0M92.0 169.1h0M103.6 167.5h0M94.2 182.2h0M94.7 162.3h0" fill="none" stroke="#000" stroke-width="0.8" stroke-linecap="square" stroke-opacity="0.42"/>
<path d="M103.3 177.2h0M96.8 176.2h0M105.5 170.4h0M103.4 175.3h0M100.0 178.5h0M103.9 184.0h0M105.2 184.6h0M90.4 166.3h0M95.7 165.5h0M88.2 175.1h0M100.0 171.9h0M90.9 171.1h0M92.1 175.7h0M99.0 167.3h0M100.1 177.2h0M100.9 186.3h0M96.3 167.5h0M90.6 167.7h0M97.3 160.5h0M90.5 173.6h0M102.0 179.3h0M100.5 167.0h0M90.6 174.2h0M91.8 169.5h0M96.0 171.1h0M90.5 171.3h0M97.6 176.8h0M92.6 177.0h0M105.7 178.4h0M101.9 186.1h0M95.9 180.4h0M99.1 178.2h0M99.8 177.9h0M100.2 186.7h0M101.0 169.1h0M92.9 175.7h0M98.3 182.7h0M102.5 164.5h0M99.9 183.7h0M103.7 174.0h0M100.0 173.1h0M96.2 176.4h0M99.3 181.5h0M105.5 167.6h0M89.7 169.0h0M96.3 176.2h0M101.4 184.6h0M103.3 175.4h0M103.6 186.4h0M104.7 187.6h0M97.9 172.7h0M102.0 171.3h0M103.4 190.1h0M101.0 178.1h0M103.2 166.0h0M104.5 167.0h0M103.2 173.3h0M92.2 168.3h0M88.3 168.7h0M97.4 170.8h0M97.0 166.2h0M101.7 173.1h0M98.8 192.1h0M99.2 177.9h0M102.4 176.0h0M102.0 186.9h0M99.6 171.0h0M98.2 169.8h0M100.6 173.5h0M100.6 189.2h0M92.9 166.1h0M99.6 176.0h0M99.8 173.3h0M99.2 178.1h0M94.2 173.6h0M95.1 172.7h0M88.5 172.8h0M92.0 170.2h0M96.6 164.4h0M95.1 180.1h0M98.3 175.5h0M100.5 179.0h0M95.6 174.8h0M93.6 176.5h0M104.9 190.5h0M94.8 175.8h0M101.3 186.2h0M93.8 178.1h0M91.6 167.7h0M104.1 175.0h0M91.6 172.4h0M105.5 187.5h0M97.6 181.5h0M105.2 178.2h0M99.0 166.1h0M101.8 175.4h0M91.2 166.8h0M100.9 179.5h0M98.3 193.1h0M95.9 191.9h0M87.4 171.6h0M96.5 159.0h0M103.2 181.1h0M100.2 188.5h0M95.5 167.9h0M97.0 180.0h0M105.8 189.6h0M100.5 174.3h0M102.4 176.9h0M100.8 180.1h0M96.4 164.3h0M105.7 184.7h0M97.6 174.2h0M96.3 171.6h0M95.3 189.5h0M97.2 174.0h0M100.2 166.2h0M92.5 173.3h0M88.4 173.9h0M100.9 176.3h0M102.7 179.6h0M94.7 169.3h0M96.3 165.9h0M100.8 186.4h0M100.9 179.5h0M92.3 169.7h0M104.6 185.5h0M93.7 183.0h0M96.3 164.4h0M100.3 162.9h0M97.3 175.4h0M96.6 191.2h0M101.5 167.3h0M96.8 177.0h0M99.3 167.5h0M97.9 163.6h0M98.1 170.9h0M105.6 162.8h0M104.0 169.0h0M105.2 168.9h0M97.6 190.4h0M92.6 167.8h0M95.0 179.3h0M97.6 184.5h0M95.5 181.8h0M93.7 169.3h0M98.0 174.6h0M90.5 173.1h0M92.3 172.3h0M91.2 166.7h0M94.7 166.4h0M93.4 169.1h0M95.7 172.5h0M99.4 172.4h0M95.7 175.4h0M98.1 178.3h0M97.9 171.4h0M95.2 177.3h0M93.9 182.5h0M94.3 180.1h0M102.5 167.7h0M92.9 168.7h0M99.5 174.1h0M90.8 175.4h0M96.0 167.7h0M91.3 169.0h0M102.9 171.7h0M93.6 174.9h0M102.4 169.4h0M91.9 161.6h0M104.8 173.3h0M100.8 167.9h0M104.6 188.8h0M102.4 178.6h0M94.4 177.5h0M89.5 175.6h0M96.9 170.5h0M98.4 177.5h0M105.1 175.3h0M90.5 172.9h0M99.0 168.7h0M98.8 173.1h0M104.5 185.4h0M99.1 169.5h0M105.4 179.8h0M98.7 169.2h0M100.0 178.0h0M88.6 174.0h0M105.1 188.4h0M103.0 164.4h0M99.7 169.0h0M99.2 178.0h0M98.9 176.6h0M98.5 177.0h0M95.2 180.3h0M104.3 172.1h0M99.0 168.5h0M99.7 168.5h0M102.5 187.9h0M89.5 173.5h0M104.9 177.8h0M101.2 173.1h0M98.5 182.6h0M95.0 177.3h0M97.1 183.4h0M97.6 169.6h0M102.6 178.9h0M105.1 178.8h0M98.1 178.6h0M104.4 163.1h0M98.3 170.2h0M104.9 163.5h0M95.0 168.1h0M98.9 172.5h0M104.8 177.1h0M97.6 164.7h0M98.5 167.7h0M105.4 173.4h0M98.2 166.4h0M102.3 193.5h0M95.9 169.3h0M93.1 170.8h0M104.6 186.3h0M105.1 179.6h0M101.6 177.9h0M103.0 184.9h0M100.0 165.4h0M105.0 189.1h0M97.0 192.1h0M97.5 175.3h0M98.5 175.8h0M96.8 167.5h0M97.9 187.1h0M104.9 186.0h0M97.3 166.6h0M94.4 182.3h0M89.5 175.6h0M102.3 172.2h0M96.9 192.6h0M98.1 170.7h0M100.5 182.9h0M98.1 169.1h0M104.3 175.6h0M96.5 191.6h0M98.7 182.9h0M98.9 167.0h0M92.5 167.0h0M96.1 188.9h0M97.1 170.2h0M97.1 164.2h0M98.7 176.9h0M94.1 177.5h0M103.1 193.9h0M94.0 179.5h0M100.2 174.3h0M103.4 191.9h0M101.7 191.1h0M101.5 193.5h0M87.0 171.4h0M90.7 168.3h0M98.2 172.5h0M96.2 172.0h0M94.6 181.9h0M104.1 187.4h0M92.4 166.9h0M102.7 173.9h0M104.3 180.6h0M105.0 181.4h0M105.2 164.4h0M97.6 174.0h0M94.8 176.6h0M101.2 164.5h0M99.6 170.5h0M105.4 186.0h0M101.1 169.9h0M100.5 165.6h0M103.5 189.2h0M97.4 176.7h0M94.9 176.4h0M105.4 174.3h0M101.6 174.8h0M90.8 169.8h0M95.5 188.3h0M96.3 171.5h0M105.8 168.9h0M100.5 192.5h0M105.6 191.6h0M101.3 173.9h0M92.1 171.8h0M105.0 179.2h0M95.1 185.1h0M91.3 166.6h0M101.5 174.3h0M98.1 186.4h0M97.5 175.5h0" fill="none" stroke="#000" stroke-width="0.8" stroke-linecap="square" stroke-opacity="0.42"/>
</g>
<g filter="url(#b0)">
<path d="M86.2 189.8h0M81.0 187.0h0M77.9 188.3h0M89.8 186.2h0M88.9 185.3h0M86.7 185.1h0M84.7 183.5h0M102.7 177.5h0M74.4 173.5h0M101.1 152.4h0M78.9 193.2h0M92.6 188.8h0M77.5 187.1h0M98.8 188.8h0M93.2 172.2h0M96.2 159.0h0M93.4 183.8h0M73.2 188.5h0M91.6 189.8h0M91.8 186.8h0M93.1 177.9h0M91.1 192.8h0M97.2 176.4h0M78.1 193.0h0M90.4 157.8h0M86.8 191.5h0M79.8 184.1h0M76.1 190.1h0M81.1 183.9h0M80.5 190.0h0M94.4 193.0h0M104.0 185.2h0M91.7 155.5h0M91.1 184.2h0M75.7 192.0h0M81.3 181.4h0M81.0 189.3h0M80.1 185.6h0M93.8 193.4h0M97.0 192.3h0M79.1 188.4h0M112.8 184.1h0M82.1 190.6h0M83.1 168.8h0M95.3 173.3h0M84.2 182.0h0M85.6 187.5h0M83.0 185.3h0M80.2 166.2h0M84.1 183.5h0M78.6 182.5h0M84.2 183.5h0M80.4 187.8h0M76.9 189.4h0M76.6 187.4h0M85.8 186.5h0M81.4 158.9h0M85.9 190.4h0M103.3 171.5h0M86.1 182.1h0M78.1 191.7h0M84.8 186.5h0M94.5 162.6h0M74.7 181.4h0M82.2 189.1h0M92.1 185.8h0M90.8 193.4h0M92.7 188.8h0M106.9 155.2h0M84.4 188.5h0M82.6 181.7h0M85.9 194.9h0M73.7 187.9h0M87.8 184.7h0M87.0 185.3h0M88.6 184.6h0M74.3 184.4h0M90.9 188.6h0M81.2 190.0h0M85.0 186.3h0M85.1 177.7h0M87.5 188.0h0M90.8 187.6h0M79.8 180.6h0M72.2 191.1h0M82.2 185.2h0M84.6 183.9h0M80.0 188.6h0M84.2 184.7h0M91.9 188.4h0M91.4 187.1h0M90.7 185.7h0M114.7 173.3h0M110.0 173.7h0M92.5 186.8h0M97.1 171.9h0M79.8 186.3h0M92.5 177.1h0M97.8 185.7h0M87.5 165.2h0M79.9 186.2h0M74.4 194.3h0M101.1 165.1h0M92.5 195.0h0M80.7 183.2h0M87.5 187.8h0M77.3 186.7h0M75.9 186.3h0M86.5 194.9h0M90.8 189.3h0M77.3 187.7h0M83.5 197.3h0M104.7 172.6h0M87.4 186.4h0M76.2 187.2h0M90.0 170.0h0M85.9 167.8h0M77.2 197.3h0M91.8 190.6h0M91.8 192.4h0M107.3 180.3h0M81.0 185.8h0M82.5 185.8h0M79.0 191.5h0M83.5 181.3h0M81.0 178.8h0M87.3 188.3h0M86.2 188.7h0M76.1 191.1h0M77.7 187.9h0M103.2 174.9h0M92.8 164.7h0M106.2 174.0h0M85.4 181.7h0M89.6 187.1h0M110.8 172.4h0M83.2 188.1h0M80.0 186.1h0M93.3 187.1h0M94.4 188.3h0M67.8 189.3h0M82.5 186.9h0M85.8 187.8h0M89.5 169.1h0M81.0 184.3h0M91.7 170.1h0M93.7 167.5h0M85.5 190.9h0M72.2 189.6h0M85.7 190.1h0M92.9 161.5h0M88.4 186.3h0M86.4 178.1h0M78.1 189.8h0M80.9 192.2h0M81.5 190.5h0M92.9 175.6h0M89.9 197.7h0M78.8 182.5h0M99.1 178.8h0M98.2 165.4h0M97.4 177.0h0M96.3 183.5h0M78.9 187.4h0M87.2 181.5h0M77.5 189.1h0M71.0 191.4h0M88.0 188.4h0M72.7 190.1h0M94.1 184.7h0M80.4 171.9h0M92.0 173.3h0M90.4 182.8h0M87.4 185.3h0M83.5 184.6h0M94.7 184.5h0M86.8 190.9h0M101.2 179.8h0M70.7 187.5h0M85.7 190.9h0M74.0 193.1h0M68.0 183.3h0M80.5 187.9h0M91.4 184.3h0M85.9 181.8h0M77.1 189.3h0M78.6 192.1h0M81.6 196.7h0M73.1 174.0h0M82.9 191.7h0M80.1 187.6h0M85.2 172.0h0M82.0 190.2h0M80.4 189.1h0M92.2 168.7h0M102.5 166.3h0M90.5 183.8h0M85.7 181.8h0M96.7 190.8h0M82.1 187.0h0M96.6 190.6h0M82.2 186.0h0M106.2 179.1h0M85.1 191.3h0M101.8 184.7h0M84.2 183.0h0M81.3 183.1h0M92.2 178.6h0M85.5 183.8h0M89.1 191.5h0M100.8 176.7h0M78.0 185.9h0M85.1 171.6h0M84.6 190.2h0M79.7 189.5h0M87.6 190.9h0M110.6 164.3h0M94.0 189.7h0M81.1 184.7h0M78.6 197.5h0M73.6 168.9h0M90.0 188.5h0M98.2 163.5h0M88.7 183.4h0M93.8 189.3h0M99.9 188.3h0M78.5 189.3h0M77.6 185.1h0M97.0 182.7h0M91.0 186.4h0M82.8 150.9h0M95.9 167.5h0M85.7 187.1h0M89.6 180.2h0M85.7 194.1h0M88.1 185.2h0M95.5 184.6h0M96.4 172.5h0M77.6 181.6h0M93.2 186.9h0" fill="none" stroke="#000" stroke-width="0.75" stroke-linecap="square" stroke-opacity="0.3"/>
</g>
</g>
<path d="M73.5,137.7V211.5M53.1,183.9H127.4" stroke="#000" stroke-width="1.0"/>
<rect x="53.1" y="137.7" width="74.3" height="73.8" fill="none" stroke="#000" stroke-width="1.3"/>
<text class="t" x="56.3" y="145" font-size="5.4" text-anchor="start" fill="#2a2a2a">Q1</text>
<text class="t" x="56.3" y="151.9" font-size="5.4" text-anchor="start" fill="#2a2a2a">0.030</text>
<text class="t" x="123.8" y="145" font-size="5.4" text-anchor="end" fill="#2a2a2a">Q2</text>
<text class="t" x="123.8" y="151.9" font-size="5.4" text-anchor="end" fill="#2a2a2a">83.2</text>
<text class="t" x="56.3" y="202.2" font-size="5.4" text-anchor="start" fill="#2a2a2a">Q4</text>
<text class="t" x="123.8" y="202.2" font-size="5.4" text-anchor="end" fill="#2a2a2a">Q3</text>
<text class="t" x="56.3" y="208.9" font-size="5.4" text-anchor="start" fill="#2a2a2a">0.67</text>
<text class="t" x="123.8" y="208.9" font-size="5.4" text-anchor="end" fill="#2a2a2a">16.1</text>
<path d="M49.9,144.9H53.1M49.9,161.6H53.1M49.9,181.7H53.1M49.9,194.9H53.1M49.9,207.7H53.1M51.5,156.57H53.1M51.5,153.63H53.1M51.5,151.55H53.1M51.5,149.93H53.1M51.5,148.6H53.1M51.5,147.49H53.1M51.5,146.52H53.1M51.5,145.66H53.1M51.5,175.65H53.1M51.5,172.11H53.1M51.5,169.6H53.1M51.5,167.65H53.1M51.5,166.06H53.1M51.5,164.71H53.1M51.5,163.55H53.1M51.5,162.52H53.1M51.5,184.95H53.1M51.5,188.2H53.1M51.5,191.45H53.1M51.5,194.7H53.1M51.5,197.95H53.1M51.5,201.2H53.1M51.5,204.45H53.1" stroke="#000" stroke-width="0.9" fill="none"/>
<rect x="50.1" y="193.2" width="3" height="3.4" fill="#000"/>
<text class="t" x="34" y="146.9" font-size="8.2" fill="#2a2a2a">10<tspan font-size="5.9" dy="-3.5">5</tspan></text>
<text class="t" x="34" y="163.6" font-size="8.2" fill="#2a2a2a">10<tspan font-size="5.9" dy="-3.5">4</tspan></text>
<text class="t" x="34" y="183.7" font-size="8.2" fill="#2a2a2a">10<tspan font-size="5.9" dy="-3.5">3</tspan></text>
<text class="t" x="43.1" y="196.9" font-size="8.2" text-anchor="end" fill="#2a2a2a" font-weight="normal" >0</text>
<text class="t" x="28.3" y="209.7" font-size="8.2" fill="#2a2a2a">&#8722;10<tspan font-size="5.9" dy="-3.5">3</tspan></text>
<path d="M55.9,211.5V214.1M59.9,211.5V214.1M63.9,211.5V214.1M66.9,211.5V214.1M69.4,211.5V214.7M73.9,211.5V214.1M77.9,211.5V214.1M80.9,211.5V214.1M83.2,211.5V214.1M85.6,211.5V214.5M90.57,211.5V213.9M93.47,211.5V213.9M95.53,211.5V213.9M97.13,211.5V213.9M98.44,211.5V213.9M99.54,211.5V213.9M100.5,211.5V213.9M101.35,211.5V213.9M102.1,211.5V215.1M107.07,211.5V213.9M109.97,211.5V213.9M112.03,211.5V213.9M113.63,211.5V213.9M114.94,211.5V213.9M116.04,211.5V213.9M117,211.5V213.9M117.85,211.5V213.9M118.6,211.5V214.5M123.57,211.5V213.9M126.47,211.5V213.9" stroke="#000" stroke-width="1.05" fill="none"/>
<rect x="67.7" y="211.5" width="3.4" height="3.6" fill="#000"/>
<text class="t" x="69.4" y="225.7" font-size="8" text-anchor="middle" fill="#2a2a2a" font-weight="normal" >0</text>
<text class="t" x="96.8" y="225.7" font-size="8.2" fill="#2a2a2a">10<tspan font-size="5.9" dy="-3.5">4</tspan></text>
<text transform="translate(25,174.9) rotate(-90)" font-size="10.3" font-weight="bold" text-anchor="middle" fill="#2a2a2a" stroke="#2a2a2a" stroke-width="0.2" textLength="15.8" lengthAdjust="spacingAndGlyphs">CD34</text>
<text x="90.6" y="239.8" font-size="10.0" font-weight="bold" text-anchor="middle" fill="#2a2a2a" stroke="#2a2a2a" stroke-width="0.2" textLength="16.6" lengthAdjust="spacingAndGlyphs">CD33</text>
<clipPath id="d3"><rect x="53.85" y="376.9" width="73.1" height="72.6"/></clipPath>
<g clip-path="url(#d3)">
<path d="M64,401.5L70.5,393L78,390.8L87,391.5L88.5,394L82,403L76,411.5L71,414L67,411Z" fill="#000" fill-opacity="0.45" filter="url(#b2)"/>
<ellipse cx="70" cy="403" rx="4.5" ry="7" transform="rotate(35 70 403)" fill="#000" fill-opacity="0.3" filter="url(#b1)"/>
<ellipse cx="75" cy="401" rx="14" ry="10" transform="rotate(-35 75 401)" fill="#000" fill-opacity="0.14" filter="url(#b3)"/>
<ellipse cx="96" cy="390" rx="26" ry="5" transform="rotate(-5 96 390)" fill="#000" fill-opacity="0.08" filter="url(#b2)"/>
<ellipse cx="59.5" cy="417" rx="2.2" ry="20" transform="rotate(0 59.5 417)" fill="#000" fill-opacity="0.16" filter="url(#b1)"/>
<ellipse cx="70" cy="422" rx="10" ry="10" transform="rotate(0 70 422)" fill="#000" fill-opacity="0.1" filter="url(#b3)"/>
<g filter="url(#b0)">
<path d="M83.0 395.8h0M84.3 395.9h0M74.9 398.5h0M66.8 407.4h0M79.2 397.1h0M60.3 426.4h0M70.2 409.8h0M69.1 400.4h0M73.0 401.9h0M77.3 397.3h0M80.9 395.8h0M68.9 406.9h0M73.1 403.8h0M70.3 399.1h0M67.1 400.2h0M76.9 402.9h0M85.4 392.0h0M60.3 432.9h0M80.3 403.3h0M83.3 399.0h0M66.8 402.0h0M75.7 408.2h0M68.9 405.1h0M77.2 394.5h0M57.0 416.2h0M76.1 397.7h0M72.9 404.9h0M72.1 413.3h0M61.5 400.4h0M78.9 394.8h0M70.3 408.7h0M71.7 401.6h0M84.2 396.8h0M74.3 411.2h0M78.5 400.7h0M61.7 421.0h0M78.8 400.1h0M91.4 386.1h0M79.9 399.3h0M67.8 404.4h0M66.8 406.1h0M84.9 393.5h0M60.6 438.6h0M76.5 403.5h0M84.4 393.2h0M77.3 397.6h0M61.2 417.6h0M70.1 410.5h0M81.1 392.6h0M73.9 407.4h0M81.6 390.8h0M65.6 406.4h0M58.0 429.5h0M73.3 392.6h0M78.4 397.6h0M77.2 403.2h0M62.5 407.8h0M74.4 395.7h0M61.0 426.6h0M66.6 406.9h0M84.4 393.2h0M73.1 400.3h0M82.3 391.4h0M59.3 425.8h0M59.1 401.3h0M70.8 396.0h0M76.0 402.6h0M68.0 402.7h0M70.0 395.0h0M68.1 399.9h0M67.1 404.3h0M81.3 402.1h0M88.5 385.5h0M59.3 404.4h0M84.8 397.2h0M82.7 401.1h0M69.2 409.4h0M72.1 406.0h0M60.4 410.6h0M78.2 401.0h0M84.4 395.4h0M81.4 394.9h0M66.3 404.4h0M76.5 394.4h0M77.0 398.4h0M60.7 411.2h0M83.5 401.4h0M70.8 406.6h0M83.0 397.0h0M75.5 399.9h0M61.7 412.8h0M60.3 402.2h0M58.2 430.7h0M76.8 398.2h0M62.7 407.6h0M77.7 400.4h0M57.8 432.2h0M66.1 406.3h0M76.2 404.2h0M86.1 395.0h0M65.7 399.8h0M77.1 402.5h0M75.4 399.8h0M74.9 402.7h0M83.4 395.4h0M73.1 406.2h0M69.8 405.5h0M73.1 410.5h0M62.6 419.9h0M59.4 428.4h0M70.8 413.6h0M74.2 403.0h0M71.0 408.4h0M73.3 395.1h0M72.5 395.9h0M81.5 399.0h0M81.5 399.4h0M68.5 401.7h0M60.5 409.5h0M74.1 402.2h0M68.8 408.5h0M65.7 402.4h0M56.2 407.9h0M77.6 403.9h0M76.4 407.7h0M71.2 404.3h0M69.8 399.9h0M84.2 391.8h0M61.1 401.5h0M59.5 405.8h0M60.1 411.7h0M72.5 412.6h0M71.2 411.5h0M74.4 401.0h0M67.5 400.2h0M85.0 397.5h0M58.3 417.9h0M83.1 398.6h0M58.2 423.8h0M83.3 394.3h0M71.2 404.0h0M63.3 402.8h0M75.8 399.1h0M69.9 401.3h0M71.4 399.7h0M58.0 420.8h0M61.3 445.1h0M67.6 397.1h0M57.7 415.0h0M62.0 428.2h0M59.4 419.6h0M59.3 416.3h0M58.2 426.7h0M69.8 400.9h0M75.8 399.1h0M61.7 408.2h0M57.2 424.1h0M58.2 427.8h0M62.7 379.4h0M68.4 393.3h0M63.3 412.1h0M59.4 407.8h0M71.9 395.8h0M72.4 409.7h0M70.9 405.2h0M76.5 400.0h0M79.8 399.4h0M70.4 402.8h0M79.4 405.2h0M81.5 394.9h0M64.1 403.7h0M62.6 415.4h0M67.4 405.1h0M84.7 398.6h0M60.7 421.4h0M69.7 409.2h0M75.4 396.9h0M60.8 416.7h0M69.0 404.6h0M76.7 407.1h0M78.4 393.6h0M91.8 396.1h0M74.7 405.5h0M72.5 410.8h0M79.4 398.6h0M71.2 403.5h0M68.6 403.3h0M71.3 408.8h0M74.3 411.4h0M62.2 406.3h0M59.8 418.0h0M57.6 427.3h0M79.5 399.9h0M74.5 404.3h0M57.1 436.2h0M57.6 419.6h0M77.0 409.9h0M77.4 399.7h0M77.7 394.3h0M82.8 395.6h0M60.2 423.2h0M62.7 401.6h0M75.4 395.6h0M76.5 398.1h0M73.4 400.2h0M70.7 401.3h0M81.5 401.3h0M67.6 409.9h0M79.2 400.3h0M80.7 399.3h0M69.0 395.2h0M77.9 408.2h0M78.8 398.7h0M68.6 400.2h0M81.3 391.7h0M58.4 426.8h0M75.3 398.8h0M72.7 411.8h0M77.9 398.0h0M77.6 401.2h0M73.4 398.1h0M80.1 406.3h0M81.6 395.1h0M81.8 397.1h0M82.8 395.8h0M59.9 426.8h0M67.2 400.6h0M56.3 434.0h0M84.3 395.5h0M84.0 392.5h0M74.3 410.3h0M81.4 391.4h0M69.0 408.3h0M59.1 391.7h0M71.3 401.5h0M74.7 395.8h0M80.3 397.0h0M73.2 401.2h0M81.6 392.7h0M87.1 392.4h0M56.7 406.6h0M79.3 399.7h0M73.8 397.6h0M82.3 392.2h0M68.2 400.8h0M75.3 393.9h0M56.8 420.9h0M74.1 411.9h0M66.4 400.6h0M80.5 394.2h0M73.0 402.1h0M58.5 412.6h0M71.8 406.9h0M75.6 400.3h0M70.8 401.4h0M95.5 396.2h0M71.6 412.5h0" fill="none" stroke="#000" stroke-width="0.8" stroke-linecap="square" stroke-opacity="0.42"/>
<path d="M56.5 432.7h0M55.5 406.9h0M75.1 399.6h0M79.2 403.0h0M68.4 407.7h0M69.3 401.0h0M71.6 395.3h0M60.2 421.5h0M75.4 395.8h0M61.0 414.8h0M79.3 405.2h0M62.3 426.7h0M86.5 392.5h0M80.7 398.2h0M68.9 404.9h0M83.1 406.2h0M58.3 426.9h0M71.7 397.0h0M78.5 400.2h0M81.1 403.2h0M56.7 417.6h0M58.1 421.4h0M75.0 401.2h0M55.7 421.7h0M72.0 397.9h0M75.9 398.0h0M84.1 395.0h0M77.3 404.2h0M59.6 398.1h0M71.1 404.0h0M78.0 399.6h0M82.8 401.7h0M83.7 398.7h0M66.2 402.6h0M63.1 435.6h0M58.6 434.0h0M77.0 402.0h0M61.3 444.8h0M78.0 396.5h0M55.0 425.8h0M58.4 417.3h0M78.8 402.6h0M58.8 426.0h0M84.0 393.0h0M75.0 400.5h0M70.7 395.5h0M70.5 408.4h0M68.3 407.3h0M78.2 398.3h0M69.4 411.1h0M79.1 403.3h0M69.4 409.9h0M81.0 398.7h0M71.0 413.8h0M74.7 393.5h0M62.8 428.4h0M76.8 408.4h0M85.4 396.2h0M69.1 402.5h0M79.5 393.1h0M61.6 408.9h0M61.1 402.8h0M75.1 405.2h0M67.8 399.5h0M62.3 426.2h0M62.3 386.4h0M68.6 404.1h0M86.6 396.9h0M70.6 402.0h0M77.0 397.7h0M74.0 401.0h0M69.1 402.4h0M79.3 401.6h0M58.8 418.6h0M71.4 411.6h0M77.7 403.9h0M66.9 404.8h0M74.0 398.6h0M59.9 423.0h0M79.6 404.6h0M57.4 408.7h0M58.5 405.5h0M57.9 425.8h0M60.2 404.9h0M60.0 415.0h0M72.2 403.3h0M56.6 413.2h0M56.8 410.6h0M79.1 399.7h0M66.4 402.3h0M74.9 399.5h0M69.9 398.0h0M71.9 405.5h0M70.3 408.7h0M62.0 405.0h0M79.8 402.1h0M86.6 407.4h0M73.7 402.1h0M81.1 401.5h0M60.3 422.0h0M58.9 402.5h0M59.4 414.8h0M69.6 408.2h0M75.9 400.0h0M68.3 407.5h0M72.5 402.0h0M78.4 404.3h0M72.3 402.9h0M83.9 392.6h0M67.2 412.4h0M84.6 397.9h0M81.4 393.3h0M70.2 402.7h0M60.4 401.3h0M73.8 401.7h0M73.8 405.6h0M77.3 395.9h0M61.8 394.4h0M71.0 395.5h0M57.2 404.9h0M83.2 396.5h0M72.7 411.3h0M61.4 421.9h0M69.9 413.0h0M64.4 417.1h0M77.6 405.0h0M61.5 401.5h0M71.2 398.7h0M70.4 398.8h0M80.4 394.3h0M68.6 403.2h0M77.6 394.6h0M60.1 405.2h0M70.4 405.0h0M67.0 403.7h0M71.6 412.1h0M57.5 403.7h0M66.7 404.6h0M76.7 406.8h0M64.7 402.0h0M70.1 394.8h0M79.6 394.2h0M79.2 402.7h0M64.7 403.0h0M72.1 394.8h0M69.1 410.6h0M69.1 406.2h0M78.0 402.2h0M82.0 391.2h0M72.3 400.3h0M80.3 399.5h0M60.8 411.2h0M74.4 396.1h0M74.4 406.7h0M78.5 396.6h0M59.6 418.0h0M57.5 396.3h0M78.4 394.3h0M70.2 399.2h0M70.8 403.8h0M75.8 405.5h0M61.6 417.1h0M59.1 420.9h0M60.0 388.1h0M78.5 401.9h0M73.1 399.6h0M71.9 400.2h0M68.6 405.4h0M82.1 398.7h0M57.8 404.7h0M85.9 391.9h0M61.5 410.0h0M62.6 404.1h0M61.5 403.1h0M73.7 407.9h0M78.9 404.2h0M60.2 447.1h0M59.0 403.6h0M61.0 411.8h0M78.3 401.2h0M73.9 398.6h0M83.1 394.8h0M78.8 405.8h0M58.2 404.4h0M87.2 395.2h0M71.9 395.1h0M80.6 393.8h0M65.7 409.1h0M60.5 403.0h0M68.9 398.2h0M88.7 394.3h0M63.3 434.4h0M69.6 400.1h0M66.7 407.2h0M59.3 422.3h0M74.9 395.6h0M66.4 401.0h0M60.0 441.1h0M71.7 406.7h0M56.1 399.5h0M71.7 402.4h0M67.1 404.0h0M73.1 405.8h0M55.4 390.7h0M61.5 431.5h0M67.3 410.9h0M62.9 415.1h0M86.0 395.3h0M82.5 393.0h0M76.8 410.2h0M73.2 410.6h0M60.4 402.5h0M56.4 420.5h0M54.7 407.9h0M84.7 397.1h0M76.5 395.0h0M71.2 393.6h0M73.1 404.1h0M84.0 394.8h0M80.2 400.0h0M81.9 396.1h0M79.0 404.0h0M82.2 394.5h0M73.4 411.8h0M59.4 414.2h0M55.6 418.7h0M70.0 401.6h0M88.0 400.6h0M73.0 398.1h0M66.2 404.0h0M62.9 419.7h0M68.3 411.6h0M76.1 398.0h0M78.4 399.9h0M74.1 397.7h0M65.0 401.4h0M75.2 396.8h0M61.5 409.9h0M74.3 408.3h0M85.2 394.2h0M68.4 405.2h0M75.4 399.7h0M83.0 392.2h0M61.1 414.3h0M73.1 407.8h0M58.8 440.5h0M79.1 400.7h0M75.3 395.1h0M66.6 408.1h0M57.5 420.0h0M79.7 401.4h0M60.2 405.3h0M82.2 400.8h0M74.9 404.8h0M60.5 386.4h0M60.4 427.3h0M73.7 402.0h0" fill="none" stroke="#000" stroke-width="0.8" stroke-linecap="square" stroke-opacity="0.42"/>
<path d="M75.5 400.9h0M71.6 408.0h0M70.8 394.2h0M60.6 413.1h0M85.1 392.1h0M92.0 381.7h0M74.7 400.3h0M57.1 424.9h0M74.1 404.1h0M71.4 412.5h0M73.4 411.2h0M75.7 407.9h0M58.7 402.2h0M71.6 402.1h0M72.7 398.6h0M73.1 393.3h0M69.9 395.2h0M76.9 392.3h0M75.1 406.1h0M70.0 395.9h0M60.1 438.4h0M66.7 398.5h0M76.5 409.6h0M77.0 405.8h0M82.8 400.2h0M78.6 404.4h0M70.4 395.7h0M62.7 410.8h0M72.6 394.4h0M71.7 403.0h0M70.3 402.6h0M72.4 409.1h0M69.2 411.9h0M83.3 394.2h0M70.7 394.6h0M70.3 401.7h0M59.6 411.1h0M95.0 397.7h0M73.1 403.6h0M77.7 393.2h0M74.4 407.5h0M59.8 400.6h0M89.8 391.7h0M88.5 394.0h0M59.5 377.5h0M61.4 427.2h0M83.1 397.2h0M85.1 391.6h0M76.8 398.6h0M88.5 390.7h0M65.6 401.1h0M60.2 412.5h0M82.1 394.9h0M76.0 393.0h0M74.0 408.2h0M78.1 394.1h0M57.4 414.3h0M76.9 391.4h0M75.2 399.9h0M73.7 403.5h0M79.4 401.2h0M76.5 401.1h0M88.5 400.2h0M71.7 395.6h0M55.8 409.9h0M76.8 405.4h0M82.4 393.6h0M84.6 399.3h0M70.6 401.4h0M66.2 398.1h0M75.9 402.3h0M70.8 411.8h0M70.9 411.9h0M58.0 405.0h0M85.7 397.0h0M73.6 408.5h0M84.6 397.4h0M71.0 393.7h0M66.5 406.7h0M73.9 409.1h0M78.2 396.7h0M82.1 391.3h0M82.1 401.0h0M68.3 400.5h0M72.1 410.7h0M70.2 398.8h0M84.8 395.9h0M84.9 397.6h0M78.1 402.8h0M75.6 406.3h0M85.8 394.0h0M81.4 403.7h0M73.7 411.1h0M86.3 394.0h0M72.1 403.3h0M81.5 398.4h0M72.3 411.9h0M71.2 407.8h0M68.7 409.6h0M81.4 394.9h0M70.9 403.3h0M85.5 381.6h0M79.3 396.0h0M58.0 403.8h0M62.2 423.1h0M75.6 395.5h0M84.3 398.7h0M77.7 397.3h0M83.3 398.0h0M70.1 398.4h0M60.2 416.7h0M75.8 394.0h0M76.3 398.7h0M69.0 401.2h0M68.6 403.6h0M67.4 408.8h0M65.5 403.1h0M79.8 394.6h0M78.8 404.0h0M73.7 393.3h0M59.5 422.8h0M75.6 397.7h0M86.0 400.8h0M76.0 394.1h0M79.6 405.6h0M61.0 426.5h0M84.6 397.6h0M68.5 406.6h0M73.7 403.3h0M89.4 405.2h0M81.3 397.3h0M79.0 402.2h0M56.1 413.6h0M88.9 400.5h0M74.7 398.8h0M73.0 395.4h0M74.5 405.4h0M67.5 410.8h0M70.2 408.8h0M59.2 398.9h0M72.8 403.2h0M62.6 417.0h0M65.0 402.2h0M70.4 405.2h0M79.7 394.8h0M69.3 408.5h0M76.8 406.2h0M75.4 392.0h0M59.3 420.0h0M60.1 412.1h0M70.2 404.4h0M82.5 397.8h0M72.1 399.0h0M73.8 396.8h0M76.9 402.7h0M80.7 393.7h0M58.6 430.4h0M68.4 409.3h0M70.8 398.0h0M67.8 410.0h0M80.6 396.7h0M59.9 415.5h0M58.1 425.4h0M57.5 420.1h0M70.3 398.8h0M77.7 395.8h0M59.7 420.1h0M66.5 408.9h0M59.7 442.0h0M71.4 406.9h0M78.5 391.8h0M77.0 406.2h0M59.3 395.0h0M68.1 391.2h0M74.3 404.8h0M77.6 395.0h0M82.6 394.2h0M77.8 398.5h0M83.8 410.2h0M73.3 400.5h0M62.1 406.6h0M60.1 423.9h0M72.0 411.1h0M59.0 420.8h0M69.7 411.6h0M79.2 402.6h0M60.9 433.2h0M74.8 394.3h0M80.7 396.6h0M89.9 391.2h0M75.3 405.9h0M64.7 400.7h0M71.1 400.1h0M77.1 395.5h0M74.8 410.3h0M85.0 398.0h0M72.5 398.5h0M77.0 409.0h0M74.4 403.1h0M73.6 400.1h0M70.3 402.6h0M73.1 397.6h0M77.8 401.9h0M89.9 390.5h0M75.0 402.9h0M85.9 392.4h0M82.0 398.4h0M59.6 403.1h0M66.9 405.3h0M67.4 408.2h0M75.3 406.0h0M64.6 415.4h0M70.3 398.7h0M54.4 413.1h0M82.3 394.8h0M67.9 409.9h0M56.9 429.7h0M58.1 403.5h0M79.3 392.2h0M63.4 422.6h0M79.2 402.5h0M79.4 396.4h0M57.9 403.5h0M70.6 410.2h0M68.1 404.2h0M73.4 410.3h0M69.3 408.0h0M79.2 401.3h0M71.7 402.7h0M80.1 391.6h0M80.1 400.3h0M80.7 393.8h0M80.3 391.1h0M81.3 403.3h0M74.0 399.7h0M72.4 413.4h0M58.6 407.9h0M71.3 404.4h0M58.0 413.2h0M78.3 395.4h0M71.6 395.6h0M78.7 401.4h0M70.9 397.6h0M57.8 421.0h0M67.0 397.4h0M66.5 408.6h0M58.9 414.2h0M60.1 394.0h0M59.6 406.4h0M83.4 395.8h0M68.2 409.9h0M60.9 397.6h0M71.7 412.9h0M76.8 393.1h0M60.0 433.7h0" fill="none" stroke="#000" stroke-width="0.8" stroke-linecap="square" stroke-opacity="0.42"/>
<path d="M76.9 399.2h0M57.6 408.6h0M72.4 396.4h0M73.8 399.1h0M69.3 397.7h0M62.9 411.0h0M73.0 411.3h0M68.4 397.5h0M72.9 405.3h0M67.5 399.3h0M76.2 393.9h0M85.9 394.4h0M78.9 393.9h0M76.0 393.0h0M73.5 409.5h0M80.5 399.2h0M76.5 399.9h0M73.4 404.3h0M72.0 412.9h0M68.5 405.5h0M65.8 399.7h0M70.8 393.9h0M86.2 391.7h0M76.4 402.9h0M82.5 393.7h0M67.9 404.1h0M92.0 393.4h0M80.6 404.8h0M79.9 401.5h0M82.0 401.3h0M73.7 409.2h0M68.7 402.8h0M59.1 425.1h0M77.4 405.1h0M74.9 397.3h0M75.4 409.7h0M73.3 408.2h0M80.0 391.1h0M74.1 395.4h0M79.1 401.0h0M59.6 423.4h0M59.9 402.7h0M62.8 403.0h0M82.5 399.2h0M58.8 416.0h0M70.4 394.6h0M72.2 397.4h0M79.3 404.9h0M60.7 434.8h0M74.6 401.6h0M78.8 407.1h0M73.1 409.9h0M58.2 442.0h0M73.0 401.6h0M77.1 404.2h0M71.2 405.1h0M70.2 394.6h0M57.1 406.1h0M86.1 394.0h0M59.8 407.8h0M82.2 394.7h0M84.6 396.4h0M60.4 416.5h0M70.2 403.2h0M76.6 406.3h0M78.3 391.7h0M59.4 423.8h0M70.0 413.1h0M74.1 400.8h0M70.9 408.0h0M81.7 401.4h0M73.5 405.4h0M72.1 409.5h0M69.2 401.5h0M63.4 388.2h0M75.1 405.4h0M73.1 402.1h0M70.7 406.2h0M58.1 410.1h0M73.9 407.3h0M82.7 403.1h0M73.1 401.1h0M78.6 401.8h0M72.3 396.7h0M70.7 396.5h0M73.0 396.9h0M57.8 396.6h0M87.7 393.9h0M60.0 405.5h0M84.1 396.5h0M84.5 392.0h0M72.6 405.3h0M76.4 405.8h0M58.4 410.3h0M66.3 403.2h0M60.1 417.2h0M72.9 397.7h0M74.3 406.8h0M80.7 393.6h0M75.3 404.1h0M73.2 392.3h0M84.1 395.5h0M68.2 399.6h0M89.6 389.9h0M68.3 397.5h0M74.3 384.8h0M77.6 398.7h0M74.6 401.9h0M68.6 411.9h0M69.6 409.1h0M67.5 410.2h0M79.4 406.6h0M77.1 407.7h0M85.9 393.9h0M82.0 392.5h0M80.7 396.1h0M59.6 413.4h0M80.8 397.9h0M71.4 411.6h0M57.9 419.1h0M79.6 400.9h0M73.0 407.0h0M71.0 400.9h0M69.9 399.5h0M69.2 402.8h0M79.3 393.8h0M61.0 428.9h0M77.5 405.4h0M59.7 414.5h0M64.5 403.2h0M77.2 405.2h0M75.1 397.4h0M74.0 398.2h0M68.8 410.6h0M60.7 419.8h0M71.3 393.7h0M83.2 393.5h0M68.2 398.1h0M78.5 395.3h0M75.4 400.7h0M58.3 413.1h0M85.9 393.6h0M73.3 399.6h0M74.1 396.3h0M74.7 403.3h0M82.2 398.8h0M59.5 401.4h0M67.7 410.6h0M60.0 394.3h0M72.1 404.4h0M69.9 410.2h0M73.3 396.7h0M75.9 397.4h0M80.3 403.8h0M83.8 397.5h0M72.2 394.9h0M70.3 396.5h0M86.3 397.7h0M73.4 392.8h0M70.2 400.3h0M76.6 392.6h0M71.5 409.3h0M67.3 407.7h0M73.1 393.4h0M56.4 424.1h0M57.1 399.4h0M69.1 404.4h0M74.2 405.8h0M80.1 401.5h0M61.8 431.2h0M72.6 403.9h0M78.9 399.7h0M90.7 397.1h0M72.3 401.6h0M58.4 436.6h0M74.2 406.4h0M71.7 401.4h0M72.6 392.8h0M77.1 401.2h0M59.5 422.4h0M60.5 392.9h0M57.5 405.9h0M80.6 400.2h0M88.0 394.3h0M56.6 410.4h0M76.4 395.6h0M76.7 395.1h0M76.5 394.5h0M68.2 405.7h0M76.7 396.5h0M82.0 393.2h0M67.0 410.4h0M57.3 428.6h0M66.8 407.1h0M91.0 395.3h0M83.3 400.8h0M83.0 391.2h0M77.6 401.3h0M59.6 418.3h0M79.7 406.1h0M71.1 411.5h0M67.7 399.1h0M60.6 414.4h0M66.8 407.5h0M60.0 408.3h0M81.6 401.3h0M82.5 395.8h0M67.6 407.1h0M77.5 401.9h0M60.1 393.3h0M74.0 399.7h0M64.4 401.7h0M59.4 390.3h0M82.5 400.6h0M89.5 399.2h0M58.2 412.2h0M81.3 395.6h0M82.7 393.7h0M59.5 401.5h0M73.6 404.9h0M60.1 409.3h0M65.0 403.6h0M75.9 401.9h0M72.3 399.6h0M82.2 400.4h0M79.6 400.2h0M67.1 401.7h0M74.3 403.6h0M71.5 411.8h0M84.3 399.0h0M80.4 393.1h0M64.6 402.3h0M66.3 405.6h0M61.5 418.3h0M72.6 412.2h0M73.8 392.3h0M74.0 399.9h0M74.1 395.4h0M73.9 396.9h0M74.4 403.1h0M55.8 408.9h0M80.5 402.4h0M59.7 423.1h0M59.6 405.3h0M75.4 399.3h0M73.6 400.2h0M58.9 429.6h0M64.9 402.0h0M61.6 423.2h0M74.8 403.1h0M62.0 427.5h0M68.3 410.1h0M66.0 399.5h0M62.4 406.9h0M78.1 397.5h0M86.1 403.1h0M67.4 392.5h0" fill="none" stroke="#000" stroke-width="0.8" stroke-linecap="square" stroke-opacity="0.42"/>
</g>
<g filter="url(#b0)">
<path d="M57.4 430.3h0M105.3 383.7h0M75.0 388.7h0M105.3 388.9h0M111.6 388.1h0M95.1 389.5h0M89.4 390.4h0M85.8 398.1h0M70.9 441.9h0M93.0 402.1h0M79.3 396.6h0M74.7 410.9h0M82.3 395.9h0M64.1 390.7h0M102.1 391.6h0M121.9 386.5h0M76.0 419.4h0M60.5 435.6h0M73.0 416.5h0M99.4 395.8h0M96.1 388.7h0M89.4 400.5h0M63.5 441.1h0M95.1 384.6h0M76.8 423.6h0M111.7 394.7h0M100.6 389.8h0M106.3 394.2h0M65.9 400.8h0M75.5 398.9h0M103.9 383.8h0M94.5 399.0h0M70.2 414.2h0M64.1 402.5h0M69.3 413.8h0M78.4 405.2h0M113.6 389.4h0M71.7 433.5h0M85.2 383.2h0M89.3 388.4h0M64.0 422.6h0M78.5 392.0h0M106.0 391.6h0M95.5 388.4h0M100.2 391.0h0M117.2 434.3h0M57.2 408.1h0M104.7 387.5h0M94.9 388.8h0M95.7 393.5h0M68.6 436.6h0M80.6 390.3h0M72.1 429.0h0M58.6 431.4h0M81.2 416.6h0M76.4 425.8h0M74.5 437.7h0M100.1 399.9h0M86.0 393.1h0M77.4 430.4h0M71.2 398.1h0M99.6 390.8h0M72.9 423.1h0M104.2 391.5h0M88.8 395.6h0M76.2 430.3h0M119.0 395.5h0M102.6 392.4h0M80.8 421.0h0M63.6 425.7h0M78.2 413.8h0M82.6 390.1h0M73.6 385.7h0M92.2 406.8h0M115.5 387.8h0M76.5 394.5h0M98.2 393.8h0M65.6 417.0h0M94.4 383.5h0M75.8 405.7h0M121.0 412.7h0M62.6 430.2h0M100.5 387.9h0M98.4 387.8h0M72.3 385.4h0M54.3 402.8h0M98.2 389.8h0M101.3 392.0h0M101.1 392.1h0M95.6 391.5h0M103.0 427.6h0M106.0 390.9h0M74.7 394.3h0M81.0 397.1h0M68.4 390.7h0M61.8 398.3h0M93.3 396.8h0M121.7 391.5h0M58.1 402.1h0M97.8 391.7h0M78.9 401.7h0M78.9 414.4h0M54.6 421.5h0M81.5 394.1h0M99.6 394.6h0M88.1 393.8h0M91.3 400.3h0M55.5 400.7h0M113.1 398.6h0M81.4 384.3h0M70.6 390.9h0M80.4 420.4h0M93.0 395.0h0M87.4 386.8h0M108.8 390.6h0M80.9 395.1h0M67.0 415.5h0M86.4 384.8h0M64.1 439.8h0M81.0 387.1h0M123.5 383.6h0M103.0 388.7h0M84.3 387.9h0M99.8 387.7h0M73.0 403.9h0M102.3 384.0h0M94.2 394.8h0M100.0 390.4h0M82.3 399.2h0M84.6 442.4h0M97.2 390.7h0M74.2 399.8h0M65.6 420.9h0M97.5 393.4h0M84.1 389.7h0M81.9 400.4h0M97.9 388.2h0M86.3 389.8h0M96.7 387.4h0M118.0 387.8h0M96.4 392.9h0M75.1 391.5h0M57.7 430.6h0M106.1 389.2h0M76.7 401.9h0M72.0 423.4h0M82.4 394.6h0M101.2 387.2h0M68.9 387.4h0M66.6 427.5h0M63.1 427.2h0M77.7 421.7h0M86.9 400.2h0M93.1 393.0h0M95.3 387.4h0M89.8 393.0h0M63.8 439.4h0M123.6 389.2h0M64.9 437.2h0M115.5 387.5h0M69.7 415.9h0M82.1 399.7h0M79.9 393.5h0M115.4 399.4h0M69.7 406.8h0M89.8 389.4h0M83.2 391.3h0M64.0 428.8h0M99.5 400.7h0M84.9 391.3h0M76.9 387.3h0M94.6 394.0h0M63.6 421.4h0M97.9 394.4h0M95.1 386.4h0M72.9 391.1h0M117.9 377.7h0M80.5 400.4h0M67.8 416.3h0M99.8 412.5h0M99.4 389.5h0M97.5 383.6h0M83.1 401.1h0M66.8 410.7h0M96.3 390.4h0M86.9 393.5h0M83.3 388.4h0M84.7 384.1h0M74.7 430.9h0M91.8 397.7h0M118.7 381.8h0M58.9 401.6h0M63.4 404.0h0M75.9 431.6h0M82.1 413.4h0M88.0 397.1h0M60.9 436.0h0M55.2 422.7h0M81.2 392.3h0M74.2 433.9h0M70.0 396.8h0M78.1 386.7h0M107.7 387.8h0M72.5 422.9h0M69.9 414.3h0M99.5 391.8h0M74.7 422.0h0M84.5 426.9h0M60.4 399.3h0M74.9 393.9h0M95.5 413.8h0M62.9 397.6h0M76.0 398.9h0M69.6 424.4h0M89.4 394.1h0M57.1 393.3h0M108.9 398.4h0M97.0 381.2h0M90.6 402.4h0M74.2 395.2h0M88.1 390.1h0M98.4 393.6h0M96.8 398.3h0M107.1 391.7h0M65.7 421.0h0M80.7 391.7h0M98.5 399.0h0M61.5 393.7h0M59.0 432.6h0M69.4 392.2h0M67.4 414.6h0M116.7 413.4h0M107.8 388.7h0M66.4 428.7h0M88.8 387.4h0M91.2 387.9h0M100.8 391.3h0M113.8 384.4h0M70.9 400.7h0M80.0 394.5h0M99.0 385.4h0M73.6 419.3h0M93.9 389.3h0M108.0 387.3h0M59.2 435.9h0M97.5 392.7h0M88.3 393.7h0M124.2 393.6h0M83.7 391.4h0M64.0 442.0h0M84.9 431.3h0M76.5 391.2h0M90.2 389.4h0M68.5 415.0h0M85.6 429.8h0M68.4 428.5h0M86.3 388.9h0M90.0 399.3h0M85.7 388.9h0M74.7 396.6h0M70.8 395.9h0M84.0 395.3h0M126.2 391.1h0M87.9 387.8h0M59.5 413.8h0M90.4 386.9h0M108.8 386.1h0M96.8 401.0h0M104.0 395.1h0M75.6 401.3h0M69.7 389.3h0M103.6 395.9h0M79.1 422.2h0M75.5 419.0h0M85.7 396.0h0M61.2 426.5h0M63.2 391.7h0M80.7 393.9h0M70.2 384.7h0M55.3 426.9h0M98.5 399.0h0M55.4 407.3h0M90.1 401.9h0M77.3 419.8h0M94.9 397.0h0M59.4 396.7h0M94.4 389.8h0M102.1 391.8h0M104.9 410.9h0M77.1 393.9h0M78.1 399.2h0M65.1 420.3h0M99.2 389.7h0M76.6 390.4h0M85.9 391.8h0M68.0 420.5h0M94.9 387.2h0M98.4 388.7h0M102.4 405.3h0M89.7 399.0h0M75.9 426.9h0M122.5 393.5h0M61.7 411.3h0M71.4 416.0h0M80.4 393.8h0M64.5 385.8h0M86.6 392.8h0M58.6 421.8h0M107.2 393.2h0M94.9 387.0h0M59.6 399.4h0M71.7 398.9h0M62.7 386.0h0M56.6 386.9h0M63.0 389.1h0M77.7 402.3h0M75.6 393.6h0M106.8 400.5h0M80.0 431.0h0M59.6 402.5h0M58.4 421.8h0M77.5 401.5h0M75.8 398.6h0M87.5 395.4h0M97.4 393.2h0M124.2 443.7h0M70.9 432.6h0M69.4 436.6h0M115.6 386.6h0M78.1 394.6h0M79.2 422.1h0M108.0 414.7h0M78.2 405.8h0M104.6 401.8h0M80.8 401.9h0M74.8 397.0h0M95.9 397.1h0M82.9 418.0h0M79.5 430.4h0M82.5 391.3h0M99.8 398.9h0M82.3 416.2h0M78.8 434.4h0M98.6 390.5h0M75.6 415.2h0M105.8 393.5h0M93.0 394.8h0M88.9 397.2h0M56.8 416.4h0M68.8 418.9h0M87.5 383.4h0M56.8 396.8h0M126.1 387.6h0M84.6 392.7h0M90.2 388.6h0M100.3 402.9h0M79.1 428.9h0M111.3 388.4h0M86.6 390.7h0M101.0 394.3h0M79.8 392.8h0M77.7 415.2h0M75.3 427.5h0M77.7 404.2h0M98.4 386.9h0M109.7 393.4h0M81.1 417.5h0M85.5 397.6h0M87.2 389.5h0M111.7 388.5h0M61.0 399.7h0M61.2 427.7h0M81.1 389.1h0M74.9 404.7h0M93.4 402.6h0M69.9 399.1h0M76.6 399.9h0M89.8 406.0h0M70.2 426.1h0M84.7 391.3h0M104.4 419.4h0M100.8 393.5h0M110.0 386.6h0M105.9 383.8h0M122.8 389.1h0M75.1 392.3h0M86.4 419.1h0M77.9 397.5h0M76.6 425.9h0M109.1 390.6h0M102.6 392.8h0M71.1 400.8h0M95.6 393.7h0M95.6 386.6h0M81.3 397.3h0M76.1 385.9h0M87.3 402.1h0M96.9 400.0h0M71.8 399.4h0M91.2 389.2h0M67.7 442.9h0M73.6 404.8h0M97.6 402.2h0M71.6 433.7h0M87.5 393.9h0M108.1 388.4h0M67.3 391.8h0M114.5 389.6h0M57.3 417.6h0M93.4 397.1h0M112.3 391.8h0M60.2 426.3h0M79.2 398.6h0M113.0 392.7h0M68.9 402.2h0M81.0 386.6h0M120.8 383.7h0M108.4 392.9h0M62.7 414.4h0M70.7 395.2h0M59.0 398.7h0M70.0 392.3h0M101.4 393.8h0M113.3 383.7h0M92.6 390.5h0M67.9 399.8h0M83.0 394.3h0M76.2 399.6h0M103.9 381.9h0M93.1 382.2h0M111.7 386.1h0M122.0 391.1h0M93.6 387.0h0M68.6 422.1h0M105.9 395.5h0M88.7 396.2h0M86.1 402.2h0M96.6 393.6h0M79.0 396.2h0M89.0 431.4h0M99.3 382.3h0M67.2 420.7h0M105.5 389.4h0M73.7 433.2h0M63.1 388.8h0M98.8 437.4h0M83.2 393.3h0M71.5 395.5h0M83.8 382.2h0M68.1 444.1h0M80.2 392.1h0M82.7 429.2h0M83.7 397.2h0M77.1 442.2h0M75.4 415.6h0M83.8 397.9h0M57.4 396.6h0M103.6 392.8h0M120.6 392.9h0M73.0 396.1h0M88.0 388.1h0M78.4 400.9h0M63.4 397.1h0M71.0 404.1h0M68.2 421.5h0M71.0 426.9h0M110.3 417.0h0M84.4 392.0h0M119.5 389.8h0M95.7 387.0h0M98.2 388.7h0M115.0 394.2h0M107.3 389.1h0M116.2 439.1h0M106.6 384.6h0M55.8 398.6h0M74.1 394.4h0M64.6 438.9h0M64.7 436.6h0M79.4 398.9h0M61.9 441.8h0M73.5 401.7h0M66.5 393.8h0M69.0 418.4h0M88.9 399.4h0M86.3 385.9h0M69.5 387.3h0M62.7 419.0h0M96.5 397.3h0M76.2 399.6h0M68.6 426.3h0M106.1 392.1h0M88.7 389.2h0M77.4 408.8h0M69.0 429.2h0M59.2 425.6h0M91.7 390.6h0M84.9 390.0h0M71.6 401.4h0M95.2 393.8h0M70.9 388.0h0M71.4 436.9h0M80.3 392.0h0M88.6 395.1h0M78.1 417.9h0M63.6 427.7h0M69.8 397.9h0M83.5 396.2h0M117.5 398.0h0M124.8 426.0h0M82.8 388.9h0M82.0 394.6h0M88.4 421.3h0M76.8 389.0h0M95.3 395.8h0M88.4 381.0h0M73.3 406.8h0M112.4 386.3h0M117.2 386.0h0M75.9 390.8h0M74.0 404.3h0M106.1 404.3h0M96.7 389.4h0M111.6 387.9h0M116.6 393.5h0M93.4 397.6h0M105.7 379.6h0M110.0 399.7h0M81.5 395.0h0M109.2 394.0h0M116.6 391.5h0M74.7 412.8h0M94.2 386.3h0M76.8 402.2h0M81.8 399.1h0M108.4 399.8h0M79.7 390.0h0M124.7 390.4h0M105.3 393.7h0M105.5 389.6h0M72.2 394.8h0M55.5 416.7h0M66.9 424.5h0M56.3 426.9h0M84.7 414.9h0M64.1 402.9h0M62.4 406.0h0M76.1 417.2h0M79.9 415.6h0M89.8 388.3h0M100.7 390.2h0M65.2 391.4h0M85.1 425.6h0M78.7 396.1h0M102.5 388.7h0M122.2 391.4h0M86.0 398.0h0M110.7 393.0h0M86.5 388.9h0M66.3 441.4h0M97.0 398.2h0M90.9 395.4h0M113.2 390.8h0M75.2 387.6h0M110.8 386.6h0M74.9 399.8h0M88.1 380.0h0M71.6 428.0h0M84.8 392.8h0M91.6 390.6h0M99.7 393.7h0M123.6 387.5h0M64.8 388.1h0M102.9 386.2h0M73.3 393.6h0M66.6 421.1h0M96.4 386.9h0M76.6 400.2h0M77.5 391.4h0M82.7 421.4h0M97.0 392.1h0M78.7 430.0h0M101.2 382.7h0M68.6 399.8h0M97.2 390.6h0M66.8 432.0h0M70.4 394.6h0M64.9 395.5h0M65.0 437.8h0M73.5 394.7h0M109.9 390.3h0M95.5 394.6h0M80.9 382.5h0M68.7 429.8h0M96.3 396.8h0M72.7 428.4h0M77.7 391.0h0M110.7 383.8h0M70.1 398.1h0M75.2 439.5h0M96.8 384.0h0M74.0 422.5h0M61.9 413.7h0M95.5 393.9h0M98.4 403.7h0M85.0 386.1h0M126.5 433.3h0M99.2 386.8h0M86.1 389.7h0M77.4 395.0h0M72.4 418.3h0M113.5 392.0h0M56.7 433.5h0M78.4 391.6h0M83.5 390.0h0M95.4 406.1h0M76.3 418.0h0M114.7 414.8h0M84.5 395.1h0M62.7 422.5h0M82.3 388.4h0M83.7 396.7h0M69.0 387.8h0M76.0 436.1h0M73.2 426.0h0M64.7 393.1h0M99.8 393.8h0M112.4 391.2h0M68.9 428.7h0M114.4 388.2h0M79.6 412.3h0M94.3 399.6h0M60.6 393.5h0M93.9 392.1h0M67.4 394.5h0M64.4 431.2h0M89.1 397.4h0M82.4 387.9h0M66.5 417.3h0M66.8 422.7h0M63.2 400.7h0M67.8 412.6h0M99.4 385.7h0M93.0 396.0h0M111.3 385.8h0M120.7 387.8h0M98.2 390.8h0M78.0 390.0h0M73.0 437.7h0M113.7 435.0h0M56.9 444.1h0M73.9 421.5h0M97.5 391.9h0M73.8 401.3h0M71.7 432.5h0M73.5 402.5h0M88.8 387.5h0M87.8 390.5h0M95.2 386.5h0M95.4 384.4h0M71.4 391.4h0M74.2 418.4h0M73.6 391.4h0M120.9 405.2h0M63.0 393.6h0M86.6 392.5h0M81.7 423.5h0M100.2 390.0h0M89.3 386.4h0M94.5 395.6h0M111.0 384.3h0M75.0 387.4h0M89.9 386.8h0M62.2 418.4h0M79.8 398.9h0M75.1 392.7h0M68.3 435.1h0M74.1 426.4h0M96.6 390.7h0M80.8 378.1h0M105.4 395.0h0M84.6 427.5h0M78.6 432.1h0M79.3 404.3h0M97.6 392.5h0M112.2 388.5h0M123.8 412.6h0M69.3 400.4h0M83.9 397.5h0M66.9 435.6h0M74.5 416.8h0M101.0 379.7h0M62.6 396.5h0M106.1 390.9h0M74.8 417.4h0M118.1 389.9h0M80.3 392.5h0M70.9 399.4h0M88.7 391.3h0M89.1 422.7h0M82.2 429.7h0M55.0 413.0h0M71.6 435.4h0M62.0 423.7h0M75.7 386.5h0M86.7 401.2h0M56.6 415.4h0M85.7 389.0h0M91.4 399.7h0M71.9 392.8h0M70.5 447.6h0M61.2 390.6h0M89.2 389.8h0M124.2 396.8h0M74.6 388.1h0M69.9 423.7h0M63.2 391.4h0M112.2 388.5h0M71.9 430.8h0M83.0 394.3h0M102.6 389.3h0M69.8 397.3h0M71.6 382.0h0M87.6 420.3h0M85.9 398.0h0M82.2 391.9h0M92.5 384.4h0M75.3 428.9h0M70.5 434.0h0M91.9 395.3h0M90.2 401.6h0M60.1 422.9h0M82.3 393.8h0M75.9 389.7h0M120.0 392.7h0M75.7 391.1h0M84.2 423.8h0M60.9 444.5h0M82.4 402.4h0M91.8 384.6h0M66.0 388.6h0M59.7 432.3h0M74.6 398.2h0M119.8 392.9h0M93.7 398.4h0M66.5 403.5h0M117.0 421.6h0M73.0 417.3h0M74.0 415.3h0M88.7 425.0h0M100.6 394.4h0M68.4 420.9h0M120.9 390.8h0M77.3 399.5h0M77.2 391.2h0M68.4 412.6h0M89.5 399.3h0M66.0 399.9h0M102.4 388.7h0M79.1 388.9h0M77.0 428.7h0M57.7 401.8h0M97.8 395.9h0M97.6 400.2h0M121.4 383.7h0M84.0 399.7h0M58.7 392.7h0M86.6 389.0h0M106.8 388.1h0M98.0 392.0h0M83.2 429.5h0M103.1 391.4h0M68.8 442.4h0M107.1 395.4h0M65.3 409.9h0M86.4 391.0h0M113.1 388.4h0M90.3 390.2h0M82.9 423.5h0M79.1 437.3h0M69.9 417.1h0M69.0 395.6h0M73.2 406.8h0M67.4 399.0h0M105.2 388.8h0M71.3 439.2h0M73.0 409.8h0M82.3 400.9h0M93.3 397.1h0M82.0 399.9h0M71.4 391.4h0M99.7 390.6h0M94.3 392.1h0M83.8 394.3h0M122.3 425.3h0M80.0 392.8h0M92.0 442.6h0M72.3 423.3h0M71.6 430.8h0M58.2 404.9h0M69.2 405.1h0M78.1 385.7h0M71.2 393.6h0M80.4 428.7h0M115.6 386.7h0M87.5 386.8h0M59.0 392.7h0M107.1 382.6h0M106.2 395.0h0M108.2 398.3h0M62.4 414.7h0M73.5 393.1h0M96.6 387.3h0M61.0 426.7h0M94.0 392.6h0M77.9 392.3h0M69.9 435.8h0M94.8 383.3h0M76.5 397.1h0M68.4 403.7h0M98.3 390.2h0M75.2 413.6h0M65.6 406.3h0M96.4 393.4h0M86.4 399.7h0M91.9 394.5h0M118.5 386.9h0M101.5 380.3h0M84.3 400.2h0M70.6 421.3h0M66.0 414.6h0M63.3 388.6h0M86.1 396.0h0M74.3 435.5h0M80.4 420.1h0M95.1 384.8h0M104.6 443.6h0M100.6 393.5h0M74.0 396.4h0M66.9 418.4h0M94.8 389.8h0M110.6 384.1h0M115.9 397.5h0M93.5 401.8h0M56.8 399.1h0M84.1 397.6h0M68.1 423.5h0M95.2 399.9h0M76.1 432.5h0M77.3 388.4h0M63.8 416.1h0M77.6 395.5h0M104.7 394.0h0M95.2 390.7h0M97.9 394.4h0M63.0 395.9h0M79.9 398.5h0M80.8 398.7h0M109.7 392.6h0M105.8 389.6h0M55.9 419.4h0M82.8 388.0h0M113.7 383.0h0M61.6 414.2h0M96.6 389.4h0M69.5 413.5h0M74.8 389.6h0M86.2 419.7h0M69.3 413.5h0M100.3 399.7h0M96.9 383.3h0M123.5 386.9h0M67.2 396.8h0M123.9 390.2h0M80.4 391.9h0M117.7 404.1h0M73.6 394.9h0M76.6 440.0h0M88.4 432.2h0M71.2 407.2h0M104.7 394.6h0M85.4 396.0h0M96.3 383.5h0M54.1 401.9h0M94.0 388.0h0M74.6 421.8h0M91.2 383.3h0M88.3 389.0h0M75.6 394.3h0M103.3 387.3h0M97.9 391.0h0M100.1 386.0h0M93.9 387.2h0M94.5 388.3h0M78.6 439.3h0M55.9 402.0h0M119.7 385.9h0M83.0 427.8h0M83.5 400.1h0M59.5 420.7h0M65.2 396.1h0M80.2 412.5h0M105.7 387.9h0M88.5 388.9h0M77.7 395.3h0M64.2 424.1h0M116.8 394.1h0M74.1 394.4h0M72.0 388.1h0M83.8 418.6h0M105.7 391.8h0M71.9 384.9h0M83.5 404.6h0M104.3 389.2h0M106.4 394.5h0M85.0 405.7h0M59.3 419.2h0M85.9 420.0h0" fill="none" stroke="#000" stroke-width="0.75" stroke-linecap="square" stroke-opacity="0.3"/>
</g>
</g>
<path d="M63.2,401.5 C64.5,397.5 67.5,394.5 70.5,392.5 C73.5,390.6 77,390.2 80,390.3 L87.5,391.2 C89.8,391.6 90.6,393 89.5,394.8 C88,397.5 85,400 82,404 C79.5,407.3 77.5,410.3 75.5,412.5 C73.5,414.8 71.5,415.2 69.5,414.3 C67,413 65.8,410 65,407 C64.3,405 63,403.5 63.2,401.5 Z" fill="none" stroke="#000" stroke-width="1.1"/>
<text class="t" x="87" y="416" font-size="7.6" text-anchor="middle" fill="#2a2a2a" font-weight="normal" >Blasts</text>
<text class="t" x="85.8" y="425.2" font-size="7.6" text-anchor="middle" fill="#2a2a2a" font-weight="normal" >52.1</text>
<rect x="53.25" y="376.3" width="74.3" height="73.8" fill="none" stroke="#000" stroke-width="1.3"/>
<path d="M50.05,383.5H53.25M50.05,400.2H53.25M50.05,420.3H53.25M50.05,433.5H53.25M50.05,446.3H53.25M51.65,395.17H53.25M51.65,392.23H53.25M51.65,390.15H53.25M51.65,388.53H53.25M51.65,387.2H53.25M51.65,386.09H53.25M51.65,385.12H53.25M51.65,384.26H53.25M51.65,414.25H53.25M51.65,410.71H53.25M51.65,408.2H53.25M51.65,406.25H53.25M51.65,404.66H53.25M51.65,403.31H53.25M51.65,402.15H53.25M51.65,401.12H53.25M51.65,423.55H53.25M51.65,426.8H53.25M51.65,430.05H53.25M51.65,433.3H53.25M51.65,436.55H53.25M51.65,439.8H53.25M51.65,443.05H53.25" stroke="#000" stroke-width="0.9" fill="none"/>
<rect x="50.25" y="431.8" width="3" height="3.4" fill="#000"/>
<text class="t" x="34.15" y="385.5" font-size="8.2" fill="#2a2a2a">10<tspan font-size="5.9" dy="-3.5">5</tspan></text>
<text class="t" x="34.15" y="402.2" font-size="8.2" fill="#2a2a2a">10<tspan font-size="5.9" dy="-3.5">4</tspan></text>
<text class="t" x="34.15" y="422.3" font-size="8.2" fill="#2a2a2a">10<tspan font-size="5.9" dy="-3.5">3</tspan></text>
<text class="t" x="43.25" y="435.5" font-size="8.2" text-anchor="end" fill="#2a2a2a" font-weight="normal" >0</text>
<text class="t" x="28.45" y="448.3" font-size="8.2" fill="#2a2a2a">&#8722;10<tspan font-size="5.9" dy="-3.5">3</tspan></text>
<path d="M54.15,450.1V453.1M56.91,450.1V451.7M59.67,450.1V451.7M62.43,450.1V451.7M65.19,450.1V451.7M67.95,450.1V453.1M70.71,450.1V451.7M73.47,450.1V451.7M76.23,450.1V451.7M78.99,450.1V451.7M81.75,450.1V453.1M84.51,450.1V451.7M87.27,450.1V451.7M90.03,450.1V451.7M92.79,450.1V451.7M95.55,450.1V453.1M98.31,450.1V451.7M101.07,450.1V451.7M103.83,450.1V451.7M106.59,450.1V451.7M109.35,450.1V453.1M112.11,450.1V451.7M114.87,450.1V451.7M117.63,450.1V451.7M120.39,450.1V451.7M123.15,450.1V453.1M125.91,450.1V451.7" stroke="#000" stroke-width="0.9" fill="none"/>
<text class="t" x="54.15" y="464.3" font-size="8" text-anchor="middle" fill="#2a2a2a" font-weight="normal" >0</text>
<text class="t" x="81.75" y="464.3" font-size="8" text-anchor="middle" fill="#2a2a2a" font-weight="normal" >100K</text>
<text class="t" x="109.35" y="464.3" font-size="8" text-anchor="middle" fill="#2a2a2a" font-weight="normal" >200K</text>
<text transform="translate(25,413.5) rotate(-90)" font-size="10.3" font-weight="bold" text-anchor="middle" fill="#2a2a2a" stroke="#2a2a2a" stroke-width="0.2" textLength="16.8" lengthAdjust="spacingAndGlyphs">CD45</text>
<text x="91.2" y="478.4" font-size="10.0" font-weight="bold" text-anchor="middle" fill="#2a2a2a" stroke="#2a2a2a" stroke-width="0.2" textLength="21.2" lengthAdjust="spacingAndGlyphs">SSC-A</text>
<clipPath id="d4"><rect x="53.85" y="493.8" width="73.1" height="72.6"/></clipPath>
<g clip-path="url(#d4)">
<path d="M91,542L95,539L105,538.3L111,540L112.5,545L111.5,550L106,551.8L96,551.5L91.5,548.5Z" fill="#000" fill-opacity="0.45" filter="url(#b2)"/>
<ellipse cx="84" cy="546.5" rx="9" ry="3.2" transform="rotate(0 84 546.5)" fill="#000" fill-opacity="0.18" filter="url(#b2)"/>
<ellipse cx="97" cy="535" rx="10" ry="4.5" transform="rotate(0 97 535)" fill="#000" fill-opacity="0.06" filter="url(#b2)"/>
<g filter="url(#b0)">
<path d="M108.2 544.9h0M102.8 536.1h0M110.2 548.5h0M108.6 540.1h0M96.9 551.0h0M101.0 540.1h0M97.4 548.8h0M91.3 542.6h0M100.6 547.0h0M97.4 541.8h0M100.5 539.1h0M109.5 544.7h0M94.3 542.1h0M92.4 549.1h0M102.6 540.2h0M93.0 544.6h0M104.9 541.9h0M95.2 547.2h0M107.6 543.5h0M110.2 547.3h0M111.7 542.6h0M101.3 544.9h0M101.8 539.9h0M97.1 545.0h0M103.1 551.7h0M108.9 539.8h0M99.9 544.4h0M92.1 544.0h0M102.0 540.7h0M103.7 551.5h0M98.2 543.8h0M96.9 548.7h0M97.7 540.2h0M104.7 539.3h0M103.1 549.6h0M99.1 550.9h0M96.8 546.9h0M99.2 546.1h0M105.9 545.2h0M108.4 543.8h0M101.1 540.5h0M106.7 551.2h0M93.9 544.7h0M110.1 540.4h0M105.9 551.0h0M92.5 544.1h0M96.0 544.5h0M95.3 544.3h0M97.6 545.5h0M87.6 542.0h0M108.7 543.5h0M100.2 540.9h0M92.9 540.7h0M110.0 543.4h0M103.4 538.6h0M105.2 546.8h0M99.9 546.6h0M110.1 545.3h0M94.8 543.4h0M95.4 544.1h0M109.5 549.1h0M95.8 543.7h0M107.0 540.0h0M108.0 535.5h0M93.8 541.5h0M103.4 542.3h0M102.7 541.0h0M108.5 542.3h0M111.4 549.0h0M102.7 537.7h0M109.8 543.5h0M95.8 549.5h0M97.0 540.9h0M97.3 538.3h0M97.5 542.7h0M98.5 550.2h0M94.2 540.8h0M108.8 547.8h0M102.9 551.6h0M102.9 540.0h0M109.8 547.4h0M109.5 542.5h0M101.3 541.4h0M108.0 543.8h0M107.8 542.8h0M103.8 543.7h0M98.5 539.0h0M100.0 539.9h0M104.3 540.0h0M94.1 546.1h0M91.5 545.9h0M100.6 546.8h0M99.2 547.7h0M94.3 548.2h0M98.7 543.6h0M95.5 547.9h0M96.6 545.4h0M102.4 545.2h0M105.3 548.7h0M106.6 546.4h0M106.1 550.2h0M105.9 544.5h0M91.9 544.7h0M109.6 541.5h0M100.6 544.6h0M93.5 545.0h0M96.1 544.3h0M93.5 545.4h0M103.6 544.4h0M100.9 543.5h0M98.6 543.1h0M105.8 542.2h0M106.0 540.1h0M99.8 545.1h0M97.7 550.7h0M109.3 547.9h0M103.3 549.8h0M99.4 542.3h0M106.0 542.6h0M92.0 541.5h0M110.6 543.0h0M96.2 540.3h0M106.2 541.1h0M108.1 540.5h0M111.8 533.8h0M91.9 541.6h0M101.5 543.0h0M112.4 545.1h0M96.1 544.5h0M109.3 542.4h0M95.8 544.3h0M104.2 539.4h0M94.1 544.5h0M101.5 540.3h0M105.1 540.3h0M99.7 544.6h0M107.3 534.7h0M95.4 541.2h0M104.7 544.6h0M105.9 540.5h0M99.3 548.3h0M92.9 542.3h0M97.4 547.7h0M94.4 540.7h0M95.0 548.6h0M99.5 539.8h0M97.5 545.1h0M94.7 543.4h0M110.6 544.7h0M105.2 546.8h0M94.1 544.2h0M110.3 548.6h0M94.1 549.6h0M112.6 547.9h0M105.4 549.3h0M99.8 540.8h0M110.8 547.0h0M98.8 545.8h0M99.0 546.1h0M109.9 548.7h0M101.3 551.5h0M109.0 543.5h0M110.6 535.8h0M93.0 546.1h0M107.3 541.6h0M103.2 542.4h0M92.2 544.8h0M102.9 546.3h0M105.1 541.6h0M97.0 539.4h0M99.1 542.8h0M99.3 547.9h0M106.1 549.8h0M105.0 544.2h0M96.7 544.6h0M93.4 546.5h0M103.4 543.0h0M98.8 541.1h0M97.8 550.5h0M110.7 546.4h0M106.5 537.5h0M107.9 547.5h0M96.1 544.0h0M106.0 541.0h0M107.7 544.2h0M112.4 547.3h0M102.9 545.9h0M101.1 543.3h0M91.4 543.2h0M114.0 545.3h0M94.1 545.1h0M104.4 540.5h0M95.4 550.8h0M96.7 543.5h0M100.7 552.1h0M98.6 544.7h0M98.9 548.2h0M103.1 538.8h0M96.1 545.7h0M109.9 542.6h0M103.4 545.4h0M98.3 550.4h0M107.0 540.8h0M99.7 546.9h0M107.3 538.2h0M91.6 544.9h0M101.2 543.5h0M109.7 541.5h0M104.3 545.8h0M94.2 547.2h0M96.0 542.9h0M105.8 549.7h0M99.2 543.8h0" fill="none" stroke="#000" stroke-width="0.8" stroke-linecap="square" stroke-opacity="0.42"/>
<path d="M98.5 554.3h0M97.1 545.5h0M106.7 542.4h0M93.2 549.5h0M93.8 547.3h0M104.9 545.8h0M112.1 545.9h0M103.7 539.9h0M92.1 547.4h0M95.3 548.6h0M109.8 543.2h0M97.5 548.4h0M98.6 546.9h0M110.8 550.0h0M111.7 547.8h0M108.4 544.2h0M101.4 546.6h0M101.4 543.4h0M96.1 543.9h0M111.0 547.4h0M110.3 546.1h0M91.5 541.4h0M111.5 544.3h0M92.9 545.9h0M97.2 546.3h0M93.3 543.3h0M99.6 548.7h0M109.1 540.7h0M93.8 542.6h0M99.3 548.6h0M102.5 550.2h0M97.6 547.2h0M98.2 551.1h0M92.3 545.8h0M92.8 542.1h0M94.6 543.1h0M106.2 549.2h0M110.6 544.3h0M92.2 541.8h0M96.7 541.1h0M105.8 551.8h0M100.6 539.6h0M111.2 543.1h0M106.3 551.4h0M103.4 544.4h0M105.5 541.7h0M98.4 545.0h0M93.4 541.6h0M98.4 547.3h0M97.8 546.7h0M97.3 543.9h0M101.6 541.2h0M108.3 540.0h0M93.2 549.3h0M93.4 542.9h0M107.7 550.1h0M102.6 544.8h0M110.4 545.6h0M99.6 544.7h0M99.3 541.2h0M106.5 540.6h0M94.4 544.6h0M100.7 549.1h0M100.8 542.9h0M91.4 543.9h0M113.4 540.0h0M108.6 545.8h0M102.1 549.6h0M101.8 551.4h0M108.4 546.3h0M95.2 544.5h0M82.7 549.4h0M95.9 541.2h0M109.0 547.7h0M112.0 545.0h0M99.0 550.9h0M97.4 542.0h0M94.2 547.6h0M104.1 546.8h0M110.3 544.5h0M103.4 550.2h0M106.3 547.5h0M99.9 539.0h0M96.5 546.3h0M105.0 547.7h0M93.0 544.9h0M104.5 538.6h0M110.8 547.0h0M97.3 542.7h0M98.5 546.4h0M99.7 544.5h0M101.4 548.1h0M96.4 545.7h0M111.9 543.5h0M107.1 548.4h0M94.1 549.8h0M94.2 548.8h0M96.7 547.4h0M93.0 546.8h0M96.1 549.1h0M107.7 550.1h0M104.5 540.3h0M92.1 542.6h0M101.7 542.3h0M93.8 544.3h0M108.5 541.1h0M97.8 551.1h0M104.2 542.8h0M109.2 541.2h0M109.9 548.1h0M106.1 545.8h0M93.1 542.9h0M103.4 538.9h0M93.8 541.6h0M108.6 549.7h0M103.7 550.5h0M108.5 546.3h0M98.7 546.8h0M102.2 545.6h0M92.5 543.9h0M99.2 545.1h0M108.0 549.5h0M106.0 549.2h0M97.7 548.7h0M104.5 538.4h0M95.0 544.3h0M92.8 546.1h0M100.0 541.4h0M99.7 547.5h0M101.7 545.2h0M105.5 542.5h0M110.4 542.0h0M97.1 540.1h0M97.6 550.3h0M108.0 539.4h0M97.0 547.0h0M99.1 548.1h0M98.8 550.4h0M106.4 550.3h0M111.6 542.3h0M103.2 550.9h0M93.0 546.2h0M101.7 543.9h0M105.9 540.6h0M103.2 550.5h0M93.1 544.4h0M108.2 546.2h0M97.4 551.6h0M94.3 542.8h0M97.3 533.5h0M100.6 547.2h0M102.4 546.1h0M99.0 542.2h0M107.9 551.0h0M100.9 543.7h0M101.5 542.4h0M97.0 544.8h0M98.9 549.5h0M105.3 551.1h0M108.4 555.2h0M105.1 546.5h0M101.9 542.6h0M111.2 547.6h0M96.6 551.0h0M98.4 542.9h0M102.2 551.4h0M99.2 544.5h0M107.1 541.7h0M99.9 540.3h0M109.0 548.0h0M101.4 551.5h0M98.2 550.3h0M103.6 539.6h0M108.0 542.4h0M102.3 545.9h0M111.0 543.0h0M108.1 544.8h0M110.8 538.8h0M96.9 545.4h0M101.4 542.0h0M98.0 541.0h0M93.5 546.4h0M109.7 542.6h0M91.9 543.5h0M105.6 550.9h0M111.7 547.1h0M110.7 549.0h0M93.8 540.4h0M105.3 544.4h0M102.0 539.9h0M95.6 546.4h0M94.0 544.4h0M105.6 545.8h0M105.4 539.4h0M101.7 550.2h0M97.9 546.6h0M106.1 544.7h0M100.9 543.7h0M105.4 543.5h0M96.2 545.7h0M95.0 540.8h0M111.1 549.9h0M97.5 542.6h0M103.6 543.8h0M110.5 549.6h0M105.8 543.8h0M96.7 551.6h0M101.3 548.8h0M101.4 551.6h0M110.0 549.3h0M106.1 551.4h0M106.9 540.9h0M107.0 541.4h0" fill="none" stroke="#000" stroke-width="0.8" stroke-linecap="square" stroke-opacity="0.42"/>
<path d="M105.1 546.8h0M110.6 540.6h0M104.8 539.2h0M105.2 549.2h0M108.2 542.4h0M98.7 547.0h0M96.3 550.7h0M102.3 542.8h0M105.3 539.8h0M93.4 543.8h0M107.5 550.2h0M95.2 550.1h0M107.1 548.4h0M94.7 545.7h0M105.9 547.9h0M109.1 544.7h0M98.7 543.2h0M107.6 543.0h0M100.3 547.7h0M104.9 541.2h0M89.0 548.5h0M93.4 543.5h0M106.2 542.5h0M102.6 543.5h0M101.6 540.9h0M103.9 550.3h0M110.9 541.0h0M103.1 540.5h0M100.8 544.6h0M98.9 544.7h0M97.9 542.1h0M101.8 540.9h0M107.3 541.0h0M104.7 541.6h0M99.3 542.4h0M99.6 537.9h0M95.6 545.7h0M98.3 551.5h0M91.8 546.8h0M104.6 549.0h0M111.9 538.5h0M110.9 542.5h0M109.9 542.4h0M95.7 541.3h0M92.3 546.5h0M110.4 547.7h0M110.6 547.2h0M97.0 547.1h0M94.1 535.8h0M108.1 541.9h0M98.4 548.2h0M108.7 548.4h0M102.1 542.0h0M109.5 548.0h0M106.8 546.5h0M104.8 549.3h0M105.1 543.8h0M105.7 550.4h0M102.9 540.7h0M99.4 550.9h0M108.2 541.0h0M97.2 548.6h0M104.3 550.6h0M111.7 546.6h0M109.8 551.6h0M96.4 542.0h0M100.4 551.5h0M105.5 539.1h0M94.7 540.0h0M95.6 548.9h0M103.2 542.8h0M101.8 543.9h0M104.7 544.6h0M99.1 545.8h0M103.9 551.2h0M98.4 541.0h0M104.9 541.7h0M93.9 542.9h0M99.0 545.2h0M99.4 547.5h0M107.6 546.1h0M105.6 550.1h0M111.1 548.9h0M107.1 540.3h0M100.4 541.0h0M108.4 551.7h0M98.4 537.3h0M93.9 542.6h0M103.8 547.1h0M110.1 543.6h0M102.1 543.0h0M100.1 539.4h0M102.0 539.3h0M107.5 550.3h0M110.2 549.3h0M109.1 548.6h0M105.2 538.9h0M112.2 546.4h0M92.5 542.5h0M104.5 545.7h0M94.8 548.8h0M100.3 551.4h0M104.0 537.4h0M105.7 539.0h0M94.6 539.5h0M104.1 545.3h0M91.3 545.4h0M101.3 541.1h0M104.0 548.0h0M100.1 539.9h0M104.9 550.2h0M102.6 548.3h0M107.9 547.5h0M100.9 539.0h0M104.7 541.7h0M110.6 548.3h0M101.8 539.0h0M93.5 544.4h0M93.8 543.2h0M101.7 550.6h0M97.2 539.8h0M98.3 550.5h0M105.9 550.1h0M105.4 549.9h0M112.4 550.1h0M103.3 551.6h0M103.5 540.1h0M98.4 541.2h0M96.8 546.1h0M97.9 549.8h0M107.7 545.8h0M104.7 539.8h0M108.6 547.2h0M95.9 551.2h0M102.1 545.1h0M109.8 539.7h0M91.6 542.0h0M106.1 547.4h0M105.5 546.1h0M100.0 544.5h0M96.6 549.1h0M103.8 543.5h0M104.3 538.7h0M100.4 539.8h0M104.9 543.1h0M108.1 547.3h0M92.6 548.8h0M108.7 549.6h0M110.7 548.2h0M104.9 543.1h0M102.9 546.8h0M109.3 545.9h0M97.5 544.9h0M102.8 547.3h0M104.2 548.8h0M91.9 545.0h0M100.8 549.3h0M102.8 550.5h0M108.0 548.4h0M103.7 539.3h0M101.9 551.4h0M103.3 550.3h0M105.1 539.4h0M110.1 541.1h0M106.4 539.0h0M92.9 545.2h0M97.6 550.9h0M106.9 551.3h0M104.6 542.1h0M97.0 539.6h0M96.0 542.8h0M101.9 538.6h0M107.8 550.1h0M105.9 546.6h0M106.3 550.2h0M103.0 551.2h0M110.5 541.3h0M110.7 543.3h0M98.6 547.5h0M96.6 542.5h0M101.2 544.5h0M107.1 543.0h0M111.1 548.0h0M106.4 547.9h0M95.7 539.0h0M103.1 550.5h0M110.8 550.1h0M97.6 547.9h0M101.9 549.4h0M92.0 542.0h0M97.6 548.6h0M99.6 540.6h0M100.8 551.4h0M108.5 547.4h0M93.7 540.5h0M98.1 539.4h0M109.1 542.9h0M111.4 549.2h0M110.4 547.2h0M110.3 540.8h0M91.5 544.3h0M105.8 543.3h0M94.4 543.8h0M102.9 545.5h0M99.4 545.2h0M99.9 541.6h0M103.1 549.9h0M93.9 546.8h0M104.4 545.4h0M102.3 541.4h0M109.8 539.2h0M100.5 542.7h0" fill="none" stroke="#000" stroke-width="0.8" stroke-linecap="square" stroke-opacity="0.42"/>
<path d="M106.0 542.2h0M105.8 539.8h0M110.4 543.9h0M98.3 545.0h0M106.8 542.7h0M111.4 546.2h0M109.9 543.9h0M100.6 543.1h0M110.7 545.7h0M100.9 547.5h0M110.0 540.9h0M106.5 542.2h0M99.6 551.1h0M96.6 540.6h0M91.4 546.6h0M103.9 551.7h0M108.3 551.0h0M96.3 546.9h0M93.1 546.0h0M108.7 544.2h0M104.6 551.9h0M103.9 539.2h0M101.0 538.9h0M110.7 549.5h0M98.6 547.3h0M105.4 542.3h0M93.9 544.7h0M102.2 540.0h0M103.9 544.8h0M105.4 539.9h0M93.1 544.3h0M100.8 547.1h0M95.3 539.6h0M115.6 545.1h0M95.0 539.6h0M105.4 550.9h0M109.8 545.4h0M96.7 539.0h0M104.1 552.6h0M107.0 541.6h0M109.5 543.3h0M97.4 543.8h0M104.0 548.0h0M100.6 539.1h0M105.4 547.4h0M100.4 549.4h0M111.0 547.2h0M110.5 547.5h0M94.7 543.1h0M110.7 549.5h0M98.1 543.5h0M92.7 548.6h0M98.9 545.2h0M104.9 544.4h0M106.6 544.0h0M108.2 547.0h0M97.0 542.4h0M106.2 548.5h0M97.1 548.4h0M106.7 539.1h0M109.2 546.4h0M106.7 549.1h0M102.7 548.1h0M100.1 541.7h0M94.6 541.2h0M104.0 547.4h0M103.8 549.1h0M97.7 540.1h0M102.2 541.2h0M103.8 540.6h0M104.6 549.7h0M102.7 548.8h0M93.5 548.1h0M93.7 542.3h0M95.6 548.4h0M107.4 546.8h0M104.0 543.4h0M96.6 543.2h0M107.0 549.8h0M106.1 548.6h0M101.5 544.7h0M97.0 546.7h0M104.1 550.8h0M103.7 548.9h0M100.4 544.4h0M104.3 541.8h0M95.2 539.5h0M101.9 547.1h0M107.2 549.3h0M97.7 547.2h0M109.4 542.1h0M92.9 545.3h0M106.4 546.0h0M94.5 544.3h0M100.9 546.1h0M105.1 542.7h0M100.5 547.6h0M100.7 540.0h0M98.9 541.7h0M104.6 538.8h0M108.4 540.9h0M102.1 544.2h0M100.3 550.9h0M95.5 546.4h0M110.2 540.3h0M96.7 551.1h0M100.5 546.1h0M110.7 548.5h0M101.7 551.7h0M96.8 550.6h0M93.1 545.4h0M106.4 551.1h0M104.4 542.4h0M97.7 540.5h0M107.4 548.6h0M100.8 546.6h0M105.6 543.4h0M96.9 546.3h0M103.6 551.6h0M94.5 549.9h0M94.7 546.3h0M92.7 541.1h0M107.5 539.3h0M102.3 539.0h0M101.5 550.1h0M93.6 543.9h0M101.2 544.0h0M95.3 547.2h0M104.9 550.2h0M108.9 550.1h0M93.4 546.1h0M94.8 546.2h0M106.8 549.8h0M104.0 542.2h0M97.0 550.8h0M94.9 540.0h0M111.1 546.9h0M99.4 543.6h0M103.9 542.4h0M103.0 541.0h0M102.8 547.7h0M95.6 550.7h0M96.5 547.9h0M103.8 543.6h0M101.2 550.8h0M105.2 546.1h0M109.9 550.1h0M108.9 542.8h0M107.4 549.0h0M108.4 544.2h0M106.1 545.7h0M105.0 547.9h0M97.0 544.5h0M109.4 541.4h0M111.4 541.8h0M101.1 544.4h0M99.8 538.0h0M98.0 548.5h0M106.9 549.2h0M108.1 548.7h0M101.4 545.4h0M100.9 541.5h0M109.3 541.4h0M100.4 539.8h0M102.0 540.0h0M102.9 546.5h0M101.4 551.4h0M97.5 545.2h0M92.1 545.7h0M105.7 549.6h0M106.6 547.3h0M109.7 541.3h0M91.7 548.0h0M98.3 545.4h0M93.5 544.3h0M111.0 542.3h0M107.3 544.6h0M107.6 544.9h0M102.1 549.6h0M97.2 540.7h0M101.5 539.3h0M104.4 540.7h0M99.7 544.4h0M106.3 543.7h0M97.3 551.4h0M105.5 540.4h0M95.5 548.9h0M107.8 539.9h0M109.9 549.8h0M100.0 540.5h0M101.6 545.2h0M105.5 551.1h0M98.0 539.9h0M105.7 540.5h0M100.3 547.8h0M99.4 542.6h0M110.9 543.6h0M108.0 544.9h0M94.6 542.8h0M100.6 550.4h0M111.4 544.7h0M95.9 542.8h0M100.2 547.0h0M97.1 554.3h0M103.0 543.7h0M98.6 545.5h0M98.2 547.2h0M103.0 543.0h0M98.6 549.3h0M99.8 544.1h0M94.8 544.5h0M109.2 550.0h0" fill="none" stroke="#000" stroke-width="0.8" stroke-linecap="square" stroke-opacity="0.42"/>
</g>
<g filter="url(#b0)">
<path d="M87.3 548.9h0M88.1 536.5h0M95.3 527.5h0M81.1 544.8h0M95.2 533.2h0M90.8 546.5h0M91.3 548.4h0M90.1 548.9h0M93.0 524.6h0M82.4 549.0h0M95.2 541.6h0M105.6 525.9h0M95.9 526.1h0M74.2 542.9h0M76.1 547.8h0M92.8 540.8h0M72.8 548.5h0M97.8 523.4h0M73.0 541.8h0M88.3 549.4h0M81.1 534.0h0M90.5 550.2h0M83.5 542.1h0M84.5 548.2h0M88.3 526.7h0M89.4 545.3h0M78.8 547.3h0M80.3 544.0h0M99.4 528.8h0M94.8 547.3h0M96.4 540.6h0M95.4 545.8h0M97.8 547.7h0M79.1 530.2h0M77.6 549.2h0M98.4 539.9h0M88.9 528.7h0M79.7 549.1h0M78.3 548.8h0M91.4 532.3h0M98.9 532.7h0M87.6 545.7h0M80.8 545.2h0M86.5 543.5h0M102.5 539.1h0M87.0 545.2h0M97.7 547.1h0M92.5 536.6h0M97.6 533.5h0M114.2 536.3h0M87.6 547.2h0M91.1 527.9h0M107.3 534.4h0M86.8 544.8h0M82.6 550.2h0M100.2 548.8h0M80.0 544.9h0M86.7 548.9h0M80.8 544.0h0M82.1 546.2h0M96.6 535.4h0M84.7 534.6h0M89.6 546.3h0M76.4 543.8h0M113.6 538.5h0M93.8 542.4h0M84.8 547.4h0M92.7 550.6h0M81.8 552.9h0M75.6 548.2h0M83.5 541.8h0M93.5 547.8h0M100.2 535.0h0M98.2 528.1h0M98.2 539.8h0M95.3 545.8h0M96.0 530.1h0M80.7 541.8h0M94.7 528.4h0M97.6 536.5h0M78.1 542.8h0M82.8 546.5h0M77.5 549.4h0M93.3 542.7h0M92.0 532.3h0M92.8 537.9h0M94.6 547.3h0M68.0 547.0h0M86.9 535.7h0M95.9 544.4h0M75.0 551.3h0M86.2 547.5h0M103.6 536.7h0M76.8 548.8h0M84.6 548.4h0M94.0 538.7h0M89.3 539.8h0M86.4 549.5h0M97.2 534.0h0M92.0 546.8h0M105.0 538.7h0M90.2 534.6h0M79.4 548.7h0M100.2 543.1h0M102.4 543.2h0M80.7 547.6h0M85.1 538.1h0M78.2 548.2h0M90.0 532.1h0M91.8 546.3h0M86.4 545.7h0M102.9 521.0h0M93.2 539.9h0M97.4 540.1h0M92.6 536.2h0M98.5 524.7h0M105.3 531.3h0M102.9 530.4h0M102.7 538.3h0M92.8 525.5h0M91.8 531.5h0M95.9 542.1h0M89.5 547.8h0M86.4 543.4h0M82.1 544.9h0M89.5 531.4h0M106.5 527.3h0M97.4 526.4h0M96.5 538.9h0M95.1 533.2h0M79.4 550.2h0M88.8 539.5h0M89.8 545.8h0M81.1 547.3h0M115.1 531.9h0M77.6 540.2h0M94.2 546.6h0M104.9 542.7h0M75.2 536.8h0M90.4 547.7h0M94.9 548.7h0M88.5 531.6h0M84.7 546.4h0M83.2 541.9h0M90.3 537.0h0M87.9 545.2h0M92.7 547.3h0M83.7 545.4h0M91.0 548.2h0M80.2 548.5h0M87.5 546.0h0M80.8 548.3h0M83.2 547.4h0M106.3 528.9h0M83.0 544.7h0M73.0 544.0h0M85.2 543.5h0M88.6 533.2h0M91.8 545.8h0M88.2 544.5h0M80.7 542.6h0M103.1 530.4h0M93.2 546.0h0M76.8 544.4h0M97.6 532.3h0M83.3 543.9h0M92.4 550.0h0M80.1 530.2h0M100.8 535.8h0M79.7 550.8h0M100.6 533.4h0M84.7 546.7h0M106.4 539.7h0M91.2 542.0h0M88.9 546.1h0M100.6 532.5h0M96.4 526.7h0M102.9 541.0h0M79.7 546.3h0M81.0 542.9h0M78.0 545.4h0M97.5 530.6h0M94.9 536.0h0M107.3 536.2h0M93.3 547.3h0M78.2 545.2h0M98.3 537.9h0M90.3 549.6h0M90.2 544.8h0M88.8 528.3h0M93.5 537.3h0M79.2 547.6h0M79.2 541.8h0M88.5 534.7h0M95.5 550.2h0M98.5 539.9h0M91.8 549.3h0M108.9 533.6h0M92.5 546.9h0M99.2 532.3h0M79.8 546.7h0M92.0 533.2h0M113.5 532.5h0M81.8 545.7h0M94.2 539.3h0M98.1 528.9h0M92.1 544.6h0M80.0 547.1h0M103.2 533.3h0M79.1 547.3h0M94.4 529.5h0M84.6 544.1h0M101.4 533.0h0M101.9 538.1h0M86.5 535.3h0M82.8 539.0h0M104.2 533.9h0M74.0 542.8h0M84.5 542.8h0M93.6 537.5h0M95.9 536.1h0M82.7 544.2h0M99.7 536.7h0M91.3 531.6h0M78.5 546.8h0M80.0 551.9h0M87.2 547.4h0M94.2 544.8h0M79.5 546.3h0M75.2 545.1h0M97.7 542.0h0M85.9 542.2h0M84.7 544.1h0M95.4 546.6h0M111.1 530.2h0M100.0 534.0h0M87.6 546.7h0M92.3 536.3h0M89.2 546.3h0M105.9 537.8h0M94.4 534.8h0M86.5 552.1h0M83.3 548.5h0M85.0 545.6h0M93.5 539.6h0M93.6 537.8h0M75.7 545.1h0M84.1 547.6h0M91.6 548.8h0M83.8 548.8h0M89.7 545.6h0M77.8 547.4h0M92.0 541.5h0M82.7 545.8h0M85.3 546.0h0M74.1 546.0h0M87.6 549.6h0M85.9 548.8h0M88.5 549.4h0M88.8 525.6h0M97.8 540.0h0M86.8 543.3h0M80.3 546.0h0M106.7 535.3h0M105.5 537.7h0M82.1 547.7h0M98.4 553.6h0M77.3 549.2h0M74.4 546.7h0M85.1 548.3h0M101.2 542.4h0M94.4 552.5h0M89.7 545.4h0M92.3 550.4h0M86.4 549.0h0M92.4 533.3h0M91.6 550.2h0M88.3 546.6h0M69.6 547.4h0M91.6 535.0h0M89.8 546.7h0M76.7 544.1h0M78.6 540.9h0M83.3 542.9h0M84.5 545.2h0M95.4 549.5h0M87.0 548.8h0M94.0 547.3h0M94.5 534.2h0M95.5 534.0h0M85.4 545.2h0M93.9 544.4h0M86.0 550.4h0M83.6 546.4h0M105.6 536.4h0M82.1 543.7h0M87.7 535.3h0M85.0 544.7h0M98.9 541.5h0M81.4 545.7h0M98.0 535.2h0M91.8 550.1h0M81.3 549.6h0M94.1 536.9h0M89.1 547.5h0M87.3 545.4h0M93.6 538.7h0M100.7 539.2h0M76.7 546.4h0M97.4 546.3h0M104.8 540.0h0M94.0 543.1h0M93.1 545.7h0M89.8 547.1h0M89.1 551.4h0M85.8 542.9h0M96.0 552.0h0M80.3 548.8h0M87.9 547.2h0M95.5 536.9h0M93.1 555.3h0M87.4 550.6h0M79.1 547.6h0M88.0 543.3h0M96.7 530.3h0M82.5 541.0h0M79.8 544.2h0M103.2 534.0h0M87.5 529.7h0M98.0 538.5h0M90.3 533.9h0M81.1 547.6h0M101.3 531.9h0M78.9 532.4h0M91.4 543.8h0M100.8 543.8h0M75.2 551.0h0M86.5 552.1h0M92.0 530.7h0M90.2 546.0h0M74.8 549.2h0M87.0 529.4h0M88.9 534.7h0M104.5 539.4h0M86.7 543.6h0M103.5 537.2h0M86.3 549.3h0M91.9 547.7h0M83.8 548.2h0M81.0 545.0h0M92.2 548.4h0M91.6 546.5h0M99.3 534.9h0M83.0 544.0h0M89.5 544.6h0M84.2 547.7h0M93.9 542.3h0M99.3 533.6h0M85.2 543.3h0M83.2 548.6h0M88.2 548.4h0M81.3 550.0h0M96.5 543.1h0M80.0 548.6h0M82.3 532.2h0M80.5 545.5h0M105.1 531.5h0M98.8 533.0h0M86.5 535.2h0M101.2 539.5h0" fill="none" stroke="#000" stroke-width="0.75" stroke-linecap="square" stroke-opacity="0.3"/>
</g>
</g>
<path d="M73.3,493.2V567M53.25,540.3H127.55" stroke="#000" stroke-width="1.0"/>
<rect x="53.25" y="493.2" width="74.3" height="73.8" fill="none" stroke="#000" stroke-width="1.3"/>
<text class="t" x="56.45" y="500.5" font-size="5.4" text-anchor="start" fill="#2a2a2a">Q1</text>
<text class="t" x="56.45" y="507.4" font-size="5.4" text-anchor="start" fill="#2a2a2a">0.014</text>
<text class="t" x="123.95" y="500.5" font-size="5.4" text-anchor="end" fill="#2a2a2a">Q2</text>
<text class="t" x="123.95" y="507.4" font-size="5.4" text-anchor="end" fill="#2a2a2a">14.5</text>
<text class="t" x="56.45" y="557.7" font-size="5.4" text-anchor="start" fill="#2a2a2a">Q4</text>
<text class="t" x="123.95" y="557.7" font-size="5.4" text-anchor="end" fill="#2a2a2a">Q3</text>
<text class="t" x="56.45" y="564.4" font-size="5.4" text-anchor="start" fill="#2a2a2a">0.25</text>
<text class="t" x="123.95" y="564.4" font-size="5.4" text-anchor="end" fill="#2a2a2a">85.2</text>
<path d="M50.05,500.4H53.25M50.05,517.1H53.25M50.05,537.2H53.25M50.05,550.4H53.25M50.05,563.2H53.25M51.65,512.07H53.25M51.65,509.13H53.25M51.65,507.05H53.25M51.65,505.43H53.25M51.65,504.1H53.25M51.65,502.99H53.25M51.65,502.02H53.25M51.65,501.16H53.25M51.65,531.15H53.25M51.65,527.61H53.25M51.65,525.1H53.25M51.65,523.15H53.25M51.65,521.56H53.25M51.65,520.21H53.25M51.65,519.05H53.25M51.65,518.02H53.25M51.65,540.45H53.25M51.65,543.7H53.25M51.65,546.95H53.25M51.65,550.2H53.25M51.65,553.45H53.25M51.65,556.7H53.25M51.65,559.95H53.25" stroke="#000" stroke-width="0.9" fill="none"/>
<rect x="50.25" y="548.7" width="3" height="3.4" fill="#000"/>
<text class="t" x="34.15" y="502.4" font-size="8.2" fill="#2a2a2a">10<tspan font-size="5.9" dy="-3.5">5</tspan></text>
<text class="t" x="34.15" y="519.1" font-size="8.2" fill="#2a2a2a">10<tspan font-size="5.9" dy="-3.5">4</tspan></text>
<text class="t" x="34.15" y="539.2" font-size="8.2" fill="#2a2a2a">10<tspan font-size="5.9" dy="-3.5">3</tspan></text>
<text class="t" x="43.25" y="552.4" font-size="8.2" text-anchor="end" fill="#2a2a2a" font-weight="normal" >0</text>
<text class="t" x="28.45" y="565.2" font-size="8.2" fill="#2a2a2a">&#8722;10<tspan font-size="5.9" dy="-3.5">3</tspan></text>
<path d="M56.05,567V569.6M60.05,567V569.6M64.05,567V569.6M67.05,567V569.6M69.55,567V570.2M74.05,567V569.6M78.05,567V569.6M81.05,567V569.6M83.35,567V569.6M85.75,567V570M90.72,567V569.4M93.62,567V569.4M95.68,567V569.4M97.28,567V569.4M98.59,567V569.4M99.69,567V569.4M100.65,567V569.4M101.5,567V569.4M102.25,567V570.6M107.22,567V569.4M110.12,567V569.4M112.18,567V569.4M113.78,567V569.4M115.09,567V569.4M116.19,567V569.4M117.15,567V569.4M118,567V569.4M118.75,567V570M123.72,567V569.4M126.62,567V569.4" stroke="#000" stroke-width="1.05" fill="none"/>
<rect x="67.85" y="567" width="3.4" height="3.6" fill="#000"/>
<text class="t" x="69.55" y="581.2" font-size="8" text-anchor="middle" fill="#2a2a2a" font-weight="normal" >0</text>
<text class="t" x="96.95" y="581.2" font-size="8.2" fill="#2a2a2a">10<tspan font-size="5.9" dy="-3.5">4</tspan></text>
<text transform="translate(25,530.4) rotate(-90)" font-size="10.3" font-weight="bold" text-anchor="middle" fill="#2a2a2a" stroke="#2a2a2a" stroke-width="0.2" textLength="15.8" lengthAdjust="spacingAndGlyphs">CD34</text>
<text x="90.6" y="595.3" font-size="10.0" font-weight="bold" text-anchor="middle" fill="#2a2a2a" stroke="#2a2a2a" stroke-width="0.2" textLength="16.6" lengthAdjust="spacingAndGlyphs">CD33</text>
<text x="8.2" y="18.2" font-size="12.3" text-anchor="start" fill="#000" font-weight="bold" >B</text>
<text x="8" y="375.6" font-size="12.3" text-anchor="start" fill="#000" font-weight="bold" >C</text>
<path d="M0.75,0.75H519.25V722.25H0.75Z" fill="none" stroke="#000" stroke-width="1.5"/>
</svg></body></html>
